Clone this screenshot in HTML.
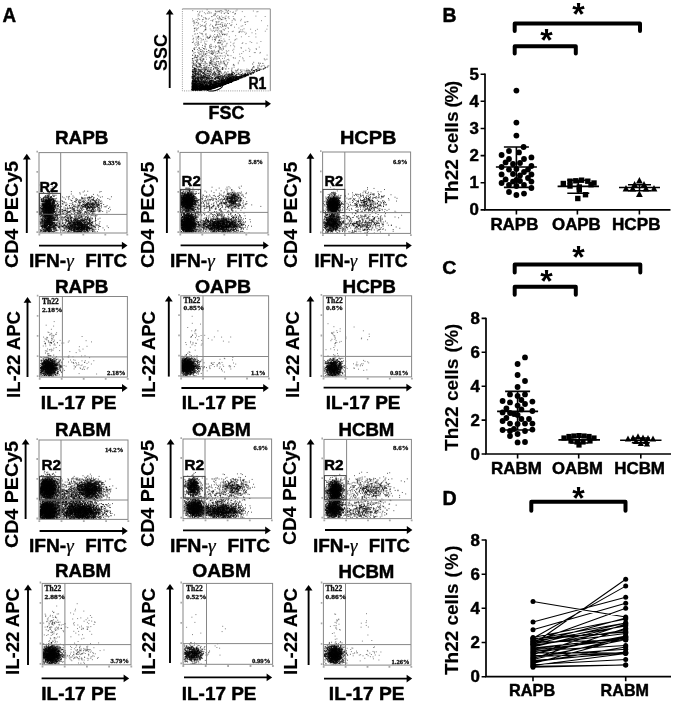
<!DOCTYPE html>
<html lang="en"><head><meta charset="utf-8"><title>Th22 cells figure</title>
<style>html,body{margin:0;padding:0;background:#fff}svg{display:block;filter:blur(.4px)}.s{font-family:"Liberation Sans", Arial, Helvetica, sans-serif;font-weight:bold;stroke:#000;stroke-width:.45px;stroke-linejoin:round}.f{font-family:"Liberation Serif", "Times New Roman", serif;font-weight:bold;stroke:#111;stroke-width:.3px}.sv{stroke-width:.15px}.st{font-family:"Liberation Sans", Arial, Helvetica, sans-serif;font-weight:bold}.gm{font-family:"Liberation Serif", "Times New Roman", serif;font-weight:normal;font-style:italic;stroke-width:.2px}</style></head><body>
<svg width="675" height="703" viewBox="0 0 675 703">
<rect width="675" height="703" fill="#fff"/>
<defs><filter id="bl" x="-5%" y="-5%" width="110%" height="110%"><feGaussianBlur stdDeviation="0.4"/></filter><path id="a" d="M1 27h0M24-10h0M-6-11h0M11-1h0M15-37h0M31-2h0M14-3h0M-8 9h0M16-4h0M-3 14h0M-17-30h0M8-13h0M-38-16h0M-9-24h0M-30 1h0M18-5h0M-15 8h0M14-6h0M11 21h0M-4-16h0M7 5h0M22-26h0M-13-17h0M-35 3h0M11-15h0M28 16h0M13 8h0M19-27h0M12 12h0M-35 7h0M-5 16h0M-9 0h0M7-18h0M12-2h0M10-10h0M22 12h0M-4 13h0M25 36h0M-31 18h0M9-2h0M-20 25h0M-25 11h0M26-32h0M-6-26h0M5 30h0M40-36h0M-11 14h0M32 8h0M-15 6h0M0-4h0" vector-effect="non-scaling-stroke"/><path id="b" d="M-15 8h0M6-2h0M-4-26h0M-10 24h0M-4-29h0M27 11h0M42 1h0M-9-29h0M26 51h0M-16-13h0M12-17h0M-5-7h0M4 22h0M0 18h0M-8 7h0M-43-29h0M16-12h0M12 11h0M26 16h0M20-2h0M-14-15h0M-10-23h0M-11-2h0M5-7h0M-38-1h0M5 22h0M12-13h0M-14 40h0M15 37h0M43-16h0M8 9h0M11 11h0M4 3h0M-30-3h0M-15 3h0M-9 12h0M16 6h0M6 2h0M-9-3h0M-10 8h0M0 12h0M-27 18h0M-15-15h0M-4-11h0M6-11h0M-21-17h0M26 1h0M-23 0h0M-31 36h0M-30 10h0M11-29h0M6 20h0M9 5h0M19 3h0M7-3h0M13-19h0M16-10h0M-22 7h0M34 19h0M-10 14h0M-9-2h0M2-46h0M4-21h0M-14-29h0M-30-19h0M17 33h0M-1 22h0M-5-38h0M3 9h0M-9 6h0M11-17h0M-30-4h0M-4-7h0M20 35h0M-8 14h0M19 14h0M21-8h0M15 40h0M16-12h0M12 25h0M7-11h0M31-25h0M10 0h0M-24 24h0M7-23h0M12-9h0M-38-14h0M5 13h0M3 1h0M9-4h0M24 3h0M6 11h0M-21-14h0M31 7h0M-6 7h0M-10 6h0M-13 6h0M-32 27h0M-10-32h0M-4-7h0" vector-effect="non-scaling-stroke"/><path id="c" d="M3-23h0M8 72h0M-26 7h0M-6 4h0M-36-23h0M9-1h0M33-14h0M3 58h0M-15-18h0M-1-1h0M17 3h0M-15 4h0M53 25h0M-56-3h0M-18 12h0M-3 39h0M19 18h0M4-1h0M7 26h0M11-7h0M26 4h0M-2-16h0M-11-13h0M-56 20h0M11-4h0M21 9h0M7-49h0M-5 11h0M32 37h0M29-23h0M-44 11h0M1 19h0M-3 4h0M-30 9h0M-9 7h0M9-2h0M6 0h0M15 10h0M-11-12h0M35-2h0M20 8h0M-11-15h0M2 5h0M12-25h0M-12-2h0M32-47h0M9-11h0M9-10h0M7 31h0M7 9h0M7-15h0M11-4h0M-16-1h0M-5 15h0M-1-11h0M29 20h0M25 12h0M-2-8h0M-6 19h0M2-30h0M-1-28h0M3-24h0M-25 2h0M-2-33h0M15 43h0M-30 36h0M-14-10h0M-4-29h0M26 10h0M-15-6h0M-30-7h0M19-34h0M-9 3h0M21 27h0M-9-15h0M9-7h0M-6 22h0M34 5h0M-4 11h0M-38 0h0M-21 48h0M14 3h0M-4-50h0M14 33h0M-15 14h0M14-31h0M19 27h0M5-1h0M16-31h0M2 21h0M-25 20h0M-8-42h0M-2-19h0M6-23h0M21-15h0M7-12h0M-6 24h0M4-8h0M-25 23h0M15-7h0M5-21h0M-20-17h0M7 6h0M-15 15h0M16 3h0M21-6h0M-2 9h0M-1 16h0M-25 29h0M-16-3h0M-28 12h0M25 21h0M17-31h0M-16-9h0M-19 22h0M4 0h0M10-19h0M-18-18h0M10 7h0M12 22h0M-27-11h0M3-27h0M-11 20h0M22 22h0M1-4h0M22-7h0M7 27h0M-7-12h0M0 12h0M10 3h0M11-32h0M-17 3h0M-19-27h0M-24-18h0M-4-20h0M5 34h0M-3 25h0M6-22h0M-5-20h0M15-23h0M26 12h0M-40 16h0M31-16h0M20-36h0M5-33h0M10-36h0M-53 8h0M46-12h0M17 2h0M-6 12h0M33-25h0M11 7h0M-28 32h0M39-19h0M35 1h0M-3 30h0M5 6h0M30 26h0M18-28h0M-31 23h0M-19 3h0M-21-4h0M-26 33h0M-20-2h0M-4 24h0M-28-1h0M-4 11h0M9-9h0M5-7h0M9-2h0M-13-1h0M7 45h0M-10 6h0M29-42h0M-35-24h0M-2 49h0M8 24h0M-4-49h0M-46 20h0M4-26h0M22-31h0M23 29h0M-15-22h0M17-22h0M17-24h0M16 2h0M-9-18h0M5-38h0M-6-8h0M14-25h0M34-6h0M-23 28h0M33-4h0M-18 0h0M-14-6h0M31 8h0M3 7h0M-1 17h0M18-7h0M2 48h0" vector-effect="non-scaling-stroke"/><path id="d" d="M8-4h0M41 0h0M-22 13h0M-18-10h0M7-3h0M-15-11h0M-12 23h0M-14-11h0M41-11h0M30 26h0M-3-28h0M9 13h0M19 1h0M24 28h0M-21 29h0M3-11h0M-6 38h0M20-36h0M2-3h0M-4-10h0M-29 17h0M-19-7h0M-12-15h0M15 8h0M-13-19h0M-9 19h0M3 5h0M-7-5h0M4-37h0M32-16h0M-11 27h0M4 1h0M-12-31h0M4 24h0M-18 27h0M-23-15h0M10 0h0M14-15h0M-21-37h0M-24-22h0M-29 6h0M-13-40h0M50-17h0M-25 25h0M23-23h0M-29-20h0M23-6h0M-16-1h0M24-28h0M-8-28h0M43 36h0M19-3h0M13-42h0M6-27h0M-26-14h0M-7 11h0M14 5h0M-19 14h0M-2 24h0M-18-55h0M-10 43h0M9-4h0M18 10h0M9-10h0M2 4h0M-13-22h0M3 19h0M13 10h0M10 52h0M5 21h0M39 1h0M5 21h0M34 6h0M7 2h0M-24 22h0M-5-34h0M-3-35h0M-20 0h0M-18 22h0M-29 5h0M11 29h0M19 5h0M2-1h0M23-13h0M11-2h0M5-5h0M43-13h0M5 6h0M12 9h0M9 20h0M-30 0h0M-24 5h0M-23-19h0M-1 28h0M12 6h0M28-19h0M-42-8h0M-5 25h0M43-26h0M50 32h0M17 8h0M49 2h0M-9 3h0M-27 10h0M-2 7h0M7-21h0M27-20h0M18-32h0M8-16h0M1-13h0M-43-22h0M2 13h0M-29-42h0M-17-4h0M-12-16h0M17 20h0M15-18h0M2-4h0M-28 18h0M2-9h0M29 16h0M17 24h0M15-25h0M-7 20h0M-15 1h0M8 29h0M26 18h0M-3 19h0M11-3h0M27 10h0M-15 26h0M-5 12h0M-30 0h0M-19-19h0M-38 43h0M-3 5h0M22-2h0M10-27h0M4-8h0M10 4h0M-28-37h0M-20 15h0M9 8h0M-40-54h0M-12-7h0M-12 7h0M-3-24h0M-17 3h0M2-1h0M45-5h0M2-20h0M-7 11h0M11-3h0M8 1h0M-38-65h0M46 17h0M-1-35h0M-26 27h0M-56-6h0M17 3h0M15-3h0M48-21h0M-27 5h0M29-1h0M21-11h0M-24 28h0M31 31h0M-9-23h0M-23-4h0M12 10h0M-29 4h0M0 2h0M0-4h0M12 3h0M5-14h0M8-2h0M-42 10h0M-5 19h0M-3-2h0M4 0h0M-9-36h0M37-32h0M-7 13h0M8 11h0M15 25h0M6 58h0M-20 5h0M-7-11h0M6 29h0M-14-14h0M14 11h0M39 21h0M5-7h0M4-4h0M-27 0h0M-4-5h0M-9 34h0M14 19h0M-12-20h0M-6 5h0M-7-4h0M19 6h0M-20-9h0M-13 4h0M-23-4h0M14 1h0M-18-12h0M2 10h0M17-3h0M-26 28h0M6 8h0M6-21h0M-6 5h0M21 1h0M-62-5h0M7 26h0M14 50h0M28 27h0M19-28h0M17 12h0M-11 12h0M8-9h0M-2-5h0M5-8h0M11-38h0M-6-34h0M-10 10h0M0-2h0M1 31h0M-22 18h0M-30-9h0M3-17h0M4 15h0M-24-2h0M-8-39h0M-4-16h0M27-18h0M34-11h0M39 11h0M9 16h0M18 28h0M35-7h0M-25-53h0M-8 15h0M8 2h0M-7-13h0M-6 8h0M-35 15h0M-29-3h0M-13-7h0M-21-23h0M-5-22h0M49-8h0M-13-11h0M-22-49h0M-5 6h0M-30 0h0M-24-1h0M7 10h0M9-14h0M17-9h0M7 14h0M-6-26h0M12-23h0M-18-22h0M17-3h0M-45 15h0M41 36h0M-12 1h0M10 18h0M1-22h0M15 12h0M-27-8h0M5 0h0M10 16h0M11-3h0M-27 12h0M28 39h0M-1-1h0M29 29h0M7 14h0M-15 11h0M-17-3h0M-3-10h0M-43-17h0M6-1h0M-8 8h0M13 17h0M-16 0h0M-7-18h0M-30-2h0M-18 43h0M-2-5h0M-8 37h0M-19-4h0M-16-3h0M-1 22h0M-29-1h0M32-11h0M-4-18h0M-53-2h0M23-10h0M-37 5h0M1 20h0M18-6h0M8-36h0M22 3h0M21 21h0M-6-3h0M-18-42h0M-3 3h0M-22 14h0M2 9h0M-16-36h0M15 12h0M-3-9h0M-6-3h0M-11-41h0M15-30h0M-7-6h0M5-33h0M24 13h0M15 25h0M-16-63h0M6 26h0M23-11h0M-2 6h0M-36-13h0M-13 32h0M-13 31h0M0-34h0M44-19h0M12 34h0M-11-25h0M21 1h0M-25-22h0M-8 19h0M-6 13h0M33 25h0M29 25h0M-32 24h0M7-2h0M-22-32h0M-22 0h0M-24-16h0M-12 13h0M-6-3h0M27-6h0M12-21h0M7 2h0M4-9h0M-21-6h0M-9 21h0M18-24h0M13-10h0M9-10h0M-29 20h0M9-25h0M-38-11h0M-24-7h0M12 29h0M-7 28h0M23-9h0M-33 17h0M12 47h0M29 16h0M34-21h0M4-5h0M35 11h0M-61 28h0M-18 16h0M-9 5h0M13 4h0M-19 28h0M8 0h0M14-10h0M38 5h0M8 7h0M-18-23h0M5 7h0M27 9h0M-21 11h0M17 20h0M7-24h0M24-14h0M12-31h0M16-15h0M22 36h0M24-23h0M-19-17h0M14 7h0M4 7h0M12 13h0M34-1h0M4-37h0M-26-14h0M-23 5h0M21-8h0M-10-10h0M3-11h0" vector-effect="non-scaling-stroke"/><path id="e" d="M9 6h0M7 15h0M1 3h0M35-1h0M16 1h0M-9-9h0M-16 0h0M-12-8h0M24-3h0M23 5h0M17-12h0M3 53h0M16 20h0M5 17h0M-23-17h0M8 16h0M-8-4h0M-7-4h0M-24-29h0M-2-35h0M-20-13h0M-21 4h0M-9-2h0M-21-15h0M10 7h0M-10 7h0M3 3h0M31-9h0M8 8h0M-5-24h0M13 5h0M0 0h0M0-19h0M5-37h0M-1-31h0M-8 13h0M-6-11h0M9-6h0M-9-9h0M29 12h0M9-25h0M11-27h0M8-23h0M38-35h0M23 15h0M-37-6h0M28 22h0M-34-12h0M-25-22h0M-14 36h0M1-6h0M-8 12h0M13-20h0M28-23h0M-7 8h0M33-8h0M4 25h0M11 21h0M19 4h0M11 17h0M-2 31h0M-41-20h0M28 7h0M-14 6h0M20-12h0M14-4h0M-4-3h0M21-24h0M-9 12h0M-26-33h0M10-1h0M-4 2h0M-21 57h0M-21-10h0M-30-10h0M29-1h0M11-11h0M35 2h0M-26 14h0M-9 11h0M2 4h0M1-19h0M-31 18h0M-4 4h0M-11-42h0M-27 27h0M-17-9h0M-31-12h0M-9-6h0M-3-14h0M-13-2h0M5-4h0M34 3h0M2-14h0M19-22h0M-34-21h0M11-24h0M24-2h0M-32-6h0M34-19h0M-28 9h0M25 19h0M-8 2h0M5 22h0M42-4h0M25-8h0M10-20h0M-17 7h0M-19 16h0M-12 0h0M-3-8h0M1 20h0M61-25h0M5-5h0M-20 4h0M-19-3h0M23-42h0M4 8h0M-21 9h0M6-8h0M23-28h0M11-6h0M-23-5h0M-8 15h0M-31-5h0M-11 30h0M-24 20h0M-37 5h0M-4 6h0M-16-41h0M-32 25h0M3-19h0M16-17h0M-16-26h0M22 38h0M-21 4h0M18 41h0M-50 1h0M11-31h0M6 2h0M13-14h0M6-14h0M10 1h0M-9-30h0M31 20h0M16-15h0M-9 31h0M13-19h0M-1 1h0M-6-21h0M23 10h0M-6-33h0M-13-2h0M16-9h0M20 1h0M-17-58h0M-25-31h0M-5 5h0M26-2h0M-25 45h0M5-7h0M-7-29h0M11 6h0M30 21h0M16 24h0M-7-10h0M-2-26h0M-4-8h0M12-2h0M-39-1h0M27-38h0M-16-1h0M-28-12h0M0-27h0M5 7h0M-26 0h0M21-4h0M8 12h0M-6 19h0M7-21h0M10 16h0M15-14h0M8 27h0M4 23h0M25-1h0M13-6h0M21-2h0M-12-1h0M-2 7h0M9-24h0M-14 7h0M9 1h0M52 22h0M-2 14h0M26 7h0M-35 2h0M1 42h0M-37 31h0M-3 19h0M-6 4h0M23 2h0M21-2h0M-8-4h0M-10-2h0M27-23h0M-33 0h0M34 21h0M27 25h0M-14 3h0M-53-12h0M13-31h0M-41-26h0M5 24h0M52 29h0M-30-46h0M4 22h0M-32-10h0M-8 2h0M-3 11h0M22 2h0M16 41h0M-19-20h0M11 38h0M5 23h0M-5 20h0M-11 15h0M9 9h0M29 23h0M-10 19h0M-32 22h0M57 12h0M12 3h0M19-7h0M16-3h0M-6 5h0M1-32h0M44 5h0M-31 24h0M2 7h0M17-15h0M-56 1h0M7 23h0M-13-3h0M10-4h0M-2 8h0M-17 34h0M-16 3h0M-4-12h0M13 23h0M32 14h0M-7 20h0M-26 3h0M13 14h0M-21-28h0M36-8h0M-31-23h0M2 26h0M2 26h0M7 11h0M22-6h0M8-6h0M-11 15h0M-15 3h0M-14 0h0M-9 24h0M3 3h0M34-56h0M-21-54h0M1 10h0M14 6h0M-16 36h0M7-4h0M-22 9h0M-9-8h0M5 5h0M-16 26h0M-19-22h0M7 3h0M2-8h0M1-11h0M-33 15h0M-20-4h0M15 1h0M55-28h0M-15 2h0M27-5h0M-28 23h0M-18-4h0M18-13h0M-9 10h0M-4 6h0M-19-2h0M-22-31h0M35 9h0M18-19h0M0-4h0M-28 11h0M-14-4h0M-30 20h0M15 8h0M-18-11h0M25-5h0M5 3h0M-22 31h0M-40 5h0M-2-32h0M7 10h0M1-16h0M9 22h0M5 35h0M17 15h0M28-13h0M-10 10h0M10 30h0M23 4h0M5-5h0M-7-9h0M18-9h0M-7 3h0M-10-4h0M-43 8h0M-6 4h0M8-36h0M49 4h0M5-34h0M14 10h0M-5 7h0M28-4h0M-16 29h0M8-1h0M49 6h0M-1 8h0M-5 7h0M6-10h0M-2 9h0M10 14h0M18 8h0M13-5h0M-3 23h0M-37 10h0M66-35h0M32-33h0M9 34h0M32-16h0M-24-27h0M16-6h0M1 6h0M9 12h0M4-31h0M30-54h0M26-11h0M-3-10h0M-7 0h0M-5-21h0M18-11h0M28-2h0M-13 9h0M19-18h0M-5 29h0M-19-16h0M4-24h0M-49-33h0M8 14h0M13 9h0M-24 14h0M24-13h0M20-7h0M5 8h0M-29 30h0M-16-1h0M-9 10h0M9 1h0M29 6h0M-7-57h0M-5-5h0M-17-16h0M13 22h0M39 24h0M-13 6h0M-26 15h0M8-11h0M-1-4h0M-12 27h0M63 17h0M22 4h0M-6 45h0M-6 9h0M-2 13h0M0 13h0M-24-1h0M28-20h0M-12 28h0M9 22h0M-44 4h0M-25-27h0M9 25h0M-29-21h0M-11-2h0M-26 46h0M13-6h0" vector-effect="non-scaling-stroke"/><path id="f" d="M-10 47h0M46-9h0M8 26h0M-23-11h0M28-13h0M-8-26h0M-15 14h0M-16-26h0M-12 36h0M4-11h0M3 9h0M3-36h0M6-4h0M17-27h0M21-10h0M-34 27h0M-10 8h0M-3 22h0M22 23h0M14-32h0M-34 4h0M-19 9h0M3-28h0M-21-23h0M-18-4h0M14 27h0M-20-11h0M31 18h0M5-47h0M-20 3h0M-12 40h0M2 6h0M-22-21h0M-14-13h0M-5 7h0M5 20h0M-27 4h0M5 32h0M-4 7h0M-17 8h0M8-13h0M-9-1h0M12-23h0M18-7h0M38 29h0M-8-13h0M50 13h0M11-9h0M-3 16h0M12-17h0M25 6h0M-19 20h0M-4 16h0M-11 7h0M-33 7h0M-31 3h0M-51-1h0M15 10h0M24-22h0M32 32h0M-24-16h0M-12-1h0M4-50h0M12-5h0M-21 19h0M-7 23h0M11-7h0M24 16h0M-10-33h0M-11 12h0M-5 35h0M5 4h0M8-18h0M-3-13h0M-47-36h0M15-9h0M-3-30h0M-12 16h0M2-11h0M31-1h0M-7 23h0M-35 11h0M-23-16h0M-14 2h0M2 6h0M4 28h0M34 14h0M15-8h0M-22 12h0M1 17h0M-37 54h0M-26 1h0M20-28h0M-11-41h0M-29-39h0M2 6h0M-6 25h0M28 0h0M-4-6h0M-9 26h0M5-7h0M-5 11h0M-8 6h0M-1 27h0M23-29h0M-3 14h0M-9 16h0M7 12h0M-1 6h0M11-30h0M-18-20h0M34 6h0M8 4h0M-10-15h0M17-7h0M32 4h0M2-4h0M-1 1h0M31 47h0M-23 5h0M14-18h0M-13-9h0M-48 13h0M-1-2h0M2 5h0M47 4h0M17-10h0M7-6h0M-3-18h0M-16 9h0M15 9h0M-13 7h0M-51 19h0M0 6h0M24-8h0M20-8h0M11-8h0M6 30h0M-13-12h0M-6 6h0M56-11h0M-40-13h0M-31-11h0M1-19h0M-13-37h0M4-14h0M22 22h0M-17-7h0M2 16h0M-33-1h0M38-1h0M5 1h0M-23 20h0M6 4h0M15 17h0M-37 10h0M-11 4h0M-13-16h0M20 1h0M-5-5h0M3 1h0M-46-16h0M-4 16h0M28-18h0M40 3h0M11-9h0M-11 30h0M-3-1h0M25 36h0M-29-2h0M1 38h0M51 1h0M9 19h0M25-5h0M19-12h0M-52-26h0M6 18h0M-43-34h0M1-66h0M13 23h0M-58 18h0M-2 31h0M8-2h0M5 21h0M6 3h0M-26 12h0M3 40h0M2 1h0M-10 17h0M-1-11h0M35 39h0M-6-18h0M26-14h0M60 0h0M22-23h0M2 25h0M12-8h0M52 18h0M-2-9h0M-2 30h0M-12 4h0M-13 28h0M0 20h0M14-9h0M17 22h0M-20 17h0M75-3h0M16-24h0M12-9h0M19 2h0M-21 25h0M-1-17h0M4-16h0M11 2h0M-4 17h0M-23 23h0M-37 36h0M7-2h0M-12 14h0M0 0h0M24-6h0M-2 12h0M25 0h0M6 4h0M18 33h0M-16 0h0M2 15h0M33 3h0M7 26h0M-22-12h0M-6 3h0M8-7h0M39-11h0M-1 25h0M19 3h0M11 20h0M3 16h0M-16 4h0M-30-15h0M-20 28h0M-7 9h0M-16-1h0M-3-15h0M20-31h0M15 57h0M-14 3h0M-29 2h0M-33 15h0M-8-35h0M-24-30h0M-4 19h0M-6-22h0M-15 4h0M-48 13h0M10-49h0M25-32h0M-3 25h0M-32-37h0M-22-21h0M-2-10h0M-9-9h0M-3-17h0M7 1h0M-20 38h0M-25 16h0M-14 8h0M12 18h0M30-16h0M59 9h0M-15-27h0M49 35h0M1 17h0M28 3h0M-7 1h0M19 2h0M-24 17h0M-34-14h0M27 6h0M6 4h0M23 0h0M-38 7h0M-61-40h0M34 23h0M-8 0h0M3 22h0M-14-17h0M-11 4h0M7-7h0M17-19h0M0-13h0M-19 27h0M-5-19h0M2-19h0M14 19h0M22-20h0M-2 39h0M-3 27h0M33-27h0M26 17h0M19 36h0M11 3h0M14-6h0M12-40h0M37-9h0M13 8h0M4 4h0M3-32h0M-10 26h0M-19-20h0M45 26h0M33 1h0M7 17h0M13 0h0M-28-14h0M-29 33h0M-7-2h0M7 2h0M12-12h0M-30 37h0M-13-9h0M-15-10h0M1 16h0M-21 7h0M-13 25h0M-24 3h0M15-27h0M3 4h0M-16-4h0M21 6h0M-8-4h0M10 26h0M17 15h0M32-31h0M-29-46h0M17-46h0M-1 16h0M-28-13h0M-5 15h0M-30 7h0M14 3h0M3 25h0M5 0h0M-7 13h0M-6 13h0M2 23h0M-16 2h0M7 8h0M23 8h0M18 39h0M17-21h0M-29 14h0M-7 6h0M-3 26h0M24-23h0M6-6h0M-26 13h0M-3 9h0M50 27h0M22-8h0M-24 25h0M-6 1h0M-7 2h0M48-6h0M-6 4h0M6-24h0M-36-12h0M-4-16h0M-20-19h0M-8-3h0M-33-11h0M7-3h0M-28-8h0M-1 15h0M-33 13h0M-10 4h0M13-18h0M-17-3h0M14-12h0M-29-15h0M7 22h0M-11-7h0M-4-3h0M-20-10h0M3 1h0M0-21h0M-12-15h0M20 28h0M6 31h0M-7-7h0M-27 4h0M-10 1h0M9-6h0M-23-2h0M-2 0h0M13-5h0M-6 34h0M21-2h0M-19-9h0M7 16h0M47-5h0M3-7h0M1-8h0M-21 20h0M2 25h0M-10 5h0M13-37h0M-26 15h0M2-36h0M-15-21h0M-9 31h0M-11 40h0M-5-14h0M31 19h0M28 39h0M21 25h0M-34-16h0M9 5h0M15-9h0M23 41h0M12 17h0M11 19h0M5-9h0M5 3h0M-29 6h0M1 5h0M-10 10h0M13-13h0M7 16h0M16-17h0M-19 1h0M-20 50h0M-15-15h0M13-9h0M-46-3h0M-19-10h0M-32-18h0M-3-2h0M-22-15h0M-17 2h0M-4-25h0M12-15h0M7-19h0M5-3h0M0 9h0M8 2h0M2-26h0M-3-44h0M-45-7h0M-6 28h0M12 21h0M-7 8h0M22 9h0M6 1h0M-19-18h0M-29 7h0M-6-14h0M6-12h0M20 37h0M8-14h0M-30 39h0M8-24h0M21-33h0M-9-5h0M-8-23h0M47-8h0M7 0h0M-32-11h0M4 18h0M-7 7h0M-7 11h0M-49 12h0M-13-12h0M-57-21h0M12 46h0M-14-13h0M9 5h0M-12-4h0M-8 12h0M16 35h0M18 13h0M3 18h0M-20 43h0M5 28h0M-16 20h0M8-4h0M-13-18h0M36 24h0M2 4h0M-14-37h0M-36-12h0M-3-23h0M16 10h0M3-35h0M-4-1h0M-25-44h0M38 12h0M-8 32h0M22 9h0M4 16h0M29 1h0M-5 12h0M-56 2h0M-8 0h0M-4 7h0M2 1h0M-3 9h0M-10 20h0M-34 4h0M9-25h0M-9 26h0M-3-18h0M-60 7h0M2 12h0M41 0h0M3-14h0M-1-1h0M15 11h0M-15-10h0M28-19h0M15 32h0M13 5h0M27 7h0M0-4h0M23 14h0M31-7h0M-6-9h0M6-14h0M19 7h0M-20-59h0M-37 29h0M-1 3h0M-9 8h0M-38-40h0M-33 1h0M14 9h0M-3-26h0M16-6h0M0-2h0M-9-15h0M-12-26h0M5-4h0M20-36h0M23-2h0M-3-16h0M-16-30h0M18-4h0M14 16h0M-10-5h0M-7 20h0M3 3h0M14-2h0M41-19h0M25 28h0M-23 17h0M6 17h0M-24 5h0M-20-7h0M28-3h0M-45-28h0M-23 20h0M-14-31h0M22 5h0M7-16h0M29-2h0M-39-23h0M-17-3h0M15-15h0M-12 44h0M2-11h0M1-25h0M11 19h0M-12 20h0M-6 6h0M-15-16h0M-30 4h0M-6-5h0M-23-23h0M-13 9h0M6-14h0M6 35h0M2 40h0M9 27h0M-11 23h0M-24 5h0M-7-40h0M-27 23h0M10 26h0M4-58h0M5-11h0M-10-9h0M-15-19h0M25 9h0M-13-9h0M19 8h0M4-25h0M-9-23h0M-38 18h0M-7-8h0M-19 15h0M42 12h0M18-25h0M3 4h0M30 0h0M-19-1h0M-9 29h0M13 7h0M3 17h0M-10-19h0M-38 24h0M10 13h0M1 33h0M-20 24h0M-17-9h0M-25 2h0M-6 8h0M-12-28h0M11 25h0M14-1h0M8-34h0M-7 23h0M9-18h0M17-3h0M14-29h0M-11 6h0M6 11h0M-1-4h0M9 17h0M-31-7h0M-5 3h0M20-27h0M10-35h0M-16-11h0M-6-13h0M-11-7h0M-6-37h0M-28-9h0M10 20h0M56 2h0M-16 3h0M13 2h0M-22-2h0M-1-28h0M-24 23h0M-45 3h0M-6 27h0M12-18h0M25-12h0M39 33h0M-2 15h0M3-18h0M21 8h0M17 21h0M28 20h0M-2 2h0M8-3h0M-5 37h0M10 37h0M-15-1h0M-9-8h0M-6-3h0M-9 36h0M13-15h0M-11 15h0M11-12h0M18-28h0M-9 34h0M-52-4h0M20-3h0M-16-18h0M-41-26h0M1-11h0M0-3h0M6-33h0M-6-7h0M-6-18h0M-43 12h0M16 47h0M14 32h0M12-8h0M10-23h0M5-2h0M-21 24h0M22 9h0M16 33h0M-3-27h0M-19 14h0M5-29h0M26 4h0M32 22h0M-9 2h0M-14-17h0M-6 10h0M27-17h0M14 1h0M-4 23h0M-7 28h0M-6-18h0M16-28h0M-23-3h0M1-5h0M-39-26h0M11 11h0M-19 6h0M5 21h0M-14 30h0M-5 29h0M19-19h0M-6 6h0M21-27h0M-9 13h0M10-20h0M-17 9h0M-20 5h0M19 1h0M-53 24h0M24 29h0M18-33h0M29 8h0M19-2h0M-4-4h0M32 6h0M-3-25h0M10 1h0M4 20h0M15 1h0M5 3h0M15 14h0M4-16h0M18 19h0M-21 8h0M-7-43h0M0 20h0M-14-13h0M21-21h0M-18-6h0M13 13h0M-10-6h0M2-7h0M-17-21h0M15-4h0M58 13h0M-15 0h0M7 8h0M9 9h0M-2 13h0M44-8h0M-7 15h0M25 17h0M25-1h0M-4 13h0M14 34h0M31-36h0M16-13h0M-42 8h0M-3-7h0M-25-20h0M-4-29h0M-2 3h0M-3 6h0M-1-23h0M-20 3h0M19 3h0M-10 3h0M-36-20h0M-7-1h0M-6-5h0M-24-11h0M5-37h0M-24-7h0M30 13h0M31 27h0M-9-1h0M-23 23h0M15 12h0M13 9h0M4 6h0M24-16h0M-21 0h0M23 5h0M-4 17h0M2-38h0M-20-42h0M-4-9h0M9 42h0M-12 0h0M-8-56h0M-15-14h0M6-17h0M-26 12h0M-1-18h0M-15-6h0M16 28h0M-26 23h0M1 7h0M19-19h0M17-26h0M-9-17h0M34 33h0M15 10h0M-10 35h0" vector-effect="non-scaling-stroke"/><path id="g" d="M28 18h0M-2-7h0M-1 27h0M-18 3h0M33 18h0M35 9h0M9 28h0M14 7h0M-10-29h0M30-8h0M-14 18h0M-17-26h0M-11 0h0M6 11h0M20-1h0M8-1h0M-12 9h0M8 38h0M13-13h0M13-4h0M32-33h0M-12-12h0M3-2h0M-30-36h0M5 30h0M30-7h0M10-16h0M-28 25h0M14-6h0M-6 19h0M7-6h0M7 1h0M-7-13h0M19-8h0M-22 37h0M26 11h0M0 5h0M-27 1h0M7-3h0M10-14h0M5-30h0M0-11h0M-25-7h0M1-11h0M19-13h0M19 15h0M-11 29h0M-26 11h0M2 16h0M-30-23h0M-16 1h0M2 1h0M-5-13h0M-26-8h0M11 20h0M-10 21h0M-26 16h0M-21 5h0M-18-19h0M-10 28h0M-13 12h0M3 6h0M6 13h0M-23 1h0M7-11h0M7-20h0M14-13h0M-5 16h0M21-11h0M-12 20h0M-56 26h0M26-21h0M24 7h0M9-45h0M-9-4h0M-8-7h0M-5-56h0M-4-13h0M-2-10h0M0 6h0M35-16h0M33-5h0M-17-28h0M17-30h0M18 7h0M-11-13h0M10 3h0M15 0h0M-10 11h0M-23 17h0M1-22h0M-20-6h0M-36 27h0M19-21h0M-2 33h0M8-20h0M-42-32h0M23 6h0M-26 14h0M-7-13h0M-10-9h0M33-19h0M-8 26h0M30-19h0M41 22h0M-29 36h0M-29 13h0M-23-35h0M17 8h0M-2 4h0M-2-5h0M-21 12h0M0-5h0M-11-6h0M-30-6h0M-19 25h0M-19-9h0M0 16h0M9 0h0M43 0h0M6 54h0M-18 19h0M9-26h0M-12 17h0M-29-4h0M19-5h0M5-13h0M-12-12h0M-7 13h0M2 39h0M11 6h0M45-2h0M-16 3h0M-22 10h0M27 13h0M-8-3h0M10 23h0M-8-8h0M22 4h0M7 10h0M-15-3h0M21-3h0M-4 6h0M8 51h0M-16 3h0M40 1h0M8-29h0M19 17h0M16-3h0M7-1h0M17 0h0M16-26h0M-6-56h0M-3 15h0M-5 47h0M-20-7h0M-18-10h0M-9-29h0M-19 40h0M-5 18h0M-25-2h0M11-3h0M-10-4h0M1 17h0M24-26h0M-41-4h0M0 14h0M21-13h0M41 5h0M-35 19h0M6 6h0M-32-6h0M3-3h0M14 25h0M30 25h0M-3 34h0M5 17h0M-5-28h0M-45 4h0M-13 0h0M18-30h0M-35 5h0M7-5h0M-10-32h0M-2-15h0M9 19h0M-11 8h0M4 14h0M31 13h0M14 16h0M-8 0h0M7 25h0M26 45h0M-22-1h0M-34-11h0M-33 23h0M15-21h0M7 15h0M35 17h0M3-2h0M13 6h0M-9-24h0M21-14h0M-5 16h0M-1 23h0M-22 15h0M-26-30h0M-21 2h0M-13-27h0M24-19h0M-2 5h0M-9 7h0M12-2h0M21-12h0M-21 4h0M-19 8h0M-2-9h0M12 11h0M-59-6h0M3 10h0M-11-23h0M3 14h0M-41-30h0M-12-52h0M-12 16h0M-21 3h0M-18 8h0M13 26h0M1 21h0M8-9h0M29-12h0M3 49h0M17-16h0M6-11h0M-3-30h0M4-31h0M7 7h0M17 44h0M-33-24h0M-20-11h0M18-7h0M-12-23h0M-13-9h0M-2-29h0M-2 11h0M7-25h0M16 16h0M6-25h0M-29 1h0M-21-27h0M18 18h0M13 26h0M18-23h0M23 2h0M9 31h0M9 31h0M1-8h0M-14-3h0M-34-1h0M-2-11h0M-45-43h0M14-19h0M27-14h0M7-29h0M-13-4h0M12 34h0M19-29h0M0-3h0M-13 12h0M32-9h0M22 28h0M-21 35h0M34 6h0M34 5h0M23 13h0M-17 5h0M-3-10h0M-23-16h0M-25 23h0M-39 2h0M-12-25h0M15-16h0M24-4h0M7-3h0M13 19h0M-9 0h0M35-11h0M36-8h0M-11-34h0M-17-35h0M-11 14h0M-1-12h0M-21-14h0M-29-25h0M39 5h0M-18 13h0M30-13h0M-2-25h0M-32 28h0M69-15h0M-33 28h0M21 10h0M29-7h0M6 16h0M-6 10h0M-5 9h0M3-40h0M2-29h0M-17-33h0M16-7h0M-8 25h0M14-4h0M-42 13h0M-5-7h0M15-13h0M-2 18h0M11-12h0M29 23h0M38-1h0M4 21h0M9 3h0M-2-6h0M-13-13h0M8-6h0M-28 1h0M33 27h0M-40-17h0M16 2h0M1-3h0M1-20h0M24-21h0M-3 31h0M22 0h0M0-12h0M-10-5h0M27-9h0M11 9h0M8-5h0M15 3h0M2-9h0M-43 15h0M15-10h0M-3 6h0M-19 15h0M15 17h0M19-37h0M11-8h0M23 22h0M17-1h0M56 0h0M-20 20h0M-28 39h0M21 27h0M21 9h0M-25-11h0M12-3h0M8-13h0M-15 7h0M16 1h0M-19-32h0M41-22h0M-17-14h0M18-14h0M12 7h0M-22 4h0M-24-3h0M15-4h0M-18-8h0M-3 7h0M-45-36h0M10-2h0M0 4h0M-3-9h0M2 13h0M7 0h0M-21 5h0M-23-13h0M3 2h0M22 17h0M10-7h0M0-5h0M34 9h0M-13-17h0M24-17h0M7 3h0M21-17h0M9 4h0M16 27h0M2-4h0M17-28h0M4-19h0M-24-31h0M-33 16h0M17 2h0M21 1h0M-10-21h0M15 16h0M25-16h0M-5-26h0M23 14h0M10 0h0M-3-7h0M22-12h0M18 6h0M-20-28h0M-15 0h0M-25 13h0M23 11h0M-33-46h0M18 30h0M-8 11h0M-5-12h0M20-11h0M17 34h0M-2 37h0M-26 19h0M1 51h0M1-15h0M33-30h0M9-15h0M28-2h0M17 0h0M-22-42h0M36 5h0M-23-6h0M20-29h0M45-5h0M-7 26h0M4-20h0M19 9h0M23-18h0M-22 13h0M-8-43h0M-11 13h0M-14 26h0M-10-2h0M-32-16h0M-4 12h0M4 21h0M-43 1h0M-3-21h0M-1-15h0M9-7h0M10-18h0M25 8h0M36-3h0M-10 3h0M-9-21h0M0-1h0M-13-8h0M-19 3h0M-27 34h0M1 19h0M-24 7h0M-3 20h0M17-33h0M23-30h0M27-1h0M-24 14h0M1-20h0M-15 10h0M-27-17h0M37-15h0M7 9h0M19 18h0M-51-10h0M24-16h0M37 5h0M-24 11h0M39-13h0M11-18h0M-12 2h0M10 7h0M4 48h0M-22-37h0M11 4h0M-29 35h0M-14-28h0M9 13h0M48-31h0M-26-5h0M-9-1h0M-14-31h0M-9 14h0M16-13h0M11 8h0M-10-7h0M1 57h0M3-18h0M-3-11h0M23-43h0M-22 17h0M9 1h0M15-27h0M8-23h0M-26 10h0M-16-7h0M13-21h0M13 46h0M-4 20h0M16-25h0M-27 0h0M-43 1h0M6 10h0M9 27h0M-6 28h0M11 11h0M-3 20h0M-15 15h0M23-13h0M-19-15h0M0 8h0M18 39h0M33 6h0M-7-24h0M17 11h0M-5-3h0M-2-52h0M-1 7h0M-2-21h0M1 10h0M37 22h0M12-1h0M-27-9h0M-27-2h0M22 22h0M19 1h0M21-5h0M-39 3h0M1-35h0M-10-49h0M-9 25h0M-13 27h0M5-15h0M-36 16h0M14-30h0M-8 23h0M-15 8h0M-39-18h0M15-24h0M-29-28h0M-7-31h0M-2 12h0M31-8h0M33 12h0M-4 11h0M31 31h0M16-1h0M17 5h0M4 6h0M37-24h0M-1-22h0M18 23h0M28-7h0M2 16h0M4 6h0M5 6h0M-2 9h0M-29-8h0M-26-1h0M-14 11h0M26-25h0M-15 7h0M30 16h0M10-1h0M-8 8h0M11 4h0M-11-32h0M-17-7h0M-23 7h0M-28-6h0M8 17h0M5 25h0M-11-15h0M23-17h0M-3-34h0M23 15h0M-15-35h0M6 6h0M24 38h0M5-4h0M-4-6h0M-27-18h0M-1-33h0M-26 25h0M-13 17h0M23 1h0M17-3h0M-17-2h0M2 3h0M2-7h0M22-3h0M-8 19h0M-20 0h0M30 2h0M29-5h0M-10-3h0M-11-6h0M-8 17h0M9-3h0M-14 65h0M-3 29h0M-23-14h0M25-21h0M-21 0h0M-14-5h0M4 18h0M4 7h0M27 29h0M-6-36h0M-19 22h0M-9-13h0M-8 33h0M2-7h0M-13-21h0M58 0h0M4-5h0M22-19h0M-38-11h0M8 46h0M-1-16h0M-4-15h0M-15 3h0M7-12h0M23-1h0M3-9h0M8 9h0M14-15h0M14-10h0M3 16h0M31-8h0M-21 4h0M26-6h0M50-37h0M31 25h0M23-16h0M28 25h0M26-3h0M-4 27h0M8-6h0M-16 6h0M-26 13h0M4-30h0M10 25h0M6-26h0M-11 18h0M-25-6h0M24-5h0M-11 17h0M34 9h0M-26-31h0M-4-35h0M-1 19h0M-53-3h0M8-10h0M9 11h0M22 55h0M7-17h0M-20-24h0M15 8h0M10 5h0M33 23h0M21-13h0M-6-25h0M-12 3h0M-24-12h0M42-3h0M-29-24h0M-1 18h0M-1 18h0M7-22h0M22-8h0M39-11h0M-2-10h0M-4 10h0M-3 25h0M10 33h0M2 27h0M25-2h0M52 32h0M12-3h0M0-2h0M7-22h0M2-11h0M35 17h0M35 49h0M11 42h0M9 14h0M-18 3h0M30 12h0M-6 2h0M-13-12h0M-27 24h0M24-1h0M-25-3h0M42-25h0M-9-8h0M18-24h0M7-15h0M-6-23h0M12-8h0M-10 24h0M9 49h0M10 3h0M4 57h0M27-4h0M8-9h0M15-8h0M-9 11h0M29 19h0M17 3h0M-47-2h0M-3 12h0M37 17h0M-33 2h0M-3 16h0M0-37h0M-17-5h0M-40-1h0M-4 23h0M-1-11h0M-1 2h0M21-18h0M-44 57h0M16 2h0M50-22h0M-15-8h0M11-8h0M17-6h0M27 10h0M-33 0h0M-22-2h0M1 46h0M-4-32h0M3-23h0M38 15h0M33-7h0M-20 7h0M-27-19h0M-15-2h0M-30-41h0M30-10h0M-3 13h0M10-13h0M-8 33h0M26 16h0M35-38h0M4-5h0M-38 8h0M14 6h0M-36-3h0M5-4h0M7 11h0M30 6h0M55 6h0M7 17h0M0-5h0M27-42h0M-35 44h0M16 12h0M8 7h0M-18-4h0M-19 25h0M14 6h0M9-1h0M-22 36h0M15-2h0M14 28h0M26 15h0M18-3h0M29 21h0M21-25h0M15 15h0M18-51h0M-37 7h0M-18 9h0M0 19h0M-10-20h0M12-4h0M-23-39h0M65-6h0M-4-39h0M-20-2h0M8 17h0M-14 11h0M25-10h0M-1-36h0M-16-28h0M15-3h0M34 5h0M17 11h0M5-21h0M35-1h0M-37-11h0M-22 25h0M22 32h0M46-12h0M-38-19h0M9-55h0M-12 18h0" vector-effect="non-scaling-stroke"/><path id="u" d="M-13-20h0M4 8h0M-16 3h0M-1 0h0M17-18h0M-13-17h0M5 14h0M1-19h0M0-16h0M-17-8h0M14 8h0M19-1h0M-13-5h0M-17-4h0M4 6h0M19-5h0M-16 15h0M-13-7h0M-14 8h0M15-12h0M3-19h0M7-14h0M-7 2h0M-2 11h0M-19-12h0M-12-4h0M14 19h0M19-13h0M-12-9h0M4 13h0M0-19h0M7 5h0M-5 1h0M-10-8h0M3-5h0M-6-14h0M15 1h0M15 4h0M-17-19h0M-13-5h0M-13-6h0M17-19h0M-17 8h0M9-10h0M-17-6h0M8-9h0M0-3h0M16 5h0M-6-4h0M-15 12h0M-12-15h0M-7 7h0M1-20h0M3 10h0M9-12h0M-17-5h0M-12 18h0M7-8h0M13 4h0M-18-11h0M-10 17h0M6-12h0M14-4h0M20 2h0M-20-4h0M7-3h0M6-16h0M-19-16h0M6-11h0M13 12h0M-15-18h0M7 8h0M15-6h0M-19 10h0M4 18h0M-8-20h0M-18 15h0M-6-17h0M-19 6h0M-6 10h0M4-11h0M4-4h0M7-10h0M-8-13h0M-15-4h0M5 3h0M-12-4h0M-3-11h0M5-6h0M-16 7h0M-13-6h0M11-15h0M2 4h0M-9-15h0M-4-11h0M-5-14h0M-4 17h0M-20 3h0M-3 14h0M11-2h0" vector-effect="non-scaling-stroke"/><path id="v" d="M-10 18h0M13 15h0M-17-4h0M-1-8h0M-11-7h0M-13 18h0M16 5h0M3 20h0M0 10h0M-19-3h0M-12-17h0M14 9h0M-6-15h0M12-6h0M11 4h0M9 4h0M18-10h0M15 5h0M8 19h0M-19-9h0M9 12h0M-10-1h0M14 19h0M19-12h0M-5-3h0M-1 14h0M-1-8h0M5 12h0M4 17h0M19 10h0M16-17h0M3-19h0M-9 6h0M7 13h0M14-9h0M-2 11h0M-12 15h0M-19-5h0M-18-9h0M14 19h0M-3-11h0M-7 14h0M-12 11h0M-8-10h0M16-11h0M18-2h0M20 9h0M13 2h0M19 9h0M-3-18h0M-12 15h0M18-19h0M-4-2h0M-14-19h0M14 13h0M15-8h0M15 19h0M12-6h0M-5 0h0M17 0h0M-3-18h0M-7-12h0M-1-1h0M-12-17h0M5-10h0M7 3h0M15-9h0M19 14h0M0-6h0M-12 3h0M-13-6h0M-17 7h0M4 7h0M14 2h0M-5-10h0M1-3h0M-2-9h0M-12 12h0M19 7h0M4-13h0M-2 18h0M18-17h0M14-11h0M18-11h0M11 18h0M-18-19h0M1-3h0M18-8h0M-19 15h0M4 1h0M5 16h0M-10-10h0M20 1h0M-19 10h0M3-18h0M-5 4h0M15 6h0M5 10h0M-3 12h0M9-16h0M9 16h0M18-2h0M-15 3h0M-16 3h0M10 4h0M8 10h0M-1-10h0M12 0h0M8-4h0M16-4h0M4 5h0M1 12h0M-9-18h0M-14-3h0M8-14h0M-3 5h0M-12 6h0M6-11h0M16 18h0M17-11h0M-7 2h0M13-19h0M-10 6h0M-11-11h0M20 4h0M8-16h0M-8-15h0M-10-15h0M-15 11h0M-9 16h0M-20-7h0M-8-4h0M3 0h0M-6-6h0M8-7h0M8 0h0M-10 10h0M2 5h0M-17-2h0M1-4h0M-5-15h0M0 11h0M3-8h0M-12-5h0M-7-12h0M-4-6h0M1 13h0M-6 7h0M-13-10h0M14 10h0M9 13h0M16 18h0M9 17h0M-9-1h0M-12-16h0M-4-6h0M5-4h0M-14 0h0M-7 11h0M8 18h0M19 3h0M-10 3h0M-8 1h0M10 9h0M-2-8h0M-19 14h0M13 4h0M12-12h0M6-8h0M13-4h0M-1-5h0M-3 15h0M19-9h0M12 18h0M1 4h0M13 6h0M1 16h0M2 11h0M17-7h0M13-12h0M2 6h0M14-7h0M19 10h0M17-10h0M2-2h0M18 13h0M-13 16h0M-6-1h0M-18 0h0M16-1h0M-19 14h0M-1-16h0M8-13h0M4-3h0M-10-3h0M-8-1h0M3 0h0M-18 3h0M18 14h0M-3 11h0M-13 8h0M-13-17h0M7-6h0M1-18h0M-11-17h0M17-15h0M17-17h0M-12 8h0M5-18h0M-7-15h0M-7-6h0M2 10h0M-19 7h0M17-7h0M6-2h0M-8 1h0M-18 7h0M2-9h0M-19 17h0M6-18h0M12-16h0M-2-15h0M17 6h0M7-6h0M-7-17h0M15-15h0M4-12h0M-16-18h0M-7-15h0M14 4h0M-13-19h0M-1 14h0M-10 3h0M-10 19h0M-10-12h0M5-8h0M15 11h0M8 18h0M-3-18h0M-7-10h0M-13-4h0M-18-20h0M1-14h0M13-16h0M-16 3h0M12 11h0M14-1h0M-10-19h0M18 4h0M18 14h0M6 11h0M-13 16h0M14-1h0M-2 0h0M3-13h0M18-6h0M-19 4h0M-14 20h0M17 10h0M-17 14h0M-13 5h0M-13 9h0M8-6h0M-10 14h0M18-13h0M20 3h0M-7-1h0M-17 0h0M4 1h0M-19 10h0M0-13h0M13 5h0M-19-3h0M11 6h0M-5 12h0M-1-14h0M-14 16h0M-10 4h0M-10-7h0M-7-19h0M-20-16h0M9-9h0M-2 5h0M0 16h0M11 15h0M-8 19h0M18 6h0M12-13h0M19-12h0M12-19h0M11 3h0M-4-9h0M-1-8h0M-6 20h0M-5 15h0M-2 15h0M8 14h0M9 5h0M16 7h0M13 7h0" vector-effect="non-scaling-stroke"/></defs>
<text class="s" x="2.4" y="21.6" font-size="19.42" textLength="13.6" lengthAdjust="spacingAndGlyphs" fill="#000">A</text>
<text class="s" x="442.4" y="21.5" font-size="19.42" textLength="14.0" lengthAdjust="spacingAndGlyphs" fill="#000">B</text>
<text class="s" x="442.2" y="273.9" font-size="19.13" textLength="14.2" lengthAdjust="spacingAndGlyphs" fill="#000">C</text>
<text class="s" x="442.4" y="505.2" font-size="19.42" textLength="14.2" lengthAdjust="spacingAndGlyphs" fill="#000">D</text>
<path d="M182.4 8.9H270.3V90.9" stroke="#8a8a8a" stroke-width="1" fill="none"/>
<path d="M182.4 8.9V90.9H270.3" stroke="#9a9a9a" stroke-width="1" stroke-dasharray="1 1.2" fill="none"/>
<path d="M227.7 82.9h0M235.7 77.8h0M228.9 80.5h0M208.5 87.7h0M254.0 70.6h0M201.7 89.7h0M233.3 72.4h0M232.3 76.9h0M213.8 84.0h0M203.9 89.4h0M215.9 86.4h0M208.8 88.7h0M217.1 87.0h0M223.5 84.1h0M244.2 74.7h0M259.5 69.8h0M231.5 79.5h0M230.3 81.7h0M224.4 83.5h0M202.2 86.8h0M227.8 82.4h0M218.2 80.9h0M228.3 82.2h0M225.0 82.4h0M227.7 83.1h0M222.6 81.9h0M205.5 85.4h0M207.8 84.2h0M209.7 87.4h0M218.5 82.7h0M219.7 81.2h0M229.7 81.3h0M205.4 88.7h0M210.9 88.6h0M231.2 78.4h0M217.1 85.9h0M215.9 86.5h0M236.6 77.3h0M220.6 82.5h0M231.0 77.7h0M201.9 85.9h0M214.3 86.6h0M228.0 71.8h0M218.7 84.8h0M200.8 84.1h0M246.9 75.6h0M211.7 88.5h0M218.4 85.6h0M230.4 80.1h0M210.2 86.0h0M212.5 87.7h0M228.8 78.8h0M228.3 83.0h0M230.0 82.5h0M214.5 85.3h0M225.9 82.0h0M215.0 81.6h0M230.8 81.7h0M208.3 83.1h0M203.2 89.8h0M226.4 81.4h0M208.8 83.7h0M227.0 83.4h0M262.9 63.4h0M215.8 87.5h0M201.9 88.5h0M224.9 83.8h0M235.7 78.4h0M236.1 71.8h0M235.8 79.2h0M237.4 79.4h0M203.1 88.4h0M215.5 84.7h0M230.8 77.5h0M212.5 81.0h0M231.0 81.5h0M225.4 81.1h0M204.3 87.1h0M214.8 87.0h0M215.2 86.4h0M231.7 81.6h0M201.9 87.2h0M236.5 78.5h0M229.2 82.6h0M212.2 87.2h0M207.6 89.4h0M230.1 80.2h0M209.6 87.8h0M229.6 80.8h0M201.8 89.5h0M205.8 85.3h0M236.5 76.9h0M222.5 84.6h0M208.7 88.3h0M230.1 81.5h0M229.9 76.7h0M199.0 86.4h0M230.8 82.1h0M244.6 75.7h0M244.8 75.5h0M222.2 84.3h0M236.5 74.6h0M230.9 81.7h0M233.9 76.8h0M230.3 81.3h0M210.8 87.7h0M228.1 82.4h0M223.0 84.0h0M203.5 89.3h0M235.3 80.4h0M231.9 81.4h0M217.5 86.1h0M216.2 87.1h0M230.3 78.4h0M208.4 88.6h0M232.0 75.7h0M229.1 82.7h0M234.1 78.4h0M209.8 89.1h0M229.2 80.5h0M229.9 78.6h0M199.3 88.2h0M228.2 82.6h0M218.7 86.4h0M221.2 85.5h0M231.2 80.8h0M202.0 85.9h0M215.5 85.9h0M246.4 75.6h0M215.6 87.2h0M239.4 77.3h0M220.7 85.7h0M219.3 85.2h0M200.5 89.2h0M228.7 81.5h0M228.6 82.1h0M232.0 81.4h0M216.6 85.3h0M200.7 89.4h0M230.0 81.7h0M230.4 80.3h0M212.5 86.0h0M217.0 78.3h0M222.7 84.5h0M229.9 80.0h0M223.3 79.0h0M230.7 81.6h0M236.1 76.9h0M231.1 79.4h0M199.6 89.5h0M224.6 84.5h0M204.8 89.4h0M214.2 82.4h0M233.1 80.7h0M219.3 79.7h0M231.7 81.4h0M221.7 83.6h0M211.9 87.5h0M222.6 82.5h0M214.4 87.6h0M250.3 73.6h0M230.0 81.8h0M215.3 86.2h0M208.3 88.0h0M240.8 77.5h0M238.0 77.2h0M245.9 75.7h0M208.7 87.8h0M231.2 82.0h0M227.0 80.3h0M219.4 85.2h0M228.8 83.0h0M210.9 83.2h0M217.3 86.7h0M213.6 86.8h0M220.5 86.0h0M230.7 81.7h0M203.6 88.4h0M230.9 79.2h0M221.0 84.7h0M225.3 83.2h0M260.2 63.3h0M227.7 82.8h0M239.2 78.5h0M222.4 84.4h0M207.7 88.5h0M215.8 84.7h0M221.5 85.6h0M237.8 78.0h0M229.2 81.7h0M233.9 72.9h0M209.6 88.1h0M220.7 85.1h0M201.8 87.3h0M220.9 85.3h0M229.9 79.7h0M219.4 82.6h0M235.9 79.8h0M228.6 82.7h0M223.0 83.9h0M228.4 80.9h0M237.7 78.7h0M211.0 88.7h0M201.9 84.3h0M216.9 85.5h0M219.6 83.5h0M229.4 81.6h0M228.3 81.0h0M200.9 83.5h0M229.8 81.3h0M230.7 75.9h0M222.0 84.2h0M211.5 87.7h0M230.3 79.4h0M247.8 73.4h0M216.5 87.0h0M221.9 85.1h0M220.1 82.8h0M221.4 85.3h0M211.7 88.3h0M237.1 78.5h0M219.0 85.7h0M214.2 86.8h0M217.6 86.5h0M199.6 85.7h0M206.3 88.5h0M211.7 87.9h0M243.0 75.3h0M220.7 80.7h0M228.5 82.1h0M210.7 87.2h0M202.5 89.3h0M219.5 86.2h0M203.2 84.4h0M228.4 76.2h0M203.0 87.5h0M243.8 76.7h0M202.9 89.1h0M209.5 88.7h0M231.4 81.1h0M222.5 84.9h0M231.5 77.5h0M211.0 88.9h0M225.1 84.2h0M234.5 76.8h0M218.1 85.5h0M213.3 84.5h0M258.6 70.4h0M226.1 83.1h0M203.4 89.6h0M228.4 74.3h0M226.0 74.2h0M231.8 80.5h0M219.2 84.1h0M227.8 78.9h0M241.5 76.8h0M233.7 79.6h0M220.3 85.3h0M206.3 86.2h0M211.2 87.3h0M219.6 85.7h0M231.4 81.5h0M209.0 87.3h0M212.0 86.5h0M199.7 87.5h0M222.0 84.3h0M206.7 88.8h0M232.3 81.1h0M221.2 83.8h0M214.3 85.2h0M238.8 78.9h0M236.0 76.0h0M230.8 81.9h0M202.0 89.2h0M214.3 85.1h0M206.7 89.4h0M235.8 78.7h0M240.9 77.1h0M230.2 80.9h0M226.7 83.4h0M220.4 86.0h0M205.2 85.7h0M226.2 83.4h0M231.9 81.2h0M223.6 82.9h0M222.0 84.9h0M226.4 82.6h0M208.8 87.4h0M221.2 85.0h0M248.9 72.2h0M253.4 72.5h0M209.8 89.0h0M204.1 89.1h0M250.6 73.1h0M233.0 79.5h0M212.9 86.9h0M227.1 81.8h0M228.6 81.4h0M253.7 70.5h0M206.2 89.0h0M229.4 78.2h0M202.1 89.1h0M212.0 84.5h0M230.4 81.9h0M201.8 86.7h0M229.5 74.8h0M227.6 81.6h0M228.0 80.9h0M225.3 77.4h0M235.4 80.0h0M215.7 87.3h0M205.4 89.4h0M209.1 87.0h0M209.1 85.5h0M231.6 81.5h0M210.1 89.0h0M206.6 88.6h0M230.5 80.0h0M246.2 75.1h0M228.9 82.0h0M227.2 82.0h0M220.4 85.3h0M213.1 88.3h0M205.5 89.7h0M202.5 84.4h0M202.4 89.5h0M210.5 80.6h0M212.4 87.4h0M237.6 77.7h0M216.7 85.6h0M231.7 80.4h0M222.8 84.5h0M203.8 89.0h0M204.3 89.7h0M200.3 88.7h0M230.1 82.3h0M210.1 86.1h0M205.3 88.6h0M238.1 78.6h0M232.2 80.7h0M214.2 85.8h0M199.4 90.0h0M222.6 79.2h0M236.0 80.1h0M215.1 87.6h0M258.6 63.1h0M221.3 85.0h0M231.7 79.0h0M230.0 82.1h0M201.3 88.8h0M215.3 87.2h0M206.7 86.7h0M202.4 88.4h0M205.4 89.4h0M207.2 86.2h0M229.3 79.9h0M229.0 81.3h0M233.2 79.6h0M231.9 81.0h0M209.4 86.8h0M241.0 76.4h0M213.5 86.9h0M212.9 87.3h0M224.4 79.4h0M228.6 82.5h0M208.1 87.1h0M233.6 77.9h0M221.3 83.3h0M220.3 85.7h0M229.1 81.7h0M202.5 88.1h0M205.0 89.6h0M209.2 88.7h0M232.8 78.3h0M223.9 83.0h0M234.4 80.2h0M221.5 83.5h0M235.5 76.0h0M225.5 83.9h0M247.6 75.0h0M218.6 85.1h0M210.5 88.3h0M210.7 88.4h0M228.2 79.3h0M227.5 81.6h0M210.2 84.7h0M205.3 86.2h0M199.1 88.9h0M229.7 80.9h0M227.1 82.3h0M219.6 85.8h0M231.7 73.5h0M250.7 73.8h0M211.1 82.5h0M225.3 80.3h0M220.8 81.3h0M201.2 89.4h0M212.2 87.8h0M221.7 84.8h0M213.9 86.7h0M237.2 78.8h0M230.9 81.6h0M214.4 87.8h0M222.7 84.0h0M216.6 85.1h0M201.7 89.4h0M206.8 87.1h0M201.1 87.4h0M205.3 87.9h0M241.3 77.4h0M212.7 87.4h0M209.6 88.8h0M230.7 80.6h0M226.0 81.1h0M199.7 90.0h0M236.9 77.8h0M216.6 86.9h0M231.7 76.2h0M207.8 85.7h0M216.9 86.6h0M206.3 89.2h0M227.3 83.4h0M209.6 88.0h0M199.8 89.6h0M228.3 83.0h0M234.0 79.8h0M220.7 84.5h0M227.3 76.9h0M230.0 78.9h0M227.5 81.1h0M232.1 79.3h0M239.0 77.1h0M214.2 85.0h0M207.7 86.2h0M214.9 85.1h0M210.1 88.6h0M228.1 82.2h0M226.4 82.9h0M203.7 89.2h0M204.4 88.9h0M211.7 87.8h0M214.3 87.3h0M230.6 81.3h0M230.1 81.3h0M230.9 81.0h0M223.1 83.2h0M221.3 84.8h0M247.7 73.0h0M211.3 88.2h0M199.1 87.6h0M226.5 83.4h0M208.1 87.6h0M233.6 77.7h0M230.3 74.3h0M209.7 88.7h0M232.1 79.4h0M206.6 88.2h0M227.2 83.1h0M238.0 79.3h0M217.4 82.9h0M227.9 81.3h0M224.1 79.9h0M256.4 70.0h0M243.5 76.8h0M206.1 89.5h0M232.2 81.2h0M209.9 88.2h0M201.0 89.8h0M212.4 87.6h0M213.8 84.1h0M208.5 87.7h0M211.7 86.7h0M229.1 82.0h0M211.4 86.5h0M219.4 83.4h0M242.3 77.4h0M205.5 88.9h0M215.9 84.2h0M214.1 88.0h0M222.5 83.9h0M223.8 84.6h0M227.0 82.5h0M225.8 83.8h0M221.1 85.3h0M222.8 81.0h0M204.2 88.6h0M222.1 83.7h0M239.9 77.8h0M203.0 89.4h0M212.1 88.7h0M199.7 88.8h0M248.3 74.6h0M224.6 84.2h0M203.3 86.6h0M220.2 84.6h0M205.4 88.8h0M235.7 78.5h0M214.2 85.2h0M204.7 89.7h0M234.7 77.2h0M234.1 76.7h0M220.6 84.5h0M216.5 85.2h0M221.6 80.3h0M207.1 89.5h0M222.3 85.3h0M223.2 81.4h0M222.8 80.7h0M201.3 90.0h0M230.2 82.4h0M208.0 88.9h0M241.4 77.1h0M216.1 85.5h0M216.1 85.7h0M207.2 89.3h0M207.7 87.2h0M211.0 88.0h0M224.8 82.5h0M200.3 89.4h0M240.3 77.4h0M199.4 89.6h0M231.2 81.3h0M208.7 88.4h0M229.3 82.5h0M210.8 88.9h0M235.5 77.3h0M252.7 64.0h0M229.9 75.0h0M205.2 88.1h0M236.1 79.1h0M220.8 85.4h0M245.7 74.4h0M221.3 81.5h0M199.6 89.3h0M206.6 87.0h0M229.1 82.3h0M254.6 72.1h0M213.8 85.5h0M226.7 82.0h0M199.8 90.1h0M206.5 89.4h0M200.6 88.2h0M212.7 88.1h0M220.4 84.3h0M204.1 88.0h0M226.7 83.1h0M234.5 73.5h0M230.1 81.9h0M204.3 88.2h0M228.1 81.6h0M205.6 89.1h0M223.1 84.5h0M226.7 81.1h0M207.4 86.6h0M228.7 82.4h0M218.3 85.2h0M234.9 79.7h0M214.8 86.9h0M233.7 80.4h0M214.3 82.8h0M230.8 81.9h0M214.0 86.8h0M212.4 87.0h0M233.6 74.9h0M208.7 87.6h0M207.7 89.2h0M247.5 74.8h0M202.8 89.4h0M205.8 88.8h0M216.4 86.4h0M265.4 67.5h0M206.9 87.9h0M211.3 80.6h0M215.6 87.3h0M221.3 84.1h0M245.4 74.8h0M227.1 83.0h0M213.2 87.2h0M229.1 82.4h0M212.7 86.1h0M206.9 88.9h0M230.4 75.1h0M201.3 89.4h0M231.3 79.1h0M220.8 83.3h0M239.1 77.6h0M208.2 88.7h0M229.9 81.7h0M212.5 87.9h0M218.7 84.8h0M202.0 87.2h0M228.4 81.6h0M202.4 88.5h0M231.2 81.8h0M228.2 82.3h0M230.2 80.2h0M228.8 78.4h0M226.3 83.6h0M206.7 89.2h0M228.8 80.7h0M213.9 87.2h0M201.1 89.9h0M199.3 78.2h0M205.7 88.9h0M199.5 85.6h0M215.5 85.8h0M201.5 87.6h0M228.7 76.8h0M221.7 85.3h0M230.4 80.5h0M226.8 83.4h0M225.3 84.1h0M209.8 89.2h0M227.0 81.9h0M229.7 82.3h0M245.5 73.5h0M210.6 88.5h0M230.7 82.0h0M230.1 79.3h0M210.5 87.1h0M228.2 83.0h0M232.2 81.0h0M220.9 84.5h0M206.7 88.8h0M252.4 72.4h0M229.3 79.9h0M210.3 82.4h0M245.2 75.3h0M200.4 89.2h0M210.3 88.6h0M206.2 86.7h0M214.1 88.0h0M231.1 79.6h0M199.2 86.3h0M208.7 88.7h0M226.1 83.4h0M237.1 78.3h0M229.6 82.1h0M226.5 82.8h0M203.7 88.6h0M218.5 83.4h0M234.3 79.3h0M221.9 83.8h0M211.7 88.5h0M208.6 89.0h0M204.8 86.6h0M228.8 80.4h0M228.3 82.6h0M228.6 80.8h0M221.9 85.0h0M215.2 85.5h0M210.5 88.4h0M230.9 75.8h0M210.3 84.5h0M230.2 80.0h0M208.8 88.2h0M225.7 79.8h0M228.4 81.7h0M226.6 82.5h0M231.2 81.0h0M229.9 81.5h0M208.2 88.3h0M216.2 82.1h0M206.1 89.3h0M201.8 86.9h0M238.2 78.9h0M222.7 85.2h0M224.7 83.6h0M199.6 88.9h0M230.1 77.2h0M207.2 89.6h0M208.6 87.8h0M226.5 81.7h0M228.5 82.1h0M228.1 80.8h0M233.7 80.7h0M214.3 87.1h0M210.8 86.6h0M224.8 84.5h0M236.3 76.7h0M228.6 81.7h0M211.7 88.0h0M223.7 84.8h0M220.1 85.8h0M209.9 86.5h0M216.5 86.6h0M219.0 84.9h0M216.7 86.2h0M202.7 89.5h0M231.7 74.1h0M230.9 81.7h0M200.2 89.1h0M230.2 80.8h0M216.5 85.7h0M203.1 89.0h0M226.1 83.8h0M222.5 82.9h0M242.1 76.2h0M200.6 88.1h0M255.4 69.9h0M234.8 80.3h0M229.0 82.5h0M207.9 86.9h0M224.9 82.3h0M227.8 77.9h0M210.7 88.0h0M212.5 88.3h0M240.6 77.6h0M199.2 88.9h0M206.6 89.2h0M209.9 85.3h0M202.6 87.7h0M213.1 87.5h0M210.9 89.1h0M223.9 84.3h0M214.5 86.9h0M232.5 81.1h0M212.9 84.4h0M241.1 75.5h0M228.6 80.7h0M216.1 86.7h0M221.7 81.3h0M201.9 89.9h0M230.7 82.0h0M215.5 86.5h0M230.8 81.0h0M224.1 80.4h0M231.5 79.3h0M219.8 77.8h0M237.0 76.4h0M229.9 76.2h0M234.3 77.4h0M223.5 83.6h0M229.3 81.6h0M211.8 88.7h0M259.5 70.5h0M228.9 79.3h0M233.2 80.2h0M223.3 84.4h0M229.5 82.4h0M201.2 89.7h0M224.4 81.0h0M223.8 84.5h0M232.8 80.8h0M214.4 86.3h0M226.2 81.7h0M252.0 70.1h0M208.6 88.0h0M227.1 83.3h0M207.9 89.5h0M233.0 78.2h0M207.1 87.5h0M209.0 89.0h0M217.3 84.0h0M220.6 83.4h0M228.0 82.1h0M229.5 79.9h0M223.6 83.3h0M220.0 86.0h0M211.7 88.5h0M224.6 83.7h0M228.6 78.8h0M229.2 81.9h0M203.2 87.7h0M204.5 86.9h0M224.2 84.7h0M209.1 89.3h0M218.3 84.8h0M203.8 88.9h0M223.9 83.9h0M223.5 84.9h0M244.5 74.6h0M207.6 89.5h0M225.4 83.9h0M237.3 78.8h0M247.2 75.1h0M215.6 82.8h0M211.1 80.9h0M213.7 86.2h0M204.8 88.0h0M215.4 87.6h0M206.6 88.4h0M204.3 89.1h0M201.1 78.6h0M214.5 87.9h0M222.0 83.8h0M220.5 85.7h0M231.2 74.6h0M228.2 81.1h0M228.6 81.6h0M213.7 87.2h0M225.4 82.6h0M216.4 86.2h0M228.1 80.0h0M215.7 86.8h0M225.0 82.6h0M209.3 89.4h0M226.4 77.3h0M199.6 87.6h0M206.9 86.7h0M204.8 86.9h0M207.5 85.4h0M230.2 79.4h0M199.8 89.4h0M229.7 81.4h0M218.0 85.7h0M222.2 84.8h0M224.5 83.9h0M241.6 77.1h0M206.3 88.4h0M227.1 80.6h0M203.0 88.9h0M201.1 81.3h0M206.6 86.9h0M215.3 87.1h0M239.0 76.4h0M228.6 82.8h0M217.6 85.8h0M216.2 86.9h0M221.9 84.1h0M228.5 79.4h0M210.1 88.5h0M202.1 84.8h0M205.6 88.9h0M229.5 82.3h0M225.3 83.6h0M200.5 88.8h0M228.7 82.5h0M240.4 70.1h0M218.6 85.9h0M229.9 81.4h0M226.0 83.3h0M219.6 84.7h0M221.3 85.0h0M204.2 88.8h0M218.9 86.4h0M210.8 85.8h0M201.5 89.6h0M203.4 88.8h0M241.4 74.5h0M241.2 75.9h0M224.3 83.4h0M203.0 85.3h0M236.0 79.9h0M209.3 88.5h0M251.6 69.8h0M205.9 87.2h0M212.3 87.4h0M225.1 82.9h0M200.3 88.9h0M226.6 80.1h0M230.4 77.0h0M229.3 75.9h0M210.9 87.4h0M206.7 86.0h0M205.0 87.6h0M231.2 81.9h0M227.1 79.4h0M199.1 89.9h0M224.9 83.1h0M221.0 85.1h0M230.9 81.5h0M201.3 88.9h0M223.3 84.3h0M209.3 88.1h0M229.5 79.2h0M205.9 85.6h0M213.1 85.5h0M202.8 88.2h0M204.9 89.3h0M224.3 83.6h0M215.5 86.5h0M220.8 83.5h0M223.2 84.5h0M219.0 85.8h0M205.5 87.4h0M222.1 82.5h0M235.6 79.2h0M235.9 77.8h0M213.8 81.4h0M202.8 87.7h0M228.9 82.0h0M220.5 84.8h0M211.2 88.3h0M211.9 84.1h0M216.2 86.9h0M234.0 79.8h0M229.8 82.2h0M229.0 75.4h0M231.7 81.8h0M210.4 86.8h0M223.0 80.2h0M208.5 88.7h0M219.6 84.7h0M231.6 81.7h0M239.4 77.0h0M232.1 76.4h0M228.5 82.1h0M226.9 83.3h0M237.8 76.5h0M200.5 85.6h0M235.2 79.5h0M233.6 80.1h0M221.7 80.2h0M210.1 89.0h0M231.2 80.4h0M220.0 80.4h0M239.9 78.3h0M243.1 75.0h0M203.0 88.5h0M227.1 75.6h0M223.5 78.0h0M226.6 81.6h0M218.1 82.5h0M218.0 86.4h0M216.5 86.7h0M223.3 85.0h0M209.9 88.5h0M215.4 87.5h0M214.5 84.4h0M220.8 85.8h0M206.1 89.6h0M229.8 81.2h0M201.9 86.8h0M204.9 89.7h0M227.3 82.0h0M248.4 74.5h0M223.7 82.8h0M213.7 88.1h0M230.7 82.2h0M214.4 78.6h0M227.5 79.3h0M215.8 84.4h0M211.3 83.8h0M228.2 82.8h0M215.0 86.4h0M207.5 88.8h0M222.0 83.8h0M209.5 87.8h0M218.0 85.7h0M207.6 89.2h0M223.9 83.0h0M231.1 80.9h0M229.2 82.6h0M229.6 81.6h0M222.7 84.5h0M223.3 84.5h0M210.2 89.2h0M226.7 83.6h0M230.9 82.0h0M231.6 81.7h0M228.6 81.9h0M220.8 85.8h0M226.4 80.5h0M233.4 79.2h0M223.2 83.6h0M203.1 85.6h0M247.9 74.5h0M225.4 79.6h0M203.7 89.4h0M207.0 89.4h0M253.1 73.3h0M224.2 83.9h0M203.9 87.9h0M230.7 79.4h0M210.4 86.1h0M236.6 78.5h0M223.8 84.0h0M215.0 82.2h0M211.0 88.5h0M245.9 75.7h0M201.9 87.2h0M219.8 84.4h0M224.5 82.3h0M230.7 81.3h0M228.3 83.2h0M229.9 81.2h0M231.5 80.4h0M230.0 80.5h0M229.3 81.8h0M204.1 89.3h0M227.4 83.2h0M222.2 84.5h0M226.7 83.2h0M216.7 85.8h0M215.7 84.1h0M234.9 75.2h0M232.0 80.5h0M228.7 80.8h0M204.3 89.7h0M224.5 84.3h0M208.1 88.3h0M233.9 80.8h0M205.5 89.6h0M194.0 88.1h0M194.2 89.3h0M196.2 86.8h0M193.3 72.3h0M197.5 89.8h0M193.3 89.7h0M194.8 86.4h0M192.6 78.8h0M199.4 83.6h0M192.6 69.4h0M193.4 87.1h0M192.3 82.0h0M193.3 78.6h0M196.2 66.9h0M192.5 89.4h0M192.6 85.5h0M194.3 88.2h0M193.7 81.6h0M192.6 81.2h0M192.5 80.6h0M195.6 81.3h0M195.5 86.0h0M192.6 87.2h0M194.9 76.7h0M193.6 86.2h0M195.1 89.1h0M196.5 87.9h0M204.6 88.2h0M193.7 88.7h0M193.2 86.1h0M197.7 77.2h0M192.2 83.7h0M192.3 84.0h0M193.3 86.8h0M195.6 88.5h0M193.6 88.3h0M197.3 88.4h0M195.6 81.3h0M193.0 88.7h0M194.5 88.2h0M192.6 71.8h0M192.4 89.1h0M191.8 89.7h0M193.2 89.3h0M193.8 84.9h0M193.8 88.1h0M201.9 88.9h0M194.0 89.1h0M194.8 88.1h0M193.6 85.9h0M193.2 86.0h0M192.4 81.1h0M192.7 89.8h0M194.9 79.9h0M193.9 88.8h0M194.6 79.9h0M196.4 82.9h0M192.5 50.5h0M196.3 87.1h0M192.6 74.0h0M196.8 88.2h0M195.6 79.0h0M204.3 82.0h0M195.2 84.8h0M195.5 88.5h0M196.5 81.8h0M196.7 75.1h0M199.8 82.9h0M193.3 87.6h0M192.2 88.7h0M195.1 88.2h0M192.8 89.9h0M193.4 89.5h0M193.2 83.1h0M193.8 90.0h0M193.5 83.0h0M194.8 89.4h0M192.7 78.1h0M193.0 74.8h0M193.6 78.9h0M193.1 76.8h0M194.8 71.4h0M194.9 84.7h0M193.0 89.1h0M192.2 83.0h0M192.2 84.0h0M193.3 89.8h0M205.5 85.3h0M192.2 89.7h0M192.2 89.9h0M193.7 89.2h0M192.5 71.4h0M192.3 86.9h0M195.1 89.7h0M193.3 87.9h0M192.2 88.0h0M195.9 73.5h0M195.8 88.5h0M195.4 88.1h0M193.7 85.5h0M200.0 85.4h0M193.2 81.7h0M192.7 83.8h0M192.5 66.1h0M195.4 86.9h0M192.4 86.1h0M194.2 83.9h0M193.8 86.8h0M197.6 78.4h0M193.0 88.5h0M196.7 85.8h0M193.2 86.0h0M208.7 78.9h0M202.6 81.7h0M192.9 89.2h0M194.1 89.5h0M196.3 85.8h0M192.2 78.5h0M192.2 84.4h0M192.4 71.4h0M194.3 76.6h0M200.3 86.0h0M193.1 88.1h0M191.9 76.7h0M193.7 71.9h0M199.0 83.0h0M192.5 88.7h0M195.8 81.3h0M195.3 88.8h0M193.3 89.3h0M196.2 89.9h0M196.8 61.2h0M194.1 80.6h0M192.8 72.1h0M197.6 74.3h0M193.3 84.4h0M193.4 84.0h0M192.3 62.9h0M193.1 79.3h0M193.8 88.6h0M192.8 85.9h0M192.1 89.7h0M193.5 89.0h0M193.8 81.1h0M195.4 84.6h0M192.3 87.0h0M195.2 85.1h0M194.4 86.4h0M195.3 90.0h0M192.5 74.7h0M194.8 88.3h0M194.2 87.2h0M195.6 81.5h0M192.7 86.8h0M192.8 76.8h0M196.4 85.3h0M197.0 84.1h0M192.6 89.4h0M195.2 89.7h0M197.2 89.8h0M194.6 89.0h0M194.1 88.5h0M196.0 82.4h0M195.9 82.7h0M192.7 87.4h0M192.1 86.4h0M193.0 89.4h0M196.1 78.0h0M194.3 87.4h0M197.1 88.1h0M193.0 88.6h0M192.3 82.4h0M196.0 89.3h0M197.4 88.3h0M197.1 88.0h0M197.0 81.6h0M198.0 83.6h0M195.1 83.5h0M194.4 89.0h0M195.9 89.6h0M192.3 85.3h0M195.0 89.7h0M195.5 80.2h0M194.0 79.6h0M193.9 87.1h0M194.8 82.5h0M196.3 88.8h0M197.0 85.5h0M193.6 83.0h0M192.5 81.9h0M193.0 85.0h0M195.4 85.2h0M197.5 67.2h0M192.7 77.4h0M193.2 79.2h0M195.2 86.3h0M193.6 85.5h0M201.8 77.3h0" stroke="#000" stroke-width="0.85" stroke-opacity="0.9" stroke-linecap="square" fill="none"/>
<path d="M216.7 76.0h0M224.3 64.0h0M195.3 87.0h0M196.3 64.7h0M193.7 78.1h0M197.3 83.7h0M220.1 84.6h0M194.9 85.7h0M228.1 82.9h0M233.0 81.5h0M209.3 80.8h0M213.4 72.3h0M199.0 63.8h0M209.7 88.5h0M192.9 74.3h0M199.7 82.8h0M196.7 89.6h0M203.7 78.0h0M207.7 84.0h0M208.6 83.1h0M194.0 89.9h0M236.1 78.0h0M207.8 80.0h0M207.5 85.2h0M193.0 86.0h0M206.9 85.3h0M194.4 73.9h0M209.5 87.6h0M198.3 23.8h0M212.0 61.1h0M216.0 68.9h0M219.0 85.7h0M205.4 81.7h0M197.5 87.9h0M226.3 72.8h0M203.8 85.8h0M195.3 68.4h0M228.3 79.7h0M221.4 81.4h0M210.2 71.9h0M196.1 89.2h0M196.2 85.8h0M221.4 79.3h0M209.7 63.0h0M193.6 88.2h0M193.9 67.6h0M219.7 83.4h0M203.1 81.9h0M193.1 74.8h0M197.4 88.0h0M200.5 85.3h0M194.2 89.3h0M207.1 79.8h0M218.2 76.5h0M206.8 84.9h0M196.0 83.4h0M220.1 71.8h0M194.3 83.7h0M205.8 84.9h0M218.9 85.7h0M206.7 86.8h0M228.4 78.8h0M220.5 75.9h0M206.2 66.6h0M205.6 82.4h0M220.5 86.3h0M192.6 83.2h0M199.0 84.9h0M204.8 82.3h0M224.7 84.0h0M221.5 80.3h0M214.5 75.0h0M205.3 86.6h0M224.2 76.7h0M210.2 78.3h0M210.6 85.4h0M198.2 80.6h0M213.3 69.6h0M201.4 86.0h0M228.7 80.8h0M193.1 89.9h0M206.6 87.4h0M210.0 89.3h0M203.4 78.6h0M221.8 84.7h0M217.3 76.8h0M203.4 85.6h0M205.4 88.5h0M195.1 76.0h0M208.9 85.9h0M224.4 75.6h0M206.9 67.1h0M196.9 89.2h0M202.0 71.7h0M209.9 85.5h0M229.0 81.9h0M200.9 79.6h0M202.5 83.2h0M226.7 83.5h0M204.3 69.9h0M197.0 87.6h0M216.3 67.1h0M194.9 86.8h0M193.6 38.3h0M200.3 90.1h0M223.5 80.7h0M218.8 81.5h0M211.5 80.6h0M204.8 84.5h0M202.2 55.8h0M209.0 81.3h0M205.1 64.8h0M203.2 83.0h0M207.1 77.6h0M204.5 88.9h0M205.2 82.7h0M208.7 88.6h0M196.8 79.2h0M214.3 86.3h0M209.3 87.3h0M209.6 84.3h0M200.6 78.6h0M212.2 85.7h0M210.2 81.3h0M218.4 80.8h0M231.7 81.4h0M214.9 86.9h0M210.4 83.4h0M198.5 77.5h0M207.4 87.7h0M203.7 86.4h0M193.9 86.3h0M219.4 82.4h0M200.1 87.7h0M220.0 66.9h0M248.6 74.9h0M195.9 64.9h0M243.7 75.2h0M201.1 82.7h0M213.6 86.9h0M193.9 80.6h0M194.0 76.6h0M216.7 68.0h0M215.2 87.3h0M197.3 73.4h0M196.0 87.3h0M244.5 76.8h0M211.6 87.9h0M192.6 76.5h0M192.2 89.7h0M198.0 88.7h0M212.7 88.0h0M193.0 39.2h0M213.0 61.7h0M213.8 85.5h0M201.4 75.4h0M197.7 86.1h0M208.7 67.7h0M218.8 72.0h0M202.6 78.7h0M200.6 67.7h0M236.1 72.8h0M209.7 88.3h0M231.3 80.0h0M217.4 77.8h0M195.8 78.4h0M207.2 81.9h0M197.7 84.1h0M245.0 75.3h0M216.8 76.6h0M219.5 76.4h0M194.7 68.9h0M227.3 77.9h0M195.6 83.9h0M241.5 74.7h0M199.7 88.4h0M196.1 90.0h0M213.3 88.4h0M222.1 82.4h0M230.5 79.8h0M230.7 80.0h0M197.8 85.9h0M225.1 82.2h0M196.9 89.7h0M222.5 82.8h0M204.6 72.0h0M202.3 85.0h0M224.1 80.0h0M201.5 82.6h0M210.5 83.3h0M205.8 87.7h0M221.5 82.7h0M202.8 88.8h0M221.0 80.9h0M218.1 86.2h0M210.0 87.2h0M206.1 86.8h0M201.5 67.9h0M213.1 73.7h0M210.4 62.1h0M202.3 77.5h0M213.1 64.8h0M208.7 88.2h0M202.3 77.9h0M197.1 87.7h0M200.2 73.0h0M203.3 87.7h0M198.5 80.3h0M210.1 89.0h0M197.4 85.9h0M200.7 85.1h0M211.9 70.5h0M207.0 82.8h0M230.4 78.4h0M215.4 87.1h0M201.4 81.7h0M214.6 82.4h0M218.8 83.5h0M238.1 78.9h0M212.9 79.3h0M217.5 87.0h0M222.1 85.3h0M238.6 76.5h0M206.2 75.7h0M194.1 85.6h0M201.3 77.3h0M220.1 75.7h0M206.2 89.4h0M217.7 69.3h0M203.8 86.2h0M212.8 85.0h0M201.8 72.7h0M194.0 87.8h0M212.8 85.5h0M195.8 90.0h0M211.1 81.5h0M225.0 83.7h0M199.1 85.9h0M201.6 86.8h0M199.6 88.8h0M213.2 85.2h0M232.6 79.2h0M194.2 89.3h0M207.2 88.5h0M209.8 81.5h0M233.3 65.1h0M204.9 63.2h0M217.6 80.5h0M214.6 87.0h0M211.4 88.2h0M212.1 75.4h0M209.7 65.3h0M202.3 77.3h0M213.2 81.2h0M203.8 80.6h0M193.6 62.2h0M203.0 76.4h0M207.9 78.0h0M205.7 62.7h0M200.3 65.6h0M215.0 74.4h0M199.6 88.1h0M194.4 68.8h0M194.8 81.4h0M195.9 89.7h0M196.6 81.6h0M235.5 76.3h0M215.2 87.2h0M197.1 74.1h0M209.4 70.9h0M213.0 82.5h0M211.0 83.0h0M202.6 87.6h0M216.7 77.5h0M226.6 82.1h0M217.0 83.5h0M205.0 86.2h0M217.1 82.2h0M219.1 83.5h0M217.0 74.9h0M209.6 75.6h0M208.9 70.0h0M193.7 88.1h0M202.7 88.2h0M214.8 75.2h0M218.8 72.5h0M213.7 81.8h0M211.3 67.8h0M197.3 86.8h0M210.7 86.4h0M197.9 85.3h0M215.5 86.8h0M213.7 88.1h0M220.6 84.5h0M209.5 87.2h0M215.3 87.7h0M207.1 78.1h0M220.3 84.6h0M211.0 80.3h0M227.7 79.3h0M211.6 84.4h0M201.8 84.2h0M206.0 82.0h0M219.8 84.7h0M205.1 86.7h0M195.2 87.6h0M207.8 86.1h0M192.6 67.3h0M215.3 81.5h0M198.2 43.2h0M206.6 79.5h0M221.0 76.2h0M213.2 82.8h0M197.3 57.8h0M203.4 89.5h0M202.4 83.5h0M208.7 70.9h0M218.1 78.3h0M209.1 89.3h0M201.5 84.7h0M199.9 59.5h0M220.0 79.1h0M201.4 89.2h0M228.3 82.3h0M196.9 85.0h0M204.7 74.1h0M232.0 80.1h0M192.6 71.1h0M204.3 83.4h0M197.9 76.0h0M203.0 82.3h0M210.0 63.2h0M192.6 89.6h0M208.0 73.2h0M220.0 78.9h0M215.4 65.4h0M192.8 85.6h0M205.5 29.7h0M227.0 82.4h0M234.6 78.6h0M222.7 78.4h0M194.6 49.0h0M239.4 76.6h0M235.1 79.7h0M219.5 81.2h0M219.8 85.3h0M196.3 81.9h0M202.5 87.0h0M192.1 89.6h0M211.1 82.3h0M195.3 68.9h0M223.5 83.5h0M199.1 83.1h0M195.6 71.7h0M217.5 67.3h0M233.7 76.7h0M203.4 75.3h0M198.9 73.5h0M202.8 84.5h0M199.5 66.3h0M204.3 73.2h0M226.9 78.7h0M232.2 77.5h0M206.3 89.0h0M195.5 89.7h0M202.2 88.8h0M194.7 88.8h0M206.3 76.2h0M208.0 74.7h0M193.6 69.5h0M192.4 58.9h0M231.3 78.3h0M198.1 79.1h0M224.7 84.6h0M201.7 25.7h0M196.7 86.9h0M232.0 72.6h0M198.1 66.2h0M209.4 81.4h0M226.6 78.1h0M218.2 77.5h0M193.0 81.6h0M193.4 85.3h0M197.6 76.5h0M199.4 54.7h0M198.3 78.3h0M194.0 86.5h0M210.8 69.2h0M192.6 89.9h0M240.0 72.8h0M200.5 60.9h0M199.2 80.0h0M227.9 77.8h0M207.6 86.3h0M194.4 70.0h0M202.6 89.6h0M196.1 69.1h0M207.7 87.6h0M204.6 82.9h0M206.3 37.1h0M193.9 89.6h0M194.5 88.6h0M199.7 69.4h0M206.1 88.6h0M206.4 85.1h0M193.6 77.3h0M212.5 88.3h0M201.3 79.9h0M195.3 86.3h0M210.2 88.3h0M203.9 82.1h0M201.1 86.5h0M194.6 68.5h0M195.0 82.3h0M195.6 87.6h0M209.1 85.9h0M221.9 79.6h0M211.2 74.0h0M194.9 69.8h0M212.1 84.8h0M199.3 88.9h0M196.6 86.4h0M194.4 87.8h0M247.1 74.1h0M212.9 87.3h0M213.9 80.9h0M199.4 87.9h0M204.9 85.5h0M238.7 78.8h0M214.5 79.0h0M218.3 84.4h0M205.7 75.9h0M224.7 81.8h0M197.3 89.6h0M202.8 81.0h0M204.2 88.3h0M246.4 75.1h0M198.8 74.7h0M194.9 84.2h0M220.9 84.8h0M201.3 89.1h0M207.3 80.9h0M193.1 64.9h0M199.3 66.9h0M203.6 81.6h0M203.6 83.3h0M197.4 84.6h0M193.8 78.4h0M201.8 75.1h0M211.6 83.4h0M206.3 89.3h0M195.5 88.1h0M215.6 86.7h0M203.1 88.8h0M217.4 65.5h0M196.3 81.8h0M193.5 61.1h0M203.4 87.7h0M208.3 88.3h0M205.5 81.2h0M212.0 88.3h0M201.1 71.9h0M214.0 73.6h0M216.3 82.9h0M197.3 77.7h0M195.8 74.9h0M212.7 85.8h0M215.6 81.7h0M198.3 80.5h0M206.2 89.6h0M196.1 81.5h0M202.2 85.1h0M209.0 77.9h0M240.8 78.4h0M212.4 86.4h0M221.2 62.0h0M226.2 82.0h0M199.9 71.4h0M204.9 89.2h0M206.7 88.7h0M193.1 88.6h0M201.7 67.3h0M219.9 84.1h0M196.8 69.7h0M218.5 84.9h0M198.1 79.2h0M203.4 72.5h0M208.4 88.7h0M208.0 69.9h0M235.4 75.2h0M204.4 85.1h0M205.9 86.0h0M225.2 81.7h0M199.9 74.5h0M194.7 85.4h0M200.8 63.6h0M192.6 80.7h0M193.3 73.1h0M203.8 81.9h0M200.4 82.8h0M198.7 88.5h0M203.8 73.0h0M205.5 83.8h0M212.6 86.4h0M216.5 87.5h0M227.8 75.9h0M202.0 56.4h0M194.7 68.4h0M204.4 71.9h0M213.6 66.5h0M207.6 89.3h0M193.6 86.1h0M195.0 77.0h0M218.0 74.0h0M198.5 80.8h0M197.8 90.0h0M202.0 84.2h0M221.1 85.2h0M200.0 84.6h0M207.6 86.1h0M202.4 55.9h0M210.4 80.3h0M192.4 42.5h0M244.9 76.8h0M200.8 89.8h0M194.1 77.9h0M195.9 85.0h0M214.4 71.2h0M192.3 88.4h0M212.3 75.0h0M236.7 78.7h0M207.1 68.1h0M211.4 81.2h0M202.5 45.4h0M197.6 88.8h0M198.1 88.8h0M193.9 89.0h0M214.3 81.7h0M223.9 77.2h0M196.8 81.2h0M205.8 69.5h0M208.4 88.3h0M193.6 75.1h0M205.4 85.8h0M201.4 89.7h0M209.9 71.5h0M221.8 84.7h0M202.6 87.8h0M205.9 87.3h0M197.6 89.5h0M204.0 84.3h0M220.9 84.3h0M234.5 80.0h0M200.0 88.0h0M228.1 75.6h0M206.9 88.6h0M201.5 79.9h0M202.6 88.1h0M210.3 83.1h0M200.3 83.8h0M204.4 71.1h0M199.6 71.1h0M216.6 83.5h0M193.8 83.1h0M193.1 88.1h0M215.8 82.6h0M215.8 84.3h0M201.6 89.6h0M206.3 83.5h0M200.4 59.7h0M208.7 82.2h0M196.5 85.0h0M218.1 77.3h0M208.5 78.0h0M221.1 77.9h0M222.4 78.7h0M209.4 85.8h0M202.2 77.4h0M222.6 69.0h0M238.6 74.4h0M219.8 81.4h0M220.0 85.0h0M201.9 79.2h0M198.2 86.2h0M211.4 85.1h0M200.2 80.0h0M207.3 85.9h0M237.0 74.7h0M192.1 81.0h0M195.0 87.0h0M205.3 87.5h0M211.4 76.7h0M196.2 89.5h0M196.2 81.3h0M204.9 61.8h0M224.5 75.5h0M200.3 80.8h0M212.5 84.9h0M233.6 79.7h0M194.6 84.5h0M227.3 77.4h0M209.0 86.6h0M213.3 80.3h0M215.0 86.0h0M223.9 84.6h0M195.5 78.4h0M206.7 88.2h0M214.0 76.3h0M198.4 84.5h0M207.1 85.2h0M215.3 87.4h0M218.0 78.4h0M199.1 87.7h0M205.0 68.8h0M243.9 76.8h0M210.5 84.3h0M194.4 73.5h0M214.4 84.8h0M200.0 87.4h0M221.9 85.5h0M194.2 88.2h0M195.4 85.2h0M210.7 86.9h0M213.6 86.3h0M204.7 76.8h0M196.4 65.3h0M234.3 65.3h0M221.2 80.9h0M198.1 85.1h0M204.8 82.3h0M198.5 75.2h0M205.4 87.8h0M195.1 89.1h0M197.5 81.5h0M197.9 84.0h0M203.5 88.4h0M196.1 71.8h0M225.0 75.0h0M198.9 80.3h0M207.2 83.7h0M196.9 86.5h0M207.0 81.7h0M199.9 88.9h0M201.6 80.6h0M214.3 84.5h0M239.6 76.8h0M200.8 74.5h0M193.8 87.4h0M218.0 81.4h0M203.2 77.9h0M215.2 84.1h0M212.8 87.5h0M204.9 78.1h0M210.6 82.3h0M228.7 82.0h0M216.7 84.7h0M195.0 87.3h0M194.0 89.8h0M195.5 81.5h0M201.8 62.0h0M207.6 80.6h0M205.8 88.7h0M208.0 76.8h0M199.2 53.1h0M203.4 77.7h0M196.8 82.0h0M233.5 77.2h0M208.0 82.2h0M192.0 87.9h0M194.5 86.7h0M201.4 76.9h0M196.3 80.8h0M205.9 81.0h0M232.3 74.2h0M201.0 87.5h0M211.6 83.5h0M228.7 74.3h0M204.4 82.5h0M193.9 58.6h0M208.3 86.1h0M198.6 83.9h0M214.0 74.5h0M218.4 74.1h0M210.5 70.9h0M209.7 82.7h0M215.8 85.3h0M196.0 90.0h0M246.5 71.1h0M226.4 81.4h0M203.1 88.5h0M197.4 85.9h0M209.5 85.7h0M194.7 89.9h0M193.0 21.2h0M206.8 87.6h0M193.8 53.2h0M221.4 82.3h0M215.2 68.6h0M195.2 83.7h0M194.7 84.0h0M195.4 78.4h0M225.6 78.3h0M210.0 83.9h0M205.2 85.6h0M195.0 71.8h0M242.6 75.3h0M196.7 77.6h0M218.8 78.5h0M236.8 76.4h0M222.5 83.5h0M201.5 88.3h0M206.7 78.5h0M223.8 84.1h0M215.3 86.6h0M197.2 73.0h0M203.9 81.4h0M197.4 78.4h0M208.0 87.6h0M209.5 79.3h0M211.1 69.8h0M210.1 88.7h0M225.5 78.7h0M210.6 85.2h0M221.1 85.8h0M218.3 75.6h0M227.1 80.9h0M214.9 75.8h0M196.6 81.8h0M236.0 75.5h0M229.0 77.3h0M204.4 87.0h0M205.8 53.8h0M228.6 79.6h0M209.7 85.3h0M195.6 72.9h0M219.6 84.7h0M210.7 58.4h0M209.0 76.1h0M213.3 88.0h0M200.5 81.6h0M198.7 86.9h0M197.5 89.4h0M197.8 56.1h0M206.0 80.0h0M226.6 80.2h0M205.4 84.8h0M211.3 87.7h0M199.3 86.8h0M201.6 89.7h0M199.3 86.5h0M233.0 78.6h0M196.1 81.1h0M218.6 77.8h0M213.1 86.2h0M206.3 63.6h0M213.4 88.7h0M207.5 70.3h0M208.9 78.4h0M195.7 72.1h0M221.9 77.1h0M206.3 78.2h0M228.4 78.4h0M199.8 86.4h0M219.5 74.4h0M195.5 89.9h0M206.7 86.5h0M207.2 75.6h0M220.1 71.3h0M194.8 80.7h0M206.4 84.4h0M197.9 88.2h0M195.7 87.7h0M213.5 87.8h0M195.6 74.1h0M195.5 78.1h0M202.2 87.1h0M207.6 85.9h0M196.9 86.9h0M201.2 85.5h0M199.7 82.5h0M203.8 81.8h0M195.2 79.0h0M193.9 82.7h0M192.3 87.2h0M195.2 63.4h0M216.1 82.7h0M203.9 75.5h0M200.3 64.7h0M198.9 80.4h0M194.2 85.4h0M197.2 88.7h0M204.9 89.2h0M219.8 76.6h0M242.1 77.1h0M195.7 79.1h0M215.6 79.4h0M210.6 89.2h0M201.9 75.4h0M200.2 89.5h0M197.3 81.7h0M208.7 71.5h0M197.0 88.1h0M194.6 88.1h0M240.5 76.1h0M196.0 86.5h0M195.2 88.6h0M242.6 77.8h0M204.8 76.4h0M193.1 80.1h0M195.7 71.1h0M198.9 78.7h0M200.9 84.0h0M214.2 84.0h0M201.5 84.1h0M201.1 87.9h0M228.9 82.5h0M202.4 89.0h0M200.9 57.3h0M198.1 72.6h0M203.0 77.2h0M206.5 88.9h0M212.8 83.2h0M212.9 86.8h0M224.1 77.8h0M228.4 81.3h0M209.3 89.1h0M195.9 74.5h0M202.6 88.4h0M225.4 78.3h0M195.9 84.4h0M203.7 86.5h0M192.6 84.1h0M202.7 84.0h0M203.1 87.9h0M193.7 88.4h0M215.4 82.0h0M193.3 86.9h0M211.0 67.5h0M200.9 75.5h0M212.9 77.5h0M195.7 85.0h0M216.9 81.1h0M236.4 80.0h0M195.5 88.0h0M224.3 63.3h0M196.0 89.9h0M221.7 79.5h0M194.0 85.5h0M225.8 77.7h0M194.2 76.9h0M199.1 86.4h0M200.1 87.4h0M214.9 76.8h0M205.7 89.7h0M206.5 79.5h0M212.7 88.3h0M195.8 75.0h0M237.9 76.7h0M208.4 77.9h0M206.6 82.5h0M211.7 84.1h0M200.9 78.6h0M231.6 78.4h0M200.4 76.9h0M194.3 81.6h0M236.1 77.4h0M235.4 80.1h0M198.8 81.6h0M194.5 76.0h0M199.9 84.9h0M195.0 81.5h0M208.5 86.6h0M194.8 85.2h0M217.1 87.2h0M200.6 78.1h0M221.3 85.6h0M204.9 79.4h0M219.4 86.4h0M205.7 84.7h0M201.2 72.0h0M198.9 67.3h0M215.8 81.6h0M193.6 90.1h0M231.8 81.2h0M201.7 89.4h0M252.7 67.6h0M196.9 61.3h0M200.9 76.5h0M221.6 80.7h0M193.0 76.4h0M199.0 84.2h0M233.0 72.4h0M201.7 76.6h0M220.1 55.8h0M205.3 86.2h0M209.6 86.2h0M218.8 81.6h0M195.5 83.9h0M194.7 83.5h0M197.9 82.8h0M217.8 86.7h0M200.4 73.2h0M212.6 84.3h0M198.7 88.4h0M228.5 82.7h0M193.9 86.6h0M194.2 83.6h0M202.1 78.9h0M219.7 78.1h0M202.6 86.8h0M200.8 81.7h0M215.0 85.0h0M245.7 76.5h0M205.7 84.6h0M235.4 80.5h0M194.2 86.4h0M194.3 31.4h0M217.2 86.9h0M192.8 83.4h0M220.3 77.0h0M233.6 64.4h0M193.6 75.0h0M216.8 85.8h0M197.4 87.5h0M219.2 81.5h0M200.0 89.1h0M223.4 79.8h0M200.2 88.5h0M201.9 60.6h0M203.8 77.0h0M219.5 71.4h0M210.6 82.5h0M232.3 79.9h0M199.0 74.7h0M204.2 69.3h0M204.2 81.8h0M221.9 82.3h0M212.6 78.4h0M205.6 77.4h0M207.5 86.1h0M210.5 82.1h0M205.3 77.0h0M194.8 84.1h0M193.4 87.8h0M197.9 72.6h0M192.0 86.1h0M201.5 71.7h0M226.6 83.9h0M209.0 75.8h0M203.8 82.8h0M201.9 82.7h0M199.7 87.2h0M193.0 86.3h0M231.1 80.9h0M217.8 72.5h0M205.1 80.9h0M225.3 82.8h0M210.5 85.7h0M199.8 81.2h0M215.8 73.5h0M202.9 89.8h0M198.6 86.4h0M236.0 75.1h0M252.0 73.8h0M205.3 89.9h0M192.2 83.1h0M205.2 74.4h0M211.8 77.7h0M211.8 78.1h0M236.5 77.8h0M196.1 80.3h0M214.7 83.2h0M206.6 77.4h0M199.1 81.5h0M211.5 63.9h0M198.2 88.9h0M217.6 86.7h0M206.9 83.8h0M220.4 85.6h0M203.1 70.1h0M228.7 77.7h0M212.5 88.1h0M227.1 80.2h0M192.4 75.9h0M199.2 77.3h0M212.9 80.5h0M215.0 86.3h0M218.8 86.6h0M194.4 81.4h0M193.7 76.9h0M196.3 69.9h0M204.4 87.4h0M200.9 77.5h0M198.3 86.0h0M215.5 74.2h0M201.5 86.5h0M205.7 87.4h0M207.9 75.5h0M201.3 81.9h0M219.7 86.0h0M198.8 81.2h0M196.3 88.5h0M209.0 74.9h0M219.0 84.4h0M195.1 60.2h0M217.9 70.7h0M245.5 76.4h0M198.1 78.1h0M222.4 69.3h0M207.6 88.8h0M211.8 80.6h0M202.4 89.6h0M196.1 28.1h0M231.7 71.0h0M195.5 90.0h0M206.1 81.4h0M208.3 82.8h0M206.2 77.5h0M265.1 59.9h0M198.6 73.3h0M203.0 81.4h0M193.6 64.1h0M207.8 89.0h0M196.8 87.7h0M223.3 76.4h0M195.4 87.8h0M210.1 89.5h0M197.4 89.7h0M203.7 65.4h0M202.8 73.3h0M197.0 86.0h0M216.1 86.4h0M216.5 77.1h0M197.6 89.3h0M193.4 63.5h0M218.1 81.4h0M215.1 73.6h0M203.1 85.2h0M213.0 88.3h0M204.5 77.1h0M207.4 84.2h0M208.0 86.9h0M194.1 85.1h0M212.4 81.7h0M239.5 77.6h0M215.9 83.8h0M222.7 79.1h0M194.5 87.1h0M201.2 86.2h0M200.0 88.6h0M218.3 71.3h0M201.0 86.5h0M215.6 64.4h0M198.3 82.8h0M192.2 87.7h0M222.5 67.6h0M202.9 78.4h0M201.6 75.0h0M194.2 67.4h0M203.2 87.7h0M208.4 87.4h0M199.9 83.6h0M218.5 74.8h0M201.9 80.4h0M206.8 86.6h0M248.3 75.6h0M206.0 88.9h0M196.9 84.2h0M195.3 83.2h0M195.1 74.8h0M201.4 86.1h0M193.2 88.7h0M212.8 78.7h0M208.7 82.4h0M197.7 82.5h0M195.9 73.6h0M213.5 85.6h0M229.6 77.8h0M207.5 78.2h0M194.2 81.1h0M199.5 83.7h0M213.8 85.5h0M204.9 86.9h0M209.8 82.7h0M207.4 78.5h0M216.0 84.3h0M202.9 88.0h0M198.3 89.9h0M220.1 85.1h0M197.9 74.5h0M194.0 86.9h0M219.1 76.7h0M204.7 76.8h0M193.8 70.2h0M202.6 69.2h0M219.1 78.6h0M194.9 86.3h0M214.3 71.7h0M218.4 77.5h0M221.5 75.9h0M192.1 83.0h0M216.2 84.7h0M213.3 87.5h0M198.5 86.6h0M216.9 83.4h0M193.6 76.6h0M223.8 67.9h0M199.8 82.1h0M202.4 87.7h0M222.3 83.0h0M223.3 81.7h0M196.1 87.7h0M212.8 66.2h0M205.5 88.8h0M217.6 77.0h0M209.2 79.4h0M222.6 77.7h0M211.0 85.4h0M193.0 76.0h0M196.4 85.0h0M212.8 73.6h0M214.1 86.2h0M194.9 88.7h0M200.5 84.7h0M228.2 82.3h0M229.6 79.8h0M250.8 74.6h0M196.8 83.7h0M197.6 89.4h0M206.4 77.3h0M222.4 84.8h0M198.1 62.7h0M198.5 77.1h0M200.7 89.1h0M210.1 88.8h0M204.4 89.7h0M198.0 87.0h0M199.8 64.9h0M208.4 89.7h0M215.3 87.0h0M205.2 85.5h0M193.3 81.2h0M198.3 89.3h0M195.6 87.8h0M201.7 82.2h0M200.5 64.6h0M207.3 71.3h0M199.9 86.3h0M222.4 67.7h0M217.9 82.2h0M209.3 86.3h0M197.0 66.3h0M193.7 84.3h0M205.2 87.1h0M251.2 74.0h0M202.9 87.4h0M219.8 76.2h0M221.4 80.6h0M210.1 88.1h0M201.0 49.5h0M213.6 85.5h0M203.6 76.1h0M218.4 80.9h0M206.5 89.5h0M227.6 83.4h0M205.9 86.6h0M200.3 89.9h0M215.4 78.5h0M195.7 87.2h0M196.7 85.3h0M203.6 48.5h0M213.4 88.3h0M206.9 89.4h0M212.5 74.9h0M201.0 89.4h0M199.0 69.6h0M198.1 83.2h0M201.2 87.4h0M231.8 69.2h0M216.5 61.6h0M198.8 36.7h0M203.3 80.4h0M217.5 69.0h0M221.8 75.6h0M195.0 76.0h0M227.4 78.5h0M214.8 81.8h0M264.9 68.5h0M197.1 81.0h0M195.8 80.8h0M193.7 84.3h0M200.3 88.4h0M207.1 65.9h0M209.6 81.4h0M229.0 81.6h0M209.6 86.5h0M226.7 78.7h0M195.3 75.3h0M218.2 77.1h0M220.7 86.0h0M240.5 74.7h0M202.8 85.1h0M219.9 84.9h0M194.9 57.4h0M195.6 86.4h0M214.3 85.8h0M211.5 87.8h0M248.2 74.9h0M220.2 84.9h0M202.9 88.4h0M204.3 85.0h0M221.2 82.1h0M198.1 87.9h0M221.3 78.9h0M220.3 84.0h0M210.6 76.5h0M223.0 84.7h0M196.1 85.0h0M202.3 77.4h0M225.6 78.8h0M202.1 79.9h0M196.4 81.4h0M196.5 80.8h0M197.4 84.9h0M197.7 79.9h0M202.2 69.1h0M206.7 72.9h0M195.3 85.6h0M206.1 69.5h0M197.9 59.9h0M198.0 83.3h0M196.7 70.4h0M197.3 87.7h0M228.0 81.9h0M192.7 60.9h0M205.0 87.5h0M198.7 82.1h0M196.7 68.6h0M195.6 89.1h0M197.9 79.5h0M195.0 73.7h0M199.7 83.2h0M200.8 84.9h0M226.8 81.2h0M214.9 83.0h0M247.7 74.7h0M208.3 88.3h0M214.8 84.4h0M218.8 80.5h0M194.5 89.0h0M215.6 77.6h0M195.0 83.2h0M224.8 83.3h0M208.9 85.2h0M204.9 82.8h0M210.8 60.4h0M226.3 77.1h0M202.3 89.6h0M199.3 58.0h0M208.7 89.1h0M228.6 81.6h0M208.3 87.4h0M222.7 84.2h0M199.1 80.9h0M195.5 88.1h0M196.3 57.5h0M196.1 83.1h0M201.6 85.3h0M227.6 80.1h0M192.8 71.8h0M199.6 85.6h0M209.2 75.5h0M226.0 82.2h0M204.8 87.1h0M207.8 87.7h0M207.5 73.6h0M192.7 88.7h0M192.6 81.6h0M212.1 88.6h0M212.1 87.8h0M194.9 80.5h0M203.0 76.5h0M195.7 57.0h0M195.4 85.4h0M195.7 87.8h0M195.1 75.0h0M212.2 86.2h0M222.5 76.7h0M215.0 86.2h0M205.9 86.6h0M196.1 81.6h0M224.0 80.6h0M194.7 75.7h0M209.9 84.7h0M212.8 77.5h0M211.1 89.3h0M215.2 83.2h0M236.6 77.9h0M196.7 76.9h0M209.8 78.6h0M218.2 81.4h0M205.7 70.1h0M213.4 88.0h0M199.9 84.5h0M202.2 86.9h0M202.1 77.4h0M208.2 86.8h0M209.2 81.5h0M194.1 86.0h0M219.2 79.5h0M198.2 77.4h0M198.7 79.3h0M193.3 89.6h0M194.9 89.1h0M194.8 72.5h0M206.8 88.4h0M204.0 88.9h0M199.8 86.5h0M203.3 87.6h0M199.8 84.7h0M196.8 75.9h0M196.3 84.8h0M194.8 87.1h0M233.6 78.3h0M197.1 89.7h0M194.4 88.1h0M222.4 80.8h0M194.6 88.5h0M223.7 82.3h0M200.7 87.7h0M203.7 89.3h0M197.3 78.9h0M209.5 76.8h0M211.8 87.2h0M200.9 83.0h0M218.5 84.4h0M208.4 86.6h0M207.3 87.7h0M212.2 84.1h0M195.3 88.1h0M207.0 87.6h0M200.4 90.1h0M211.6 79.5h0M225.3 64.4h0M230.6 78.0h0M202.7 87.9h0M224.3 81.7h0M193.2 73.1h0M196.7 87.3h0M201.7 84.3h0M238.0 72.2h0M194.8 23.8h0M211.2 80.8h0M194.0 49.1h0M212.0 82.9h0M207.5 70.9h0M196.8 59.1h0M216.4 86.2h0M199.4 86.1h0M204.7 71.3h0M242.9 77.4h0M210.2 78.5h0M200.4 66.1h0M220.7 77.4h0M213.2 80.0h0M213.7 85.9h0M214.2 72.4h0M196.3 81.9h0M219.0 79.0h0M222.5 82.8h0M197.1 81.3h0M203.4 67.9h0M198.1 83.6h0M232.0 68.1h0M210.9 89.6h0M195.9 60.6h0M212.9 81.3h0M220.3 86.5h0M210.4 84.0h0M220.5 85.2h0M194.5 69.1h0M199.3 88.4h0M201.8 79.6h0M207.0 88.8h0M198.5 86.5h0M209.8 77.3h0M217.0 85.8h0M193.0 89.9h0M199.6 86.9h0M193.9 80.0h0M193.1 86.4h0M205.4 67.3h0M199.5 83.3h0M211.3 53.2h0M203.6 72.7h0M217.9 84.4h0M204.0 77.4h0M211.8 85.4h0M197.8 86.4h0M194.4 84.4h0M209.4 86.7h0M196.3 83.2h0M214.6 79.2h0M208.4 87.2h0M194.9 81.0h0M197.8 86.1h0M225.7 82.6h0M201.3 76.1h0M213.6 87.4h0M233.4 78.0h0M199.7 89.8h0M211.6 81.6h0M215.0 82.8h0M216.7 74.9h0M209.8 89.0h0M220.0 78.8h0M205.9 86.4h0M222.4 85.4h0M205.3 84.4h0M214.3 81.4h0M208.1 71.7h0M215.6 83.2h0M201.0 90.0h0M194.6 49.6h0M205.3 75.0h0M207.6 77.2h0M199.1 73.9h0M215.3 79.2h0M199.1 85.4h0M197.7 87.0h0M214.9 82.6h0M208.9 82.2h0M232.2 80.9h0M219.8 74.1h0M207.8 82.4h0M210.7 74.1h0M203.2 73.7h0M199.4 88.5h0M195.7 55.5h0M205.6 88.1h0M194.7 73.1h0M209.8 82.4h0M196.5 87.1h0M215.6 87.7h0M222.0 82.9h0M216.6 80.4h0M206.2 83.2h0M228.6 82.9h0M202.0 82.8h0M195.1 87.0h0M231.6 70.8h0M224.5 76.8h0M207.0 88.5h0M196.6 81.7h0M210.9 87.7h0M223.3 82.5h0M202.4 83.2h0M217.7 86.1h0M205.0 89.3h0M209.8 46.8h0M229.0 81.3h0M232.5 81.6h0M197.6 78.1h0M199.3 76.8h0M227.2 81.9h0M194.9 68.5h0M224.3 79.8h0M202.4 88.2h0M225.7 75.9h0M203.1 88.2h0M208.6 87.4h0M204.9 76.4h0M199.9 86.7h0M212.5 86.7h0M215.2 81.3h0M198.7 53.1h0M206.3 67.7h0M200.3 88.1h0M217.4 86.6h0M224.1 79.7h0M203.7 75.1h0M208.0 88.7h0M204.7 83.5h0M198.3 84.8h0M205.0 78.4h0M205.0 73.6h0M204.1 75.3h0M194.4 89.0h0M253.0 72.7h0M220.6 83.1h0M209.5 83.3h0M213.8 69.1h0M253.5 73.1h0M215.3 88.0h0M205.9 81.6h0M199.4 70.4h0M194.3 87.7h0M202.8 85.5h0M198.2 88.2h0M192.3 85.5h0M201.1 51.6h0M209.9 86.8h0M223.9 81.7h0M198.5 72.3h0M239.9 77.5h0M227.4 80.6h0M226.6 66.8h0M208.9 83.4h0M206.1 79.8h0M203.6 59.1h0M199.5 48.1h0M237.0 80.1h0M200.1 71.3h0M197.3 60.0h0M206.8 55.3h0M197.4 90.0h0M201.9 86.0h0M204.9 85.3h0M206.5 78.1h0M233.2 80.5h0M218.3 82.0h0M194.4 78.3h0M223.2 82.7h0M204.2 86.4h0M203.6 75.6h0M199.7 81.5h0M195.7 85.9h0M199.3 89.6h0M206.9 82.3h0M192.7 55.5h0M199.3 83.8h0M208.6 86.6h0M192.9 80.4h0M219.7 83.8h0M198.7 88.2h0M193.1 88.7h0M209.6 87.8h0M220.3 81.7h0M201.3 83.9h0M210.3 63.2h0M206.8 88.7h0M199.3 89.1h0M213.7 87.6h0M220.5 76.8h0M200.5 86.9h0M194.8 87.5h0M201.3 86.7h0M194.8 86.0h0M213.2 83.6h0M197.6 89.2h0M216.1 80.6h0M217.3 87.0h0M221.8 73.4h0M205.5 70.7h0M213.0 82.4h0M207.0 89.8h0M263.7 69.2h0M212.1 86.7h0M200.2 78.0h0M228.4 76.7h0M193.6 86.9h0M205.3 76.6h0M224.6 72.1h0M203.4 86.1h0M196.3 86.3h0M231.8 79.8h0M198.8 84.2h0M217.6 85.6h0M209.0 88.5h0M200.4 87.5h0M211.7 86.8h0M231.9 81.5h0M215.2 85.2h0M195.8 85.0h0M197.4 49.6h0M205.7 75.0h0M213.5 82.6h0M211.0 62.6h0M231.7 79.5h0M197.5 80.2h0M235.0 77.2h0M232.2 74.4h0M194.5 87.1h0M200.5 82.9h0M206.9 87.3h0M203.1 82.9h0M215.5 87.1h0M226.6 82.3h0M227.4 81.5h0M222.0 79.8h0M224.8 81.7h0M219.0 74.5h0M204.4 88.5h0M209.5 84.2h0M212.5 88.0h0M231.6 80.6h0M209.9 88.7h0M226.2 76.5h0M207.1 89.4h0M214.2 67.2h0M212.5 84.9h0M221.9 84.1h0M224.7 82.1h0M205.9 82.5h0M194.8 89.7h0M202.5 61.3h0M195.6 79.3h0M194.9 80.4h0M205.2 89.1h0M203.4 87.0h0M198.5 90.1h0M200.3 70.2h0M209.7 52.8h0M201.4 87.9h0M227.3 74.3h0M192.6 55.1h0M198.8 70.4h0M206.7 83.3h0M198.1 80.7h0M196.5 84.6h0M193.5 87.7h0M203.8 87.9h0M215.1 85.7h0M194.0 82.8h0M196.3 85.8h0M204.6 87.0h0M219.1 85.1h0M232.5 79.5h0M193.9 88.8h0M229.4 74.0h0M217.7 84.3h0M214.6 86.2h0M204.9 78.4h0M204.3 82.3h0M192.7 89.4h0M227.5 81.4h0M203.2 75.9h0M198.1 71.8h0M231.5 81.6h0M213.0 85.9h0M214.1 88.4h0M205.1 88.5h0M214.5 72.7h0M211.3 77.7h0M208.5 73.6h0M200.0 81.1h0M208.1 83.2h0M203.1 63.5h0M201.6 84.7h0M210.3 74.4h0M245.9 74.6h0M232.5 74.5h0M198.9 66.7h0M206.2 86.4h0M218.8 86.0h0M215.5 78.2h0M196.2 86.9h0M196.8 84.4h0M226.3 83.6h0M199.9 89.3h0M204.3 67.0h0M229.8 81.0h0M201.3 82.1h0M193.2 65.4h0M211.6 84.1h0M198.6 85.1h0M214.9 88.0h0M221.8 80.9h0M192.4 71.2h0M205.7 80.6h0M206.8 51.6h0M220.0 80.8h0M195.8 82.5h0M221.7 82.5h0M240.4 77.0h0M236.3 78.3h0M222.6 82.3h0M224.5 83.3h0M200.2 86.9h0M217.1 83.5h0M209.6 71.9h0M209.7 71.4h0M196.8 89.2h0M210.6 87.8h0M194.3 86.1h0M205.1 79.8h0M231.5 81.6h0M216.3 83.1h0M204.5 83.1h0M207.5 81.8h0M195.5 73.1h0M194.9 47.6h0M203.3 86.2h0M207.1 78.0h0M194.2 86.3h0M201.0 63.1h0M193.5 88.1h0M206.3 85.7h0M215.7 78.2h0M226.6 79.8h0M200.7 75.0h0M202.9 79.4h0M206.3 84.9h0M216.2 71.4h0M208.9 83.2h0M198.5 89.4h0M194.3 86.7h0M225.0 84.0h0M198.0 83.2h0M197.0 22.3h0M244.0 75.8h0M229.5 77.9h0M194.7 79.7h0M219.0 84.6h0M213.7 87.4h0M219.6 73.2h0M210.6 85.6h0M206.6 77.5h0M196.6 66.4h0M229.5 78.7h0M198.4 69.4h0M197.7 90.1h0M202.9 81.0h0M196.1 65.9h0M196.2 88.5h0M204.5 80.1h0M192.9 76.9h0M200.5 76.0h0M220.0 71.6h0M221.6 78.2h0M203.4 85.6h0M198.5 74.5h0M210.5 84.6h0M195.0 89.0h0M223.0 81.0h0M229.7 79.5h0M207.5 89.4h0M202.6 88.3h0M195.7 87.1h0M198.2 80.3h0M210.9 83.2h0M196.3 78.1h0M209.3 62.1h0M237.3 74.1h0M223.3 78.6h0M196.4 62.5h0M200.0 84.8h0M195.6 77.1h0M219.0 76.7h0M194.3 83.8h0M206.6 82.9h0M221.3 80.2h0M231.7 75.0h0M205.2 68.3h0M223.4 83.1h0M209.7 81.1h0M215.7 73.1h0M194.5 89.3h0M224.6 81.1h0M198.9 75.6h0M227.5 77.8h0M201.2 79.0h0M192.7 86.6h0M233.4 77.4h0M194.4 86.9h0M203.1 88.4h0M199.1 88.7h0M219.7 78.9h0M196.4 82.0h0M197.0 83.0h0M223.4 78.3h0M244.3 75.9h0M213.5 68.5h0M210.3 84.6h0M207.8 86.4h0M203.9 90.1h0M204.6 89.3h0M195.1 84.4h0M216.8 82.7h0M217.4 80.8h0M222.4 82.6h0M228.7 80.2h0M217.2 85.6h0M221.8 83.7h0M222.3 77.4h0M224.3 73.0h0M196.7 89.3h0M216.9 83.2h0M215.3 77.8h0M208.3 84.9h0M200.8 88.5h0M234.1 67.2h0M193.9 69.8h0M199.9 76.0h0M222.4 80.6h0M194.3 83.9h0M217.0 84.7h0M216.6 85.5h0M217.7 85.0h0M238.0 78.3h0M201.9 79.2h0M214.3 87.4h0M207.9 89.5h0M197.0 71.5h0M216.9 69.4h0M195.5 70.4h0M193.8 75.6h0M215.2 84.5h0M233.3 80.4h0M216.3 82.7h0M212.7 88.1h0M203.7 87.8h0M230.5 78.9h0M197.2 77.8h0M232.1 74.4h0M216.5 87.1h0M208.8 88.5h0M199.5 86.1h0M233.3 79.3h0M215.0 85.2h0M198.3 68.8h0M198.2 85.6h0M206.2 89.7h0M194.2 81.7h0M203.9 88.8h0M199.0 81.6h0M203.8 86.6h0M210.1 82.4h0M209.3 75.8h0M196.3 87.0h0M210.0 81.1h0M212.7 54.5h0M220.2 79.4h0M207.2 71.4h0M208.9 83.9h0M193.8 85.5h0M206.0 74.2h0M208.9 68.9h0M195.2 68.8h0M209.8 81.2h0M192.9 84.5h0M203.4 84.7h0M212.2 65.1h0M222.8 75.7h0M202.1 86.3h0M202.3 77.7h0M193.5 87.9h0M213.6 53.2h0M198.1 69.3h0M211.0 83.2h0M229.9 77.9h0M215.1 78.5h0M205.2 80.4h0M224.3 83.8h0M217.2 85.6h0M200.5 70.7h0M220.0 74.7h0M200.4 69.7h0M200.8 84.5h0M204.6 83.1h0M206.1 79.3h0M206.9 86.1h0M216.1 67.6h0M200.0 82.0h0M198.4 86.9h0M207.1 87.1h0M201.1 80.0h0M204.8 82.6h0M208.6 78.9h0M198.2 79.0h0M213.0 86.8h0M205.1 46.5h0M238.5 79.6h0M225.3 78.7h0M204.4 81.7h0M235.4 70.3h0M202.0 86.5h0M208.0 78.8h0M218.6 84.8h0M212.8 80.5h0M231.7 79.0h0M223.4 83.5h0M203.1 73.1h0M218.4 86.5h0M208.0 76.5h0M226.2 76.2h0M192.4 89.8h0M200.9 70.9h0M194.2 80.7h0M209.8 87.6h0M202.2 88.2h0M196.8 85.2h0M197.9 52.2h0M203.9 83.5h0M216.4 64.6h0M203.4 88.2h0M217.9 78.5h0M197.2 83.6h0M203.2 56.2h0M210.6 60.7h0M215.5 86.0h0M198.1 89.1h0M199.4 77.5h0M195.1 52.5h0M215.8 62.8h0M216.6 78.1h0M210.6 69.2h0M218.9 84.8h0M238.5 78.2h0M206.9 73.7h0M220.8 84.4h0M194.7 86.2h0M198.5 80.4h0M204.4 74.4h0M198.7 76.7h0M204.7 86.5h0M196.0 87.6h0M214.9 67.0h0M200.5 84.7h0M208.0 85.0h0M208.9 80.9h0M198.0 79.7h0M195.2 77.8h0M220.3 86.3h0M206.4 84.5h0M219.6 81.1h0M221.2 72.2h0M193.5 86.8h0M208.6 89.4h0M211.6 80.7h0M216.1 84.8h0M212.4 88.9h0M216.9 84.3h0M206.1 69.3h0M201.2 88.2h0M193.6 88.7h0M242.9 76.6h0M211.6 82.6h0M219.4 73.9h0M200.6 83.8h0M194.9 69.8h0M200.5 73.9h0M196.4 78.9h0M206.2 89.4h0M230.4 81.0h0M217.2 79.4h0M194.3 83.9h0M195.4 84.0h0M236.8 79.3h0M220.6 85.3h0M210.9 85.0h0M210.5 81.2h0M206.3 74.8h0M198.8 81.4h0M237.0 79.6h0M198.3 89.6h0M201.2 71.0h0M218.6 70.4h0M222.3 85.6h0M241.2 77.2h0M208.8 67.6h0M211.0 53.7h0M212.2 84.9h0M195.4 82.8h0M216.6 83.0h0M212.7 87.2h0M215.7 86.9h0M194.9 70.2h0M207.8 77.0h0M203.4 54.2h0M202.4 86.1h0M198.3 70.1h0M211.7 86.4h0M223.3 82.8h0M204.1 78.7h0M215.2 86.1h0M239.1 77.4h0M242.3 76.7h0M211.5 72.5h0M194.8 85.5h0M218.5 68.6h0M200.7 83.9h0M201.7 80.8h0M206.0 85.7h0M205.6 74.8h0M216.3 81.4h0M254.2 70.6h0M230.7 78.7h0M232.4 73.5h0M197.2 88.1h0M209.6 87.3h0M240.6 78.1h0M216.0 81.3h0M206.8 81.5h0M204.4 83.6h0M225.9 82.2h0M206.2 85.3h0M194.4 86.4h0M221.4 83.3h0M204.2 68.1h0M203.4 88.2h0M197.6 79.0h0M207.5 86.2h0M199.3 74.8h0M193.0 70.8h0M206.6 88.5h0M202.5 88.2h0M218.4 86.9h0M198.6 86.8h0M209.5 83.0h0M228.3 76.6h0M210.9 89.5h0M198.0 73.4h0M196.8 87.2h0M198.9 71.9h0M199.2 85.9h0M209.8 86.2h0M232.9 76.6h0M203.0 87.4h0M195.2 81.8h0M196.9 86.8h0M209.1 80.2h0M206.8 88.2h0M195.5 71.7h0M198.2 87.6h0M246.8 75.7h0M195.0 89.7h0M210.5 88.2h0M249.1 70.9h0M211.2 71.5h0M192.0 77.5h0M214.9 72.5h0M202.8 73.0h0M196.4 89.7h0M217.2 86.3h0M213.4 73.7h0M218.0 70.9h0M215.4 67.5h0M201.3 87.6h0M200.5 58.9h0M204.7 22.4h0M194.4 76.2h0M201.4 70.2h0M194.4 81.4h0M212.7 84.6h0M218.7 78.6h0M209.0 86.8h0M195.9 88.5h0M223.2 83.8h0M225.1 65.9h0M200.1 71.8h0M195.9 85.6h0M217.2 86.3h0M196.0 86.4h0M201.8 88.3h0M196.9 71.0h0M193.1 85.5h0M234.4 80.7h0M216.7 81.6h0M262.0 65.9h0M239.4 60.8h0M232.2 72.6h0M257.8 68.1h0M226.8 74.6h0M228.4 78.9h0M236.7 77.5h0M257.8 70.6h0M239.0 76.8h0M228.8 76.5h0M223.8 76.5h0M247.2 72.9h0M222.1 83.1h0M223.3 80.4h0M226.3 82.4h0M256.3 69.4h0M226.0 81.7h0M230.4 81.9h0M227.3 82.6h0M239.9 77.7h0M237.2 76.7h0M228.7 80.4h0M223.1 83.9h0M222.8 81.6h0M226.2 80.1h0M222.4 77.1h0M256.3 69.6h0M224.4 84.6h0M247.3 70.8h0M246.1 74.7h0M228.0 79.5h0M224.0 84.4h0M223.7 81.5h0M239.5 75.2h0M235.0 79.5h0M258.0 67.2h0M225.2 74.6h0M232.1 75.8h0M238.3 78.9h0M250.2 74.1h0M227.8 82.1h0M225.8 82.3h0M225.4 81.8h0M240.1 76.6h0M222.4 85.0h0M226.6 80.7h0M245.2 76.2h0M240.9 77.3h0M225.0 83.7h0M229.8 81.6h0M239.1 78.8h0M245.2 74.3h0M233.9 79.6h0M252.2 68.9h0M224.5 75.9h0M222.1 78.3h0M263.4 68.8h0M230.0 77.0h0M227.2 82.6h0M227.3 79.6h0M237.7 76.7h0M235.3 80.0h0M230.5 77.5h0M227.0 81.5h0M230.1 73.9h0M243.3 75.3h0M241.9 70.0h0M244.4 73.9h0M245.5 76.0h0M222.5 83.3h0M227.2 81.4h0M232.8 77.7h0M223.6 84.7h0M258.1 68.2h0M229.7 81.4h0M236.7 78.3h0M253.7 70.8h0M228.5 81.1h0M232.3 78.4h0M241.5 76.8h0M232.2 71.7h0M223.0 83.8h0M228.7 81.5h0M231.6 81.6h0M251.2 73.9h0M245.1 71.0h0M241.3 71.6h0M238.4 78.6h0M245.3 75.4h0M257.9 69.8h0M238.2 77.4h0M234.1 77.1h0M234.7 79.5h0M236.7 70.6h0M223.7 77.0h0M253.8 72.5h0M242.1 75.8h0M230.6 82.2h0M228.3 81.7h0M253.9 67.7h0M227.9 79.6h0M226.6 77.8h0M238.3 69.1h0M234.5 80.2h0M222.5 80.4h0M257.9 65.8h0M251.7 73.6h0M232.2 74.6h0M228.8 82.4h0M249.8 73.4h0M224.3 81.7h0M264.7 66.9h0M259.3 68.6h0M229.0 74.1h0M236.1 80.0h0M267.7 66.2h0M267.6 67.2h0M233.1 80.7h0M253.6 66.4h0M238.0 79.2h0M266.1 67.3h0M226.0 83.3h0M254.5 70.6h0M233.9 75.0h0M231.7 76.1h0M222.1 81.9h0M230.8 81.5h0M231.0 82.0h0M231.2 81.0h0M253.3 72.7h0M225.3 81.7h0M251.2 70.2h0M231.2 78.7h0M241.2 76.9h0M233.7 76.3h0M249.8 72.3h0M237.7 79.4h0M264.3 58.9h0M242.1 71.9h0M225.0 84.0h0M250.8 73.8h0M227.8 78.9h0M223.2 83.6h0M225.0 83.4h0M247.8 71.1h0M223.6 83.0h0M261.7 69.4h0M251.4 72.5h0M224.5 81.8h0M228.9 80.3h0M233.1 78.3h0M226.9 81.5h0M244.8 76.2h0M235.5 78.5h0M256.3 71.0h0M229.9 79.6h0M253.9 66.7h0M224.1 82.5h0M249.5 74.1h0M259.3 65.8h0M242.0 76.9h0M232.9 76.5h0M241.9 75.9h0M232.4 79.4h0M243.6 76.2h0M225.0 82.1h0M268.8 65.8h0M260.5 69.7h0M227.3 78.0h0M224.2 80.0h0M226.7 80.0h0M258.0 70.4h0M226.0 80.8h0M230.2 82.1h0M233.0 75.5h0M240.6 77.0h0M232.7 77.2h0M253.7 62.3h0M261.2 66.7h0M226.5 82.4h0M260.7 69.0h0M233.6 78.2h0M231.8 81.1h0M228.4 80.9h0M230.1 82.2h0M229.0 81.9h0M256.9 71.1h0M228.8 81.4h0M222.0 76.0h0M230.7 80.6h0M232.9 80.1h0M228.1 79.7h0M249.5 70.9h0M239.5 74.3h0M244.0 60.8h0M225.8 69.0h0M224.8 83.5h0M242.5 75.6h0M234.8 79.7h0M227.6 80.7h0M249.2 73.0h0M259.2 69.3h0M229.6 77.8h0M223.0 83.3h0M241.2 76.8h0M222.2 81.7h0M228.4 81.7h0M264.0 65.4h0M224.5 80.5h0M245.1 75.0h0M222.9 80.7h0M227.1 79.3h0M244.5 76.2h0M237.8 70.1h0M263.1 69.0h0M238.7 77.1h0M232.7 81.1h0M228.7 68.7h0M234.4 78.3h0M228.2 81.6h0M223.1 84.7h0M246.9 69.1h0M223.9 80.9h0M231.4 81.6h0M243.6 75.4h0M230.1 77.7h0M224.1 83.8h0M225.4 82.7h0M222.4 83.5h0M224.0 80.0h0M228.6 74.9h0M242.7 73.5h0M230.5 77.9h0M245.9 74.5h0M222.8 76.1h0M246.1 74.6h0M240.8 72.7h0M236.3 79.6h0M233.1 79.3h0M231.9 77.1h0M266.9 59.2h0M232.4 79.4h0M237.3 79.2h0M232.2 76.5h0M241.0 76.9h0M229.9 78.5h0M242.7 74.0h0M257.1 70.5h0M226.6 83.1h0M238.6 73.6h0M231.6 81.7h0M229.9 79.4h0M226.6 83.2h0M223.7 84.0h0M228.7 81.8h0M235.4 77.8h0M231.6 79.5h0M222.3 80.8h0M248.1 73.3h0M241.3 75.1h0M252.2 72.1h0M225.6 81.9h0M257.0 71.5h0M241.1 76.6h0M245.9 74.8h0M232.5 74.4h0M248.3 70.1h0M256.7 69.6h0M241.0 77.0h0M222.7 69.4h0M231.1 82.0h0M231.1 81.6h0M265.0 68.1h0M225.9 83.1h0M222.3 84.9h0M225.4 82.0h0M223.1 84.6h0M226.8 73.7h0M230.0 80.9h0M256.5 71.5h0M225.7 76.1h0M231.7 79.9h0M240.7 77.5h0M254.7 71.8h0M238.4 73.7h0" stroke="#000" stroke-width="0.8" stroke-opacity="0.7" stroke-linecap="square" fill="none"/>
<path d="M257.9 11.6h0M196.5 73.6h0M195.3 71.8h0M228.6 10.4h0M202.6 34.1h0M216.1 77.4h0M219.1 21.6h0M208.7 11.5h0M197.7 88.3h0M212.5 53.3h0M192.5 18.9h0M205.6 39.2h0M200.2 77.9h0M217.6 77.6h0M213.4 30.3h0M196.7 71.5h0M229.3 36.8h0M236.5 24.4h0M231.0 55.7h0M212.4 39.7h0M200.1 72.0h0M211.5 81.2h0M206.8 87.9h0M248.8 70.2h0M216.0 38.3h0M209.5 37.4h0M222.3 24.6h0M196.5 47.1h0M205.3 69.4h0M228.1 13.4h0M225.9 18.6h0M194.7 65.3h0M204.5 30.1h0M226.2 53.8h0M218.5 51.9h0M193.6 23.0h0M235.2 80.4h0M210.0 46.9h0M199.7 12.4h0M235.3 80.1h0M206.8 68.3h0M222.8 22.8h0M197.4 73.8h0M233.8 19.0h0M199.0 48.5h0M199.3 63.3h0M201.1 86.1h0M194.1 80.8h0M211.1 84.4h0M198.7 18.9h0M235.2 13.4h0M225.2 18.5h0M199.6 64.4h0M227.8 13.0h0M193.6 25.7h0M235.3 13.5h0M211.8 60.0h0M207.4 63.9h0M194.9 28.1h0M205.9 29.6h0M194.2 88.0h0M196.1 44.3h0M212.3 31.2h0M238.3 63.7h0M204.3 67.4h0M200.7 51.5h0M211.9 16.6h0M224.3 30.4h0M231.6 73.9h0M241.7 31.9h0M196.3 22.4h0M220.4 32.0h0M199.3 69.8h0M221.9 82.7h0M202.6 79.9h0M199.4 81.6h0M212.7 87.5h0M215.4 77.8h0M197.8 59.9h0M206.0 33.6h0M196.4 89.8h0M234.5 27.2h0M210.2 35.2h0M194.5 71.1h0M205.3 44.9h0M211.4 12.9h0M203.3 53.7h0M220.2 80.2h0M204.4 51.7h0M193.0 71.3h0M215.8 25.5h0M205.7 72.5h0M218.0 36.0h0M197.3 38.2h0M252.3 69.0h0M205.5 54.6h0M206.3 44.3h0M208.5 38.1h0M214.7 34.5h0M217.8 56.1h0M198.6 71.5h0M212.8 86.4h0M211.1 46.0h0M192.6 67.1h0M199.3 15.3h0M204.8 49.5h0M211.7 64.2h0M246.4 70.5h0M202.6 59.3h0M198.9 47.7h0M223.9 84.4h0M206.4 23.8h0M209.9 64.9h0M196.9 41.0h0M192.7 10.6h0M204.7 71.6h0M209.8 77.8h0M206.0 18.4h0M207.4 75.7h0M198.2 45.3h0M244.8 32.2h0M205.0 54.3h0M211.8 77.9h0M206.8 85.4h0M222.2 50.3h0M237.5 70.1h0M218.2 76.6h0M196.8 61.4h0M224.2 46.4h0M222.6 17.7h0M195.3 45.4h0M202.2 51.8h0M216.8 70.6h0M208.2 13.1h0M197.7 28.6h0M218.5 22.0h0M202.5 82.6h0M203.7 17.7h0M200.5 79.4h0M226.4 25.0h0M219.3 79.3h0M208.5 50.4h0M195.7 74.1h0M198.5 86.2h0M201.9 89.0h0M221.7 16.1h0M223.6 80.6h0M201.4 69.5h0M209.4 38.0h0M203.9 26.3h0M211.7 61.8h0M216.0 65.6h0M211.0 20.5h0M218.2 68.2h0M200.7 54.0h0M199.4 64.4h0M218.3 76.4h0M225.8 46.7h0M195.3 55.6h0M240.1 31.2h0M198.6 39.3h0M202.0 33.3h0M221.6 85.3h0M238.3 62.3h0M201.6 53.0h0M205.7 83.2h0M202.1 58.2h0M211.6 50.5h0M209.5 45.4h0M215.6 79.3h0M200.3 51.1h0M196.3 39.2h0M212.5 25.7h0M246.4 33.2h0M202.6 72.1h0M241.2 26.2h0M212.1 78.1h0M228.2 74.6h0M210.2 28.9h0M204.6 77.6h0M195.0 56.4h0M208.7 77.6h0M217.2 85.3h0M216.8 24.1h0M221.0 62.0h0M242.6 29.9h0M223.4 49.4h0M208.3 19.2h0M215.4 73.8h0M201.2 40.9h0M202.3 21.2h0M206.2 19.2h0M257.0 43.1h0M202.0 34.1h0M219.4 66.2h0M227.6 23.5h0M225.8 34.2h0M197.8 84.1h0M215.0 37.5h0M221.0 19.8h0M200.3 24.8h0M193.4 82.1h0M194.6 22.5h0M205.0 26.3h0M198.7 56.2h0M201.5 39.0h0M209.8 13.2h0M234.1 43.0h0M205.4 26.8h0M201.0 42.4h0M214.4 55.6h0M233.8 49.2h0M203.0 19.5h0M210.4 63.6h0M225.1 26.3h0M195.9 74.6h0M200.0 49.8h0M204.4 12.7h0M250.6 29.2h0M226.3 10.0h0M233.2 43.9h0M203.5 39.4h0M195.4 70.7h0M193.6 20.8h0M204.1 73.5h0M194.6 34.1h0M215.2 13.6h0M245.8 50.3h0M203.8 59.4h0M194.3 28.5h0M209.6 57.5h0M221.3 12.1h0M211.7 78.6h0M207.5 38.1h0M228.5 13.5h0M221.7 31.2h0M202.0 81.3h0M205.7 25.0h0M194.7 30.2h0M241.4 36.8h0M199.0 44.5h0M245.4 24.5h0M217.4 27.8h0M210.3 73.4h0M201.1 57.8h0M226.1 26.7h0M210.9 88.4h0M197.6 37.0h0M206.9 53.5h0M203.0 60.9h0M198.3 88.4h0M204.2 65.4h0M198.8 78.4h0M198.4 41.9h0M195.7 33.9h0M204.3 70.7h0M203.7 58.5h0M197.6 45.1h0M219.6 17.8h0M230.6 45.7h0M217.8 15.6h0M193.8 68.1h0M205.8 27.8h0M211.6 52.0h0M215.5 47.7h0M237.0 10.0h0M215.4 87.2h0M209.8 25.7h0M222.6 68.8h0M214.6 83.9h0M220.5 47.7h0M235.6 35.7h0M201.9 16.2h0M197.5 33.6h0M204.8 46.1h0M260.9 41.5h0M213.5 27.1h0M211.7 59.1h0M210.1 72.1h0M206.9 41.2h0M205.8 28.2h0M201.0 33.5h0M224.8 25.4h0M209.0 86.8h0M201.5 15.8h0M199.7 19.5h0M215.4 75.6h0M204.4 48.6h0M206.3 35.0h0M213.4 84.1h0M218.7 42.2h0M194.6 43.9h0M199.0 79.4h0M203.8 68.9h0M215.6 52.9h0M215.6 11.4h0M198.8 50.6h0M210.7 76.1h0M213.1 52.0h0M198.6 23.0h0M228.6 59.3h0M194.2 71.9h0M203.2 51.2h0M206.5 49.3h0M218.6 73.2h0M217.1 36.5h0M252.0 32.8h0M198.0 42.1h0M207.7 37.5h0M197.2 63.1h0M217.4 70.6h0M213.2 50.8h0M213.1 84.0h0M210.5 79.0h0M241.4 78.3h0M264.0 68.5h0M197.9 85.8h0M199.8 32.7h0M209.1 65.3h0M214.5 41.8h0M211.0 44.3h0M212.8 87.7h0M212.6 52.1h0M240.1 56.6h0M205.9 18.7h0M239.0 32.0h0M210.9 44.8h0M224.1 29.4h0M214.6 62.3h0M198.6 27.8h0M197.5 55.5h0M205.4 43.8h0M217.8 56.2h0M205.0 80.2h0M248.8 48.3h0M233.8 58.2h0M197.4 56.9h0M197.2 25.3h0M215.3 76.9h0M217.7 51.1h0M205.0 77.3h0M198.9 13.9h0M208.8 50.5h0M205.6 34.7h0M198.0 16.0h0M195.7 86.4h0M199.2 63.5h0M194.3 57.3h0M196.0 37.0h0M203.7 48.6h0M209.3 18.3h0M206.5 59.3h0M224.1 63.4h0M205.2 53.7h0M220.0 70.3h0M255.7 33.8h0M193.9 63.7h0M213.7 28.5h0M198.4 63.8h0M201.6 65.5h0M204.1 82.8h0M210.9 48.3h0M194.6 28.4h0M212.5 20.7h0M198.4 36.3h0M198.0 43.7h0M220.0 69.6h0M234.9 14.4h0M198.1 18.4h0M195.2 69.3h0M231.4 25.6h0M197.5 11.5h0M244.7 16.6h0M211.4 61.9h0M205.2 56.9h0M203.5 84.5h0M194.3 21.1h0M210.7 62.9h0M215.4 15.0h0M209.3 75.1h0M202.4 50.4h0M205.6 13.8h0M207.1 9.8h0M215.6 86.0h0M205.4 47.9h0M217.3 83.4h0M197.5 20.2h0M209.8 47.7h0M195.9 65.4h0M198.2 14.3h0M201.1 54.7h0M196.6 29.8h0M196.8 30.1h0M205.7 29.8h0M206.6 51.7h0M198.5 36.4h0M206.2 57.1h0M233.2 16.5h0M202.5 85.2h0M246.0 72.2h0M192.5 60.2h0M215.5 39.2h0M219.4 71.1h0M226.3 20.8h0M202.3 11.2h0M228.7 55.7h0M200.4 26.5h0M239.8 31.5h0M223.5 34.1h0M207.5 36.6h0M204.2 55.3h0M207.6 79.3h0M217.4 82.2h0M249.4 51.4h0M247.1 21.7h0M198.4 37.7h0M196.1 19.4h0M204.5 74.1h0M209.0 55.7h0M201.8 71.6h0M210.0 73.9h0M195.0 54.8h0M217.6 75.5h0M213.2 74.5h0M195.7 76.9h0M204.1 80.2h0M205.8 21.4h0M193.8 48.3h0M239.2 32.5h0M210.8 36.1h0M200.6 77.8h0M193.5 71.7h0M223.6 73.9h0M200.3 77.8h0M232.0 22.2h0M208.2 52.3h0M217.9 42.5h0M250.1 41.7h0M209.4 65.7h0M200.0 11.4h0M204.5 43.0h0M199.7 85.9h0M193.0 51.6h0M228.0 27.5h0M202.8 19.5h0M202.6 25.3h0M211.8 16.6h0M213.1 75.4h0M212.3 63.7h0M229.0 60.3h0M225.5 71.9h0M222.9 46.7h0M216.9 74.2h0M216.6 37.0h0M224.4 13.6h0M218.8 51.6h0M232.8 12.5h0M219.9 48.9h0M227.8 55.0h0M220.8 23.9h0M219.4 58.4h0M221.7 22.6h0M215.2 30.8h0M215.8 55.0h0M227.3 59.5h0M218.1 61.7h0M213.3 53.1h0M221.6 10.7h0M214.8 57.4h0M219.4 58.3h0M224.8 60.9h0M225.6 28.6h0M228.2 17.2h0M225.0 55.4h0M222.4 25.1h0M221.8 32.6h0M220.6 60.1h0M218.9 19.7h0M230.5 25.3h0M218.8 28.3h0M227.5 55.3h0M218.6 63.2h0M225.2 19.0h0M204.9 25.5h0M219.9 53.1h0M216.0 21.6h0M227.1 43.3h0M226.7 35.2h0M216.1 56.9h0M218.8 24.4h0M223.9 39.0h0M220.8 42.7h0M219.7 11.8h0M224.2 13.2h0M212.7 21.1h0M227.4 11.8h0M221.6 31.2h0M204.9 41.3h0M214.7 37.0h0M218.9 45.6h0M230.7 42.2h0M219.3 49.9h0M211.8 57.6h0M226.2 10.8h0M221.4 13.2h0M219.4 11.1h0M224.7 40.9h0M217.5 18.3h0M218.9 37.1h0M224.5 25.2h0M221.7 33.2h0M224.4 34.2h0M217.7 43.1h0M228.0 10.9h0M212.4 37.8h0M212.6 26.5h0M222.1 40.9h0M218.0 32.1h0M220.6 10.6h0M219.8 34.6h0M218.8 40.6h0M214.3 58.4h0M221.1 36.4h0M226.2 25.3h0M215.4 10.9h0M229.1 18.6h0M227.5 63.0h0M215.4 40.3h0M223.7 61.0h0M214.1 15.7h0M219.0 18.5h0M214.1 59.2h0M216.9 12.0h0M210.3 36.5h0M218.8 46.5h0M214.4 39.4h0M215.2 46.9h0M209.8 12.2h0M219.8 40.6h0M229.2 39.6h0M217.8 53.4h0M218.9 36.8h0M213.9 27.8h0M217.3 35.2h0M215.3 19.0h0M211.8 53.5h0M215.2 39.9h0M217.0 24.6h0M221.2 48.7h0M217.9 27.2h0M221.0 38.2h0M226.1 65.4h0M224.2 62.2h0M217.5 34.8h0M210.7 24.3h0M218.6 51.4h0M220.0 64.3h0M224.5 58.2h0M220.2 43.1h0M233.5 52.2h0M217.9 65.9h0M222.8 26.2h0M215.0 14.7h0M214.5 51.9h0M218.0 61.6h0M220.5 42.2h0M223.0 26.6h0M203.7 31.4h0M225.1 9.8h0M227.0 51.6h0M226.3 64.9h0M223.7 17.6h0M218.9 42.6h0M222.3 34.1h0M225.9 45.4h0M214.6 64.3h0M222.8 56.0h0M222.0 44.9h0M218.8 11.6h0M228.4 28.5h0M216.0 28.0h0M214.5 50.3h0M219.2 17.3h0M216.3 22.9h0M226.1 16.0h0M211.1 48.5h0M221.0 30.8h0M223.1 29.3h0M213.5 60.0h0M225.9 12.6h0M209.8 51.1h0M224.5 34.8h0M214.9 27.7h0M217.0 11.4h0M228.4 31.7h0M219.0 64.2h0M216.1 51.6h0M220.5 18.4h0M228.8 16.7h0M219.7 40.0h0M215.5 45.8h0M220.4 62.0h0M213.1 63.0h0M215.9 58.6h0M216.5 16.7h0M222.5 34.6h0M216.9 21.9h0M221.7 44.2h0M225.1 23.8h0M227.2 33.9h0M210.8 60.0h0M219.0 24.4h0M213.5 59.1h0M222.5 44.0h0M220.5 24.4h0M219.2 48.0h0M216.6 46.6h0M214.5 31.6h0M210.8 57.0h0M224.1 52.4h0M218.3 43.1h0M219.4 47.7h0M220.9 55.9h0M223.2 42.0h0M228.7 50.7h0M218.4 37.2h0M222.5 34.7h0M211.1 30.2h0M217.3 30.6h0M215.7 56.2h0M216.1 30.0h0M225.0 41.4h0M219.8 30.9h0M219.6 43.0h0M219.6 16.6h0M218.1 11.2h0M218.2 29.8h0M216.0 24.4h0M216.6 57.9h0M217.1 53.4h0M218.3 58.0h0M209.9 36.9h0M219.6 46.3h0M219.1 52.4h0M221.3 27.6h0M213.7 15.4h0M214.6 64.2h0M223.2 62.2h0M215.7 13.3h0M221.6 19.3h0M215.9 56.6h0M213.3 46.8h0M212.0 54.3h0M216.2 36.9h0M216.9 22.1h0M213.2 19.7h0M226.3 60.9h0M219.3 40.1h0M214.8 39.3h0M226.7 44.0h0M223.3 48.1h0M215.5 25.0h0M214.2 14.1h0M218.3 61.6h0M222.8 19.6h0M212.3 51.3h0M225.0 34.5h0M217.3 28.0h0M223.4 61.6h0M218.6 50.5h0M221.7 53.4h0M222.4 26.0h0M201.9 60.1h0M220.2 35.9h0M220.2 26.5h0M232.2 20.4h0M225.9 68.9h0M245.6 34.2h0M221.1 49.5h0M248.9 36.5h0M235.5 58.1h0M221.7 77.3h0M221.2 78.6h0M228.0 62.4h0M227.4 64.1h0M192.7 35.9h0M193.2 42.3h0M207.4 13.1h0M245.4 22.3h0M267.6 25.8h0M192.5 58.5h0M192.4 58.6h0M233.4 12.0h0M257.4 29.3h0M259.4 64.8h0M202.8 76.1h0M216.3 63.5h0M243.3 51.6h0M256.9 11.8h0M259.3 47.1h0M244.7 22.2h0M238.9 28.0h0M209.2 73.2h0M250.5 71.5h0M203.1 73.3h0M246.0 43.6h0M222.8 11.4h0M252.6 71.1h0M203.6 52.3h0M234.8 40.2h0M261.5 20.7h0M243.0 31.6h0M226.3 50.7h0M206.8 70.0h0M205.3 17.6h0M234.6 46.8h0M253.4 11.0h0M255.3 52.6h0M256.2 48.6h0M241.1 47.5h0M266.9 29.2h0M235.2 20.3h0M233.8 78.7h0M254.3 52.6h0M221.4 40.7h0M235.4 39.4h0M200.2 38.2h0M255.9 16.1h0M213.5 36.1h0M242.8 42.7h0M194.5 64.8h0M219.3 33.5h0M202.9 39.9h0M221.7 68.9h0M241.3 48.3h0M233.3 57.5h0M196.1 42.5h0M231.8 24.6h0M193.5 41.2h0M226.5 53.0h0M236.8 38.9h0M221.3 19.5h0M242.3 11.6h0M222.5 58.5h0M222.6 74.5h0M244.7 73.2h0M241.7 53.5h0M242.7 25.8h0M202.3 47.5h0M265.2 16.5h0M259.9 53.1h0M204.5 82.3h0M251.7 42.5h0M220.4 47.7h0M255.5 30.7h0M231.4 74.4h0M239.6 54.1h0M242.2 43.5h0M240.7 20.7h0M242.6 57.8h0M229.5 23.6h0M232.3 31.6h0M203.1 36.1h0M240.8 29.7h0M221.9 63.7h0M196.3 57.5h0M244.0 70.1h0M221.0 72.9h0M244.0 28.8h0M203.3 76.6h0M249.9 56.5h0M200.7 66.3h0M209.6 37.5h0M217.4 58.9h0M192.6 51.2h0M233.8 45.6h0M211.3 46.5h0M203.7 59.8h0M192.7 81.3h0M223.2 48.3h0M216.2 59.7h0M220.1 63.2h0M254.3 71.5h0M225.2 17.1h0M221.9 53.2h0M233.8 18.6h0M230.3 11.7h0M247.9 21.6h0M225.4 56.7h0M267.1 55.1h0M243.2 58.9h0M255.9 37.0h0M205.3 61.6h0M265.3 31.2h0M260.4 52.4h0M232.7 50.3h0M210.9 51.4h0M234.9 19.3h0M249.9 49.8h0M233.3 31.2h0M235.9 11.1h0M222.9 69.0h0M241.3 19.3h0M256.4 49.4h0M208.4 38.2h0" stroke="#000" stroke-width="0.8" stroke-opacity="0.55" stroke-linecap="square" fill="none"/>
<ellipse cx="214.5" cy="87.3" rx="8.3" ry="3.3" transform="rotate(-14 214.5 87.3)" fill="none" stroke="#000" stroke-width="1"/>
<text class="s" x="248.4" y="88.7" font-size="15.94" textLength="18.0" lengthAdjust="spacingAndGlyphs" fill="#000">R1</text>
<path d="M169.7 88.0V13.6" stroke="#000" stroke-width="1.9" fill="none"/>
<path d="M169.7 9.0l3.9 5.6h-7.8z" fill="#000"/>
<path d="M183.2 103.8H266.4" stroke="#000" stroke-width="1.9" fill="none"/>
<path d="M271.0 103.8l-5.6 -3.9v7.8z" fill="#000"/>
<text class="s sv" transform="translate(166.6 71.0) rotate(-90)" font-size="17.68" textLength="37.0" lengthAdjust="spacingAndGlyphs" fill="#000">SSC</text>
<text class="s" x="208.6" y="119.4" font-size="17.97" textLength="35.8" lengthAdjust="spacingAndGlyphs" fill="#000">FSC</text>
<clipPath id="k1"><rect x="39.5" y="153.1" width="87.0" height="79.4"/></clipPath>
<g clip-path="url(#k1)" filter="url(#bl)" stroke="#000" stroke-width="0.8" stroke-opacity="0.8" stroke-linecap="square" fill="none">
<use href="#g" transform="translate(48.3 206.5) scale(0.180 0.250) rotate(90) scale(1 1)"/>
<use href="#e" transform="translate(48.3 206.5) scale(0.180 0.250) rotate(180) scale(1 1)"/>
<use href="#e" transform="translate(48.0 213.0) scale(0.250 0.425) rotate(270) scale(1 1)"/>
<use href="#a" transform="translate(48.0 213.0) scale(0.250 0.425) rotate(0) scale(-1 1)"/>
<use href="#g" transform="translate(48.3 224.5) scale(0.210 0.260) rotate(90) scale(-1 1)"/>
<use href="#g" transform="translate(78.6 226.5) scale(0.375 0.230) rotate(180) scale(-1 1)"/>
<use href="#e" transform="translate(78.6 226.5) scale(0.375 0.230) rotate(270) scale(-1 1)"/>
<use href="#e" transform="translate(90.0 205.5) scale(0.325 0.250) rotate(0) scale(1 1)"/>
<use href="#e" transform="translate(72.0 214.0) scale(0.650 0.400) rotate(90) scale(1 1)"/>
<use href="#u" transform="translate(70.0 214.5) scale(1.500 0.925) rotate(180)"/>
<use href="#u" transform="translate(70.0 214.5) scale(1.500 0.925) rotate(270)"/>
</g>
<rect x="39.0" y="152.6" width="88.0" height="80.4" fill="none" stroke="#868686" stroke-width="1"/>
<path d="M60.7 152.6V233.0M39.0 214.4H127.0" stroke="#868686" stroke-width="1" fill="none"/>
<path d="M36.4 151.7h1.6M38.4 234.7h1.8M36.4 171.8h1.6M60.4 234.7h1.8M36.4 191.9h1.6M82.4 234.7h1.8M36.4 212.0h1.6M104.4 234.7h1.8M36.4 232.1h1.6M126.4 234.7h1.8" stroke="#a8a8a8" stroke-width="1.8" fill="none"/>
<rect x="39.4" y="193.4" width="21.1" height="21.0" fill="none" stroke="#444" stroke-width="1"/>
<clipPath id="k2"><rect x="180.5" y="152.9" width="87.0" height="79.6"/></clipPath>
<g clip-path="url(#k2)" filter="url(#bl)" stroke="#000" stroke-width="0.8" stroke-opacity="0.8" stroke-linecap="square" fill="none">
<use href="#g" transform="translate(188.0 201.0) scale(0.180 0.220) rotate(0) scale(-1 1)"/>
<use href="#f" transform="translate(188.0 201.0) scale(0.180 0.220) rotate(90) scale(-1 1)"/>
<use href="#b" transform="translate(188.0 201.0) scale(0.180 0.220) rotate(180) scale(-1 1)"/>
<use href="#g" transform="translate(188.0 224.0) scale(0.220 0.230) rotate(270) scale(-1 1)"/>
<use href="#f" transform="translate(188.0 224.0) scale(0.220 0.230) rotate(0) scale(1 1)"/>
<use href="#e" transform="translate(188.0 224.0) scale(0.220 0.230) rotate(90) scale(1 1)"/>
<use href="#g" transform="translate(222.0 225.0) scale(0.500 0.210) rotate(180) scale(1 1)"/>
<use href="#f" transform="translate(222.0 225.0) scale(0.500 0.210) rotate(270) scale(1 1)"/>
<use href="#b" transform="translate(222.0 225.0) scale(0.500 0.210) rotate(0) scale(-1 1)"/>
<use href="#e" transform="translate(233.0 200.0) scale(0.240 0.210) rotate(90) scale(-1 1)"/>
<use href="#a" transform="translate(233.0 200.0) scale(0.240 0.210) rotate(180) scale(-1 1)"/>
<use href="#c" transform="translate(214.0 204.0) scale(0.650 0.300) rotate(270) scale(-1 1)"/>
<use href="#a" transform="translate(214.0 204.0) scale(0.650 0.300) rotate(0) scale(1 1)"/>
<use href="#e" transform="translate(190.0 212.0) scale(0.250 0.450) rotate(90) scale(1 1)"/>
<use href="#u" transform="translate(213.0 211.5) scale(1.600 1.075) rotate(180)"/>
<use href="#u" transform="translate(213.0 211.5) scale(1.600 1.075) rotate(270)"/>
</g>
<rect x="180.0" y="152.4" width="88.0" height="80.6" fill="none" stroke="#868686" stroke-width="1"/>
<path d="M201.0 152.4V233.0M180.0 212.4H268.0" stroke="#868686" stroke-width="1" fill="none"/>
<path d="M177.4 151.5h1.6M179.4 234.7h1.8M177.4 171.7h1.6M201.4 234.7h1.8M177.4 191.8h1.6M223.4 234.7h1.8M177.4 211.9h1.6M245.4 234.7h1.8M177.4 232.1h1.6M267.4 234.7h1.8" stroke="#a8a8a8" stroke-width="1.8" fill="none"/>
<rect x="180.5" y="189.4" width="20.0" height="23.0" fill="none" stroke="#444" stroke-width="1"/>
<clipPath id="k3"><rect x="323.1" y="152.5" width="87.0" height="80.4"/></clipPath>
<g clip-path="url(#k3)" filter="url(#bl)" stroke="#000" stroke-width="0.8" stroke-opacity="0.8" stroke-linecap="square" fill="none">
<use href="#g" transform="translate(333.6 204.8) scale(0.155 0.210) rotate(0) scale(-1 1)"/>
<use href="#f" transform="translate(333.6 204.8) scale(0.155 0.210) rotate(90) scale(-1 1)"/>
<use href="#g" transform="translate(332.0 223.0) scale(0.210 0.230) rotate(180) scale(-1 1)"/>
<use href="#c" transform="translate(332.0 223.0) scale(0.210 0.230) rotate(270) scale(-1 1)"/>
<use href="#e" transform="translate(362.0 224.0) scale(0.600 0.250) rotate(0) scale(1 1)"/>
<use href="#e" transform="translate(368.0 203.0) scale(0.500 0.275) rotate(90) scale(1 1)"/>
<path stroke-opacity=".62" d="M340.0 209.3h0M332.2 206.9h0M336.4 215.1h0M332.0 207.0h0M333.1 202.8h0M337.9 212.5h0M341.2 195.4h0M333.6 208.5h0M334.3 216.4h0M329.2 204.2h0M332.1 212.7h0M335.1 206.2h0M327.6 210.4h0M331.2 214.9h0M328.2 216.7h0M333.9 216.4h0M336.9 207.2h0M334.5 224.9h0M331.8 215.6h0M328.7 208.0h0M326.1 223.5h0M333.1 210.0h0M339.6 228.3h0M331.9 219.7h0M332.7 212.3h0M331.1 209.4h0M328.2 206.6h0M337.6 207.0h0M336.1 211.0h0M326.7 223.6h0M327.7 214.5h0M338.8 212.5h0M329.2 216.5h0M332.8 210.7h0M328.6 203.4h0M334.4 201.6h0M329.7 224.3h0M330.4 211.0h0M328.2 225.7h0M341.2 228.0h0M344.2 215.4h0M334.0 219.2h0M335.9 210.4h0M335.5 212.2h0M333.1 213.9h0M332.7 213.2h0M331.5 225.0h0M336.4 212.5h0M327.8 220.3h0M329.4 214.2h0M336.1 218.1h0M327.0 227.6h0M340.0 201.1h0M331.9 222.4h0M333.8 208.3h0M338.8 214.8h0M332.8 210.6h0M333.6 209.5h0M330.5 202.6h0M335.3 192.3h0M336.0 230.1h0M329.2 220.1h0M335.9 211.4h0M337.2 198.6h0M335.1 218.5h0M329.8 225.7h0M337.1 216.7h0M338.9 199.7h0M330.9 209.1h0M325.2 215.3h0M330.0 212.7h0M333.1 222.0h0M338.7 205.6h0M338.2 208.2h0M336.0 193.5h0M330.3 222.2h0M336.3 218.3h0M333.0 209.8h0M328.6 199.0h0M325.3 220.1h0M337.4 201.9h0M326.0 203.0h0M338.4 197.8h0M342.8 201.8h0M333.2 205.6h0M329.4 204.5h0M330.3 221.9h0M330.1 218.8h0M334.7 213.7h0M337.4 208.5h0M329.8 212.7h0M331.6 202.5h0M330.2 216.2h0M338.0 205.6h0M337.3 209.0h0M329.4 215.8h0M331.7 206.0h0M333.8 201.9h0M325.3 221.2h0M330.7 199.2h0M333.6 202.8h0M327.0 203.6h0M334.0 207.2h0M333.2 211.9h0M330.6 187.2h0M337.5 209.0h0M329.0 224.3h0M334.9 222.6h0M331.9 220.1h0M337.8 212.3h0M329.6 214.8h0M335.6 208.5h0M335.7 199.6h0M338.0 215.9h0M340.0 221.7h0M326.5 215.4h0M332.7 212.8h0M328.4 220.0h0M337.3 215.6h0M338.9 222.0h0M331.7 209.6h0M334.1 198.5h0M338.7 216.9h0M333.9 220.2h0M332.5 206.7h0M325.9 214.9h0M330.0 218.8h0M337.4 191.0h0M326.7 232.8h0M334.3 219.3h0M334.0 211.4h0M333.0 203.6h0M336.5 200.2h0M329.8 240.0h0M339.0 210.4h0M331.1 218.6h0M337.4 207.6h0M330.5 210.4h0M334.2 218.3h0M331.6 205.4h0M340.3 212.4h0M328.5 211.3h0M330.3 216.9h0M339.4 219.9h0M336.5 211.5h0M332.9 224.3h0M331.9 209.1h0M327.5 209.8h0M331.9 213.7h0M334.6 210.9h0M338.3 219.3h0M337.1 189.8h0M339.3 198.6h0M334.7 195.3h0M330.0 224.4h0M331.5 219.7h0M339.7 207.3h0M333.5 216.2h0M339.2 198.6h0M326.2 210.5h0"/>
<use href="#u" transform="translate(354.5 212.5) scale(1.525 1.025) rotate(180)"/>
</g>
<rect x="322.6" y="152.0" width="88.0" height="81.4" fill="none" stroke="#868686" stroke-width="1"/>
<path d="M344.8 152.0V233.4M322.6 212.6H410.6" stroke="#868686" stroke-width="1" fill="none"/>
<path d="M320.0 151.1h1.6M322.0 235.1h1.8M320.0 171.4h1.6M344.0 235.1h1.8M320.0 191.8h1.6M366.0 235.1h1.8M320.0 212.2h1.6M388.0 235.1h1.8M320.0 232.5h1.6M410.0 235.1h1.8" stroke="#a8a8a8" stroke-width="1.8" fill="none"/>
<rect x="323.0" y="189.4" width="21.8" height="23.2" fill="none" stroke="#444" stroke-width="1"/>
<clipPath id="k4"><rect x="39.9" y="297.0" width="87.0" height="79.6"/></clipPath>
<g clip-path="url(#k4)" filter="url(#bl)" stroke="#000" stroke-width="0.8" stroke-opacity="0.8" stroke-linecap="square" fill="none">
<use href="#g" transform="translate(49.0 367.5) scale(0.235 0.210) rotate(270) scale(1 1)"/>
<use href="#f" transform="translate(49.0 367.5) scale(0.235 0.210) rotate(0) scale(-1 1)"/>
<path stroke-opacity=".62" d="M56.6 332.7h0M52.8 357.5h0M59.6 350.6h0M47.5 349.0h0M55.1 345.1h0M50.3 342.2h0M51.3 349.2h0M51.0 362.3h0M53.3 342.0h0M55.9 334.3h0M50.1 342.4h0M51.6 343.2h0M49.4 349.9h0M51.2 333.3h0M46.1 339.3h0M54.4 340.2h0M53.1 350.1h0M51.3 351.1h0M49.8 344.1h0M46.8 350.8h0M45.5 343.4h0M44.8 343.4h0M46.2 325.2h0M54.1 335.7h0M51.8 334.0h0M43.3 346.0h0M45.4 343.1h0M56.0 334.3h0M57.5 342.8h0M53.8 341.5h0M59.6 345.4h0M46.8 338.2h0M51.9 337.0h0M47.0 351.6h0M60.1 340.4h0M51.9 350.1h0M51.9 335.7h0M51.7 340.6h0M46.9 339.9h0M49.7 335.0h0M39.6 347.7h0M48.0 332.1h0M45.4 344.1h0M53.6 326.1h0M56.2 347.5h0M51.3 342.6h0M45.4 350.8h0M45.0 357.5h0M53.5 337.1h0M48.9 342.4h0M48.9 332.5h0M45.1 338.8h0M51.2 342.7h0M51.0 342.5h0M53.8 348.2h0M45.8 346.0h0M50.0 349.6h0M43.6 337.1h0M51.2 343.3h0M50.2 334.4h0M48.4 340.9h0M54.2 321.6h0M44.3 341.4h0M57.3 342.6h0M52.0 338.7h0M52.8 339.1h0M51.4 329.3h0M46.9 337.3h0M47.6 337.7h0M54.5 343.8h0M50.1 345.6h0M51.6 338.8h0M48.6 341.1h0M54.0 344.8h0M53.2 335.4h0"/>
<path stroke-opacity=".62" d="M87.3 368.8h0M96.6 374.0h0M81.6 356.0h0M73.8 363.5h0M80.1 367.8h0M88.7 362.1h0M89.6 357.6h0M66.1 366.2h0M81.1 365.6h0M71.6 362.0h0M74.2 365.9h0M80.6 368.6h0M83.0 368.9h0M75.6 366.6h0M70.5 360.0h0M76.4 363.7h0M68.9 355.8h0M93.8 360.7h0M64.1 365.6h0M83.5 367.1h0M79.1 364.8h0M78.2 364.8h0M68.7 357.1h0M73.7 359.8h0M75.1 360.3h0M73.3 362.5h0M75.9 362.5h0M79.1 373.6h0M74.1 368.9h0M82.0 360.8h0M84.6 362.2h0M73.2 362.7h0M84.7 362.5h0M78.6 362.8h0M73.0 356.7h0M82.3 369.5h0M88.0 367.6h0M75.2 367.4h0M61.7 365.2h0M85.0 366.7h0M87.0 363.4h0M68.0 356.9h0M76.8 365.3h0M82.1 364.9h0M56.7 359.5h0M85.0 355.8h0M84.5 369.4h0M85.3 360.7h0M91.4 364.0h0M68.5 362.0h0"/>
<path stroke-opacity=".62" d="M91.5 341.9h0M69.2 340.9h0M87.0 346.3h0M61.9 343.1h0M86.1 340.7h0M76.2 352.6h0M63.8 343.0h0M80.0 351.2h0M79.1 349.9h0M68.3 342.1h0M82.1 336.5h0M79.4 346.7h0M83.0 349.1h0M69.8 351.6h0"/>
</g>
<rect x="39.4" y="296.5" width="88.0" height="80.6" fill="none" stroke="#868686" stroke-width="1"/>
<path d="M62.4 296.5V377.1M39.4 356.9H127.4" stroke="#868686" stroke-width="1" fill="none"/>
<path d="M36.8 295.6h1.6M38.8 378.8h1.8M36.8 315.8h1.6M60.8 378.8h1.8M36.8 335.9h1.6M82.8 378.8h1.8M36.8 356.1h1.6M104.8 378.8h1.8M36.8 376.2h1.6M126.8 378.8h1.8" stroke="#a8a8a8" stroke-width="1.8" fill="none"/>
<clipPath id="k5"><rect x="181.3" y="296.3" width="86.8" height="80.0"/></clipPath>
<g clip-path="url(#k5)" filter="url(#bl)" stroke="#000" stroke-width="0.8" stroke-opacity="0.8" stroke-linecap="square" fill="none">
<use href="#g" transform="translate(186.5 366.5) scale(0.220 0.205) rotate(90) scale(-1 1)"/>
<use href="#f" transform="translate(186.5 366.5) scale(0.220 0.205) rotate(180) scale(-1 1)"/>
<use href="#c" transform="translate(192.0 367.0) scale(0.250 0.200) rotate(270) scale(-1 1)"/>
<use href="#a" transform="translate(192.0 367.0) scale(0.250 0.200) rotate(0) scale(1 1)"/>
<path stroke-opacity=".62" d="M195.5 337.6h0M195.7 330.5h0M190.9 337.4h0M190.5 342.8h0M208.3 338.4h0M198.9 336.5h0M187.7 327.5h0M195.1 345.7h0M195.8 329.5h0M185.7 342.5h0M192.5 335.2h0M196.3 343.4h0M201.3 345.1h0M201.1 335.5h0M192.2 316.3h0M192.3 323.3h0M191.7 330.8h0M194.8 331.2h0M197.7 339.8h0M189.1 351.7h0M193.0 342.4h0M191.1 336.8h0M190.3 347.3h0M191.5 336.4h0M202.1 343.8h0M201.7 340.4h0M200.5 324.1h0M186.3 344.6h0M195.2 350.2h0M204.7 335.3h0M195.7 343.2h0M190.6 341.4h0M196.5 335.9h0M192.6 335.1h0M192.0 344.8h0M195.0 333.2h0M196.0 334.0h0M193.0 343.8h0"/>
<path stroke-opacity=".62" d="M229.3 365.6h0M234.4 366.6h0M217.1 366.2h0M211.0 365.6h0M230.6 366.2h0M209.4 366.1h0M218.5 363.3h0M220.0 363.9h0M235.7 364.1h0M222.0 362.4h0M212.0 363.0h0M221.6 369.6h0M232.5 359.9h0M207.2 370.9h0M211.2 363.1h0M230.1 367.1h0M222.8 364.9h0M213.6 364.3h0M220.1 366.9h0M222.4 370.9h0M212.5 364.5h0M217.2 364.8h0M233.5 363.0h0M224.4 372.0h0M230.8 369.0h0M221.5 368.9h0M217.3 365.0h0M224.3 358.3h0M214.4 366.6h0M224.8 358.7h0M219.3 362.7h0M219.4 368.3h0M219.6 362.9h0M214.1 362.5h0M232.8 357.5h0M209.7 367.4h0M223.6 366.4h0M211.6 363.2h0M229.1 366.2h0M220.0 359.3h0"/>
<path stroke-opacity=".62" d="M214.4 336.9h0M223.4 341.1h0M228.9 342.0h0M221.6 337.1h0M212.0 340.0h0M217.9 330.9h0M230.7 337.0h0"/>
</g>
<rect x="180.8" y="295.8" width="87.8" height="81.0" fill="none" stroke="#868686" stroke-width="1"/>
<path d="M203.0 295.8V376.8M180.8 356.5H268.6" stroke="#868686" stroke-width="1" fill="none"/>
<path d="M178.2 294.9h1.6M180.2 378.5h1.8M178.2 315.2h1.6M202.2 378.5h1.8M178.2 335.4h1.6M224.1 378.5h1.8M178.2 355.7h1.6M246.1 378.5h1.8M178.2 375.9h1.6M268.0 378.5h1.8" stroke="#a8a8a8" stroke-width="1.8" fill="none"/>
<clipPath id="k6"><rect x="323.7" y="296.3" width="87.4" height="80.1"/></clipPath>
<g clip-path="url(#k6)" filter="url(#bl)" stroke="#000" stroke-width="0.8" stroke-opacity="0.8" stroke-linecap="square" fill="none">
<use href="#g" transform="translate(333.6 368.0) scale(0.215 0.215) rotate(90) scale(1 1)"/>
<use href="#e" transform="translate(333.6 368.0) scale(0.215 0.215) rotate(180) scale(1 1)"/>
<path stroke-opacity=".62" d="M335.0 345.8h0M337.4 332.5h0M340.1 331.3h0M333.0 334.2h0M336.8 342.5h0M334.4 349.8h0M331.8 332.5h0M331.8 333.5h0M334.7 343.8h0M334.9 339.3h0M331.9 339.3h0M345.9 338.7h0M334.8 337.1h0M337.5 353.6h0M333.8 347.5h0M346.0 337.1h0M326.0 349.7h0M333.5 354.7h0M335.6 343.4h0M339.6 342.1h0M334.7 335.8h0M330.9 340.7h0M341.2 341.4h0M337.5 350.1h0M333.8 332.2h0M333.9 326.7h0M333.9 335.7h0M335.5 342.6h0M328.0 323.7h0M335.4 338.1h0M332.4 333.2h0M336.8 330.7h0M336.2 340.7h0M330.7 348.9h0M340.2 328.8h0"/>
<path stroke-opacity=".62" d="M363.5 360.4h0M360.3 365.9h0M366.8 369.9h0M361.7 363.8h0M356.6 364.1h0M368.7 362.9h0M365.0 361.3h0M353.5 363.8h0M345.7 361.3h0M356.0 365.0h0M363.2 363.8h0M367.7 361.8h0M357.0 365.9h0M358.5 369.2h0M347.2 368.5h0M357.9 364.8h0M362.5 365.6h0M356.9 362.1h0M360.7 364.9h0M353.8 368.0h0M354.4 368.3h0M363.7 370.4h0"/>
<path stroke-opacity=".62" d="M354.1 327.0h0M369.3 336.5h0M363.4 330.8h0M369.2 334.1h0M361.6 338.0h0M367.6 339.7h0M361.4 338.8h0"/>
</g>
<rect x="323.2" y="295.8" width="88.4" height="81.1" fill="none" stroke="#868686" stroke-width="1"/>
<path d="M345.5 295.8V376.9M323.2 356.4H411.6" stroke="#868686" stroke-width="1" fill="none"/>
<path d="M320.6 294.9h1.6M322.6 378.6h1.8M320.6 315.2h1.6M344.7 378.6h1.8M320.6 335.5h1.6M366.8 378.6h1.8M320.6 355.7h1.6M388.9 378.6h1.8M320.6 376.0h1.6M411.0 378.6h1.8" stroke="#a8a8a8" stroke-width="1.8" fill="none"/>
<clipPath id="k7"><rect x="39.5" y="440.5" width="88.0" height="78.4"/></clipPath>
<g clip-path="url(#k7)" filter="url(#bl)" stroke="#000" stroke-width="0.8" stroke-opacity="0.8" stroke-linecap="square" fill="none">
<use href="#g" transform="translate(48.0 488.0) scale(0.220 0.240) rotate(270) scale(1 1)"/>
<use href="#f" transform="translate(48.0 488.0) scale(0.220 0.240) rotate(0) scale(-1 1)"/>
<use href="#e" transform="translate(48.0 488.0) scale(0.220 0.240) rotate(90) scale(-1 1)"/>
<use href="#d" transform="translate(48.0 488.0) scale(0.220 0.240) rotate(180) scale(-1 1)"/>
<use href="#c" transform="translate(48.0 488.0) scale(0.220 0.240) rotate(270) scale(-1 1)"/>
<use href="#b" transform="translate(48.0 488.0) scale(0.220 0.240) rotate(0) scale(1 1)"/>
<use href="#a" transform="translate(48.0 488.0) scale(0.220 0.240) rotate(90) scale(1 1)"/>
<use href="#a" transform="translate(48.0 488.0) scale(0.220 0.240) rotate(180) scale(1 1)"/>
<use href="#g" transform="translate(48.0 511.0) scale(0.240 0.230) rotate(270) scale(1 1)"/>
<use href="#f" transform="translate(48.0 511.0) scale(0.240 0.230) rotate(0) scale(-1 1)"/>
<use href="#e" transform="translate(48.0 511.0) scale(0.240 0.230) rotate(90) scale(-1 1)"/>
<use href="#d" transform="translate(48.0 511.0) scale(0.240 0.230) rotate(180) scale(-1 1)"/>
<use href="#c" transform="translate(48.0 511.0) scale(0.240 0.230) rotate(270) scale(-1 1)"/>
<use href="#b" transform="translate(48.0 511.0) scale(0.240 0.230) rotate(0) scale(1 1)"/>
<use href="#a" transform="translate(48.0 511.0) scale(0.240 0.230) rotate(90) scale(1 1)"/>
<use href="#a" transform="translate(48.0 511.0) scale(0.240 0.230) rotate(180) scale(1 1)"/>
<use href="#g" transform="translate(82.0 512.0) scale(0.500 0.210) rotate(270) scale(1 1)"/>
<use href="#f" transform="translate(82.0 512.0) scale(0.500 0.210) rotate(0) scale(-1 1)"/>
<use href="#e" transform="translate(82.0 512.0) scale(0.500 0.210) rotate(90) scale(-1 1)"/>
<use href="#d" transform="translate(82.0 512.0) scale(0.500 0.210) rotate(180) scale(-1 1)"/>
<use href="#g" transform="translate(90.0 489.0) scale(0.350 0.225) rotate(270) scale(-1 1)"/>
<use href="#f" transform="translate(90.0 489.0) scale(0.350 0.225) rotate(0) scale(1 1)"/>
<use href="#g" transform="translate(70.0 500.0) scale(0.700 0.400) rotate(90) scale(1 1)"/>
<use href="#e" transform="translate(70.0 500.0) scale(0.700 0.400) rotate(180) scale(1 1)"/>
<use href="#v" transform="translate(71.5 498.5) scale(1.575 1.025) rotate(270)"/>
<use href="#u" transform="translate(71.5 498.5) scale(1.575 1.025) rotate(0)"/>
</g>
<rect x="39.0" y="440.0" width="89.0" height="79.4" fill="none" stroke="#868686" stroke-width="1"/>
<path d="M61.0 440.0V519.4M39.0 500.0H128.0" stroke="#868686" stroke-width="1" fill="none"/>
<path d="M36.4 439.1h1.6M38.4 521.1h1.8M36.4 459.0h1.6M60.6 521.1h1.8M36.4 478.8h1.6M82.9 521.1h1.8M36.4 498.6h1.6M105.2 521.1h1.8M36.4 518.5h1.6M127.4 521.1h1.8" stroke="#a8a8a8" stroke-width="1.8" fill="none"/>
<rect x="39.5" y="476.6" width="21.1" height="23.4" fill="none" stroke="#444" stroke-width="1"/>
<clipPath id="k8"><rect x="183.5" y="439.5" width="87.6" height="78.6"/></clipPath>
<g clip-path="url(#k8)" filter="url(#bl)" stroke="#000" stroke-width="0.8" stroke-opacity="0.8" stroke-linecap="square" fill="none">
<use href="#g" transform="translate(193.0 487.0) scale(0.165 0.210) rotate(90) scale(-1 1)"/>
<use href="#a" transform="translate(193.0 487.0) scale(0.165 0.210) rotate(180) scale(-1 1)"/>
<use href="#g" transform="translate(195.0 508.0) scale(0.230 0.210) rotate(270) scale(-1 1)"/>
<use href="#f" transform="translate(195.0 508.0) scale(0.230 0.210) rotate(0) scale(1 1)"/>
<use href="#b" transform="translate(195.0 508.0) scale(0.230 0.210) rotate(90) scale(1 1)"/>
<use href="#g" transform="translate(222.0 511.0) scale(0.500 0.200) rotate(180) scale(1 1)"/>
<use href="#f" transform="translate(222.0 511.0) scale(0.500 0.200) rotate(270) scale(1 1)"/>
<use href="#e" transform="translate(235.0 487.0) scale(0.350 0.230) rotate(0) scale(-1 1)"/>
<use href="#c" transform="translate(215.0 497.0) scale(0.700 0.350) rotate(90) scale(-1 1)"/>
<use href="#a" transform="translate(215.0 497.0) scale(0.700 0.350) rotate(180) scale(-1 1)"/>
<use href="#u" transform="translate(214.5 498.0) scale(1.525 1.000) rotate(270)"/>
<use href="#u" transform="translate(214.5 498.0) scale(1.525 1.000) rotate(0)"/>
</g>
<rect x="183.0" y="439.0" width="88.6" height="79.6" fill="none" stroke="#868686" stroke-width="1"/>
<path d="M205.0 439.0V518.6M183.0 498.0H271.6" stroke="#868686" stroke-width="1" fill="none"/>
<path d="M180.4 438.1h1.6M182.4 520.3h1.8M180.4 458.0h1.6M204.6 520.3h1.8M180.4 477.9h1.6M226.7 520.3h1.8M180.4 497.8h1.6M248.9 520.3h1.8M180.4 517.7h1.6M271.0 520.3h1.8" stroke="#a8a8a8" stroke-width="1.8" fill="none"/>
<rect x="183.6" y="476.4" width="21.4" height="21.6" fill="none" stroke="#444" stroke-width="1"/>
<clipPath id="k9"><rect x="324.5" y="439.9" width="86.4" height="78.2"/></clipPath>
<g clip-path="url(#k9)" filter="url(#bl)" stroke="#000" stroke-width="0.8" stroke-opacity="0.8" stroke-linecap="square" fill="none">
<use href="#g" transform="translate(335.0 491.0) scale(0.165 0.240) rotate(90) scale(1 1)"/>
<use href="#f" transform="translate(335.0 491.0) scale(0.165 0.240) rotate(180) scale(1 1)"/>
<use href="#b" transform="translate(335.0 491.0) scale(0.165 0.240) rotate(270) scale(1 1)"/>
<use href="#g" transform="translate(334.0 509.5) scale(0.210 0.210) rotate(0) scale(-1 1)"/>
<use href="#e" transform="translate(334.0 509.5) scale(0.210 0.210) rotate(90) scale(-1 1)"/>
<use href="#b" transform="translate(334.0 509.5) scale(0.210 0.210) rotate(180) scale(-1 1)"/>
<use href="#e" transform="translate(362.0 510.0) scale(0.600 0.230) rotate(270) scale(-1 1)"/>
<use href="#e" transform="translate(371.0 489.0) scale(0.550 0.290) rotate(0) scale(1 1)"/>
<use href="#a" transform="translate(371.0 489.0) scale(0.550 0.290) rotate(90) scale(1 1)"/>
<use href="#e" transform="translate(335.0 500.0) scale(0.225 0.450) rotate(180) scale(1 1)"/>
<use href="#u" transform="translate(357.5 498.0) scale(1.625 1.000) rotate(270)"/>
<use href="#u" transform="translate(357.5 498.0) scale(1.625 1.000) rotate(0)"/>
</g>
<rect x="324.0" y="439.4" width="87.4" height="79.2" fill="none" stroke="#868686" stroke-width="1"/>
<path d="M346.6 439.4V518.6M324.0 500.0H411.4" stroke="#868686" stroke-width="1" fill="none"/>
<path d="M321.4 438.5h1.6M323.4 520.3h1.8M321.4 458.3h1.6M345.2 520.3h1.8M321.4 478.1h1.6M367.1 520.3h1.8M321.4 497.9h1.6M388.9 520.3h1.8M321.4 517.7h1.6M410.8 520.3h1.8" stroke="#a8a8a8" stroke-width="1.8" fill="none"/>
<rect x="324.5" y="475.6" width="21.5" height="23.8" fill="none" stroke="#444" stroke-width="1"/>
<clipPath id="k10"><rect x="42.7" y="583.9" width="87.8" height="80.4"/></clipPath>
<g clip-path="url(#k10)" filter="url(#bl)" stroke="#000" stroke-width="0.8" stroke-opacity="0.8" stroke-linecap="square" fill="none">
<use href="#g" transform="translate(51.4 655.0) scale(0.240 0.215) rotate(90) scale(-1 1)"/>
<use href="#f" transform="translate(51.4 655.0) scale(0.240 0.215) rotate(180) scale(-1 1)"/>
<use href="#e" transform="translate(51.4 655.0) scale(0.240 0.215) rotate(270) scale(-1 1)"/>
<path stroke-opacity=".62" d="M56.9 629.8h0M45.7 616.5h0M57.7 620.2h0M48.9 625.1h0M53.0 641.4h0M50.7 621.0h0M47.4 618.9h0M56.5 634.4h0M48.0 620.0h0M50.1 616.3h0M59.1 624.5h0M42.5 633.2h0M45.1 627.1h0M56.8 622.4h0M50.7 638.8h0M56.1 638.3h0M52.5 611.3h0M50.4 615.3h0M55.7 617.4h0M49.4 623.8h0M50.1 627.3h0M53.6 625.0h0M47.7 626.4h0M46.2 629.8h0M45.2 614.1h0M56.7 606.0h0M61.2 628.4h0M57.8 637.0h0M49.7 627.5h0M50.3 622.0h0M48.1 630.8h0M52.6 622.9h0M57.2 614.0h0M52.3 622.3h0M52.5 632.7h0M38.1 628.7h0M54.0 632.0h0M47.2 621.3h0M51.5 630.8h0M54.2 638.7h0M53.1 622.9h0M55.9 621.4h0M59.5 637.0h0M42.4 626.8h0M45.7 615.3h0M60.0 622.1h0M54.8 637.7h0M49.4 629.1h0M51.5 642.7h0M52.7 631.6h0M57.4 628.2h0M51.2 635.4h0M52.7 620.4h0M46.7 635.5h0M59.3 625.1h0M54.7 623.7h0M50.6 629.5h0M46.7 621.7h0M52.6 615.8h0M56.6 617.9h0M63.1 630.6h0M61.3 628.6h0M51.0 626.7h0M50.9 632.4h0M48.4 617.9h0M54.8 622.3h0M49.4 640.6h0M55.4 617.4h0M54.2 637.5h0M54.6 623.6h0M48.4 630.7h0M58.0 628.1h0M51.9 623.7h0M47.3 627.0h0M52.6 634.6h0M53.6 619.7h0M53.1 617.5h0M57.1 633.7h0M58.2 622.4h0M63.1 624.5h0M52.4 624.3h0M58.3 622.2h0M41.2 609.8h0M61.3 625.1h0M52.7 621.9h0M58.6 613.9h0M51.8 621.0h0M55.3 628.1h0M55.7 641.5h0M50.1 621.2h0M50.3 638.0h0M39.8 621.9h0M55.4 630.2h0M52.2 623.7h0M51.8 632.7h0M58.4 627.3h0M54.4 622.5h0M53.9 612.2h0M44.3 634.9h0M53.6 612.6h0M51.5 620.6h0M57.3 641.9h0M50.6 628.2h0M47.3 626.8h0M51.8 627.2h0M61.2 628.2h0M48.9 623.0h0M58.7 629.1h0M52.1 624.6h0M43.7 623.1h0M55.7 630.3h0M63.5 631.7h0M54.9 629.2h0M48.1 634.6h0M51.9 642.8h0M48.9 641.5h0M65.8 627.0h0M55.4 616.3h0M42.2 636.4h0M56.6 627.1h0"/>
<path stroke-opacity=".62" d="M87.7 650.6h0M78.1 652.4h0M88.4 654.2h0M71.8 664.5h0M82.6 653.3h0M69.8 658.7h0M98.2 657.5h0M79.0 659.8h0M63.6 661.7h0M92.0 656.6h0M89.4 649.9h0M92.8 652.5h0M71.8 660.7h0M84.4 663.6h0M92.4 659.7h0M79.8 664.7h0M84.6 657.1h0M79.5 650.4h0M78.7 654.5h0M92.9 655.4h0M74.8 658.2h0M81.6 657.9h0M86.2 650.3h0M81.7 659.3h0M88.4 651.6h0M64.7 655.3h0M90.9 657.0h0M71.4 657.2h0M79.6 656.4h0M78.5 651.7h0M85.3 653.5h0M79.8 658.2h0M77.8 652.1h0M87.1 648.9h0M98.6 642.9h0M76.3 654.2h0M75.8 650.1h0M76.5 654.1h0M71.1 649.4h0M71.1 652.2h0M77.4 652.4h0M87.3 658.3h0M77.1 650.2h0M74.4 648.8h0M80.4 654.6h0M74.7 657.7h0M104.0 650.0h0M94.2 656.3h0M81.5 654.1h0M67.1 656.3h0M76.6 645.8h0M73.6 654.5h0M73.9 652.9h0M63.1 655.0h0M76.9 651.0h0M76.3 653.5h0M75.6 644.4h0M70.5 654.0h0M84.2 660.1h0M74.0 654.9h0M62.3 654.4h0M72.6 655.6h0M87.9 660.3h0M91.2 651.0h0M71.7 647.5h0M79.7 649.1h0M85.8 651.1h0M88.8 654.4h0M77.2 657.7h0M83.5 650.8h0M77.5 649.5h0M66.0 658.0h0M88.7 658.8h0M80.5 650.6h0M84.6 657.4h0M79.3 653.2h0M73.7 651.8h0M77.0 653.4h0M83.9 650.2h0M70.5 646.4h0M93.9 647.7h0M100.1 650.6h0M62.1 655.3h0M88.7 655.7h0M77.4 657.8h0M86.1 650.5h0M82.6 653.8h0M79.5 647.6h0M88.6 649.6h0M81.9 658.5h0M93.4 653.4h0M83.8 662.3h0M69.1 657.0h0M79.7 651.9h0M81.1 650.9h0M76.3 644.7h0M70.9 659.8h0M97.5 658.4h0M80.5 670.0h0M80.9 663.2h0M67.6 655.4h0M85.8 649.3h0M80.2 646.1h0M90.3 652.2h0M95.3 653.8h0M75.8 647.4h0M75.1 657.1h0M90.8 658.3h0M90.2 649.6h0M83.8 652.8h0M87.2 647.7h0M78.6 658.5h0M81.0 650.0h0M81.2 648.9h0M63.4 645.2h0M87.3 649.4h0M87.7 646.2h0M73.5 658.7h0M76.7 656.8h0M83.7 648.4h0M87.2 649.9h0M81.3 653.6h0M77.4 654.4h0M84.7 649.2h0M82.2 660.0h0M72.9 656.8h0M78.5 663.0h0M78.1 641.5h0M86.7 646.8h0M70.3 657.2h0"/>
<path stroke-opacity=".62" d="M81.7 638.9h0M77.6 618.6h0M70.6 612.9h0M83.9 638.3h0M75.8 633.1h0M90.8 626.6h0M88.7 623.6h0M87.2 629.4h0M65.1 623.9h0M82.5 634.7h0M94.0 624.5h0M94.7 621.8h0M89.9 631.3h0M89.1 620.4h0M73.8 631.3h0M91.7 617.4h0M95.0 622.5h0M83.4 628.3h0M84.1 621.2h0M78.8 634.8h0M81.5 626.1h0M77.5 628.6h0M83.8 611.1h0M78.6 631.4h0M67.7 627.6h0M75.0 610.9h0M83.2 628.9h0M81.6 629.5h0M91.7 621.1h0M87.7 618.1h0M90.4 615.5h0M79.6 627.1h0M88.6 627.1h0M74.3 625.1h0M74.5 643.1h0M87.1 626.7h0M81.9 628.1h0M73.6 614.1h0M87.6 629.3h0M91.7 634.3h0M86.1 619.7h0M90.5 643.7h0M87.4 622.3h0M87.4 628.0h0M73.5 623.8h0M64.9 623.7h0M77.2 603.7h0M53.9 633.7h0M75.5 609.2h0M70.9 636.8h0M80.8 617.9h0M74.2 622.6h0M79.9 647.0h0M72.7 619.0h0M77.8 625.0h0"/>
</g>
<rect x="42.2" y="583.4" width="88.8" height="81.4" fill="none" stroke="#868686" stroke-width="1"/>
<path d="M64.9 583.4V664.8M42.2 644.6H131.0" stroke="#868686" stroke-width="1" fill="none"/>
<path d="M39.6 582.5h1.6M41.6 666.5h1.8M39.6 602.9h1.6M63.8 666.5h1.8M39.6 623.2h1.6M86.0 666.5h1.8M39.6 643.5h1.6M108.2 666.5h1.8M39.6 663.9h1.6M130.4 666.5h1.8" stroke="#a8a8a8" stroke-width="1.8" fill="none"/>
<clipPath id="k11"><rect x="183.5" y="583.9" width="88.6" height="79.9"/></clipPath>
<g clip-path="url(#k11)" filter="url(#bl)" stroke="#000" stroke-width="0.8" stroke-opacity="0.8" stroke-linecap="square" fill="none">
<use href="#g" transform="translate(192.3 654.0) scale(0.250 0.200) rotate(0) scale(1 1)"/>
<path stroke-opacity=".62" d="M186.6 627.3h0M191.9 617.2h0M194.9 622.4h0M200.8 633.1h0M179.7 624.1h0M192.5 634.6h0M195.9 614.6h0"/>
<path stroke-opacity=".62" d="M209.1 652.2h0M215.1 645.9h0M206.6 651.5h0M220.0 655.1h0M205.8 652.5h0M217.6 643.8h0M202.7 654.9h0M208.0 654.4h0M216.9 647.5h0M219.6 648.2h0M207.1 655.7h0M202.7 651.2h0"/>
<path stroke-opacity=".62" d="M222.1 631.6h0M225.4 628.8h0M222.7 626.3h0"/>
</g>
<rect x="183.0" y="583.4" width="89.6" height="80.9" fill="none" stroke="#868686" stroke-width="1"/>
<path d="M206.5 583.4V664.3M183.0 643.6H272.6" stroke="#868686" stroke-width="1" fill="none"/>
<path d="M180.4 582.5h1.6M182.4 666.0h1.8M180.4 602.7h1.6M204.8 666.0h1.8M180.4 622.9h1.6M227.2 666.0h1.8M180.4 643.2h1.6M249.6 666.0h1.8M180.4 663.4h1.6M272.0 666.0h1.8" stroke="#a8a8a8" stroke-width="1.8" fill="none"/>
<clipPath id="k12"><rect x="323.9" y="583.9" width="86.6" height="80.7"/></clipPath>
<g clip-path="url(#k12)" filter="url(#bl)" stroke="#000" stroke-width="0.8" stroke-opacity="0.8" stroke-linecap="square" fill="none">
<use href="#g" transform="translate(334.6 654.5) scale(0.200 0.215) rotate(90) scale(1 1)"/>
<use href="#f" transform="translate(334.6 654.5) scale(0.200 0.215) rotate(180) scale(1 1)"/>
<use href="#c" transform="translate(333.0 655.0) scale(0.300 0.250) rotate(270) scale(1 1)"/>
<path stroke-opacity=".62" d="M336.4 623.0h0M335.1 636.1h0M339.7 629.5h0M332.4 633.5h0M338.7 619.1h0M334.2 632.9h0M330.4 626.4h0M339.0 624.2h0M337.3 620.7h0M336.9 621.1h0M335.1 622.4h0M336.0 627.2h0M334.1 625.6h0M340.1 642.4h0M340.2 630.1h0M335.9 628.2h0M336.1 625.5h0M336.9 619.8h0M338.8 619.7h0M336.7 629.1h0M334.7 614.0h0M335.3 639.3h0M336.9 638.9h0M335.6 614.3h0"/>
<path stroke-opacity=".62" d="M375.3 655.0h0M374.3 651.9h0M374.5 646.9h0M370.4 656.7h0M379.2 655.3h0M357.0 652.9h0M360.2 660.9h0M369.8 653.1h0M364.8 658.3h0M351.4 651.6h0M371.8 640.5h0M373.6 647.5h0M362.4 641.1h0M367.8 651.2h0M373.0 656.9h0M345.3 645.3h0M359.3 655.1h0M356.5 651.1h0M363.0 655.8h0M353.1 653.7h0M352.8 648.2h0M366.3 654.5h0M380.9 652.0h0M353.2 655.8h0M378.9 660.0h0M373.0 651.4h0M373.4 658.8h0M376.3 651.8h0M360.6 654.7h0M374.5 653.0h0M350.7 649.5h0M357.2 652.7h0M367.4 650.4h0M371.4 654.5h0M351.9 648.0h0M347.2 648.3h0M368.1 655.7h0M367.0 654.4h0"/>
<path stroke-opacity=".62" d="M366.5 613.7h0M366.5 620.8h0M368.4 627.0h0M366.1 622.6h0M367.9 635.0h0M361.1 627.2h0M366.3 625.4h0M361.3 623.2h0"/>
</g>
<rect x="323.4" y="583.4" width="87.6" height="81.7" fill="none" stroke="#868686" stroke-width="1"/>
<path d="M345.5 583.4V665.1M323.4 644.6H411.0" stroke="#868686" stroke-width="1" fill="none"/>
<path d="M320.8 582.5h1.6M322.8 666.8h1.8M320.8 602.9h1.6M344.7 666.8h1.8M320.8 623.4h1.6M366.6 666.8h1.8M320.8 643.8h1.6M388.5 666.8h1.8M320.8 664.2h1.6M410.4 666.8h1.8" stroke="#a8a8a8" stroke-width="1.8" fill="none"/>
<path d="M26.8 233.0V158.4" stroke="#000" stroke-width="1.9" fill="none"/>
<path d="M26.8 153.8l3.9 5.6h-7.8z" fill="#000"/>
<path d="M39.0 245.6H122.9" stroke="#000" stroke-width="1.9" fill="none"/>
<path d="M127.5 245.6l-5.6 -3.9v7.8z" fill="#000"/>
<text class="s sv" transform="translate(17.8 268.0) rotate(-90)" font-size="18.55" textLength="107.0" lengthAdjust="spacingAndGlyphs" fill="#000">CD4 PECy5</text>
<text class="s" x="29.0" y="267.2" font-size="18.55" textLength="44.8" lengthAdjust="spacingAndGlyphs" fill="#000">IFN-<tspan class="gm">γ</tspan></text>
<text class="s" x="85.3" y="267.2" font-size="18.55" textLength="41.7" lengthAdjust="spacingAndGlyphs" fill="#000">FITC</text>
<text class="s" x="54.9" y="143.7" font-size="18.26" textLength="53.5" lengthAdjust="spacingAndGlyphs" fill="#000">RAPB</text>
<text class="f" x="103.0" y="165.3" font-size="6.62" textLength="18.0" lengthAdjust="spacingAndGlyphs" fill="#111">8.33%</text>
<text class="s" x="39.6" y="191.5" font-size="15.36" textLength="18.6" lengthAdjust="spacingAndGlyphs" fill="#000">R2</text>
<path d="M166.9 233.0V157.4" stroke="#000" stroke-width="1.9" fill="none"/>
<path d="M166.9 152.8l3.9 5.6h-7.8z" fill="#000"/>
<path d="M180.6 245.4H264.2" stroke="#000" stroke-width="1.9" fill="none"/>
<path d="M268.8 245.4l-5.6 -3.9v7.8z" fill="#000"/>
<text class="s sv" transform="translate(153.8 268.0) rotate(-90)" font-size="18.55" textLength="106.4" lengthAdjust="spacingAndGlyphs" fill="#000">CD4 PECy5</text>
<text class="s" x="170.0" y="267.2" font-size="18.55" textLength="44.8" lengthAdjust="spacingAndGlyphs" fill="#000">IFN-<tspan class="gm">γ</tspan></text>
<text class="s" x="226.3" y="267.2" font-size="18.55" textLength="41.7" lengthAdjust="spacingAndGlyphs" fill="#000">FITC</text>
<text class="s" x="194.9" y="143.7" font-size="18.26" textLength="56.1" lengthAdjust="spacingAndGlyphs" fill="#000">OAPB</text>
<text class="f" x="248.6" y="164.3" font-size="6.62" textLength="14.4" lengthAdjust="spacingAndGlyphs" fill="#111">5.8%</text>
<text class="s" x="181.6" y="185.6" font-size="15.36" textLength="19.2" lengthAdjust="spacingAndGlyphs" fill="#000">R2</text>
<path d="M310.4 233.0V157.7" stroke="#000" stroke-width="1.9" fill="none"/>
<path d="M310.4 153.1l3.9 5.6h-7.8z" fill="#000"/>
<path d="M324.0 245.6H407.2" stroke="#000" stroke-width="1.9" fill="none"/>
<path d="M411.8 245.6l-5.6 -3.9v7.8z" fill="#000"/>
<text class="s sv" transform="translate(297.4 268.0) rotate(-90)" font-size="18.55" textLength="106.4" lengthAdjust="spacingAndGlyphs" fill="#000">CD4 PECy5</text>
<text class="s" x="314.6" y="267.2" font-size="18.55" textLength="42.6" lengthAdjust="spacingAndGlyphs" fill="#000">IFN-<tspan class="gm">γ</tspan></text>
<text class="s" x="368.0" y="267.2" font-size="18.55" textLength="39.6" lengthAdjust="spacingAndGlyphs" fill="#000">FITC</text>
<text class="s" x="339.9" y="143.7" font-size="18.26" textLength="56.5" lengthAdjust="spacingAndGlyphs" fill="#000">HCPB</text>
<text class="f" x="393.0" y="164.3" font-size="6.62" textLength="14.6" lengthAdjust="spacingAndGlyphs" fill="#111">6.9%</text>
<text class="s" x="324.6" y="185.6" font-size="15.36" textLength="18.6" lengthAdjust="spacingAndGlyphs" fill="#000">R2</text>
<path d="M27.5 377.0V301.7" stroke="#000" stroke-width="1.9" fill="none"/>
<path d="M27.5 297.1l3.9 5.6h-7.8z" fill="#000"/>
<path d="M39.4 388.0H123.0" stroke="#000" stroke-width="1.9" fill="none"/>
<path d="M127.6 388.0l-5.6 -3.9v7.8z" fill="#000"/>
<text class="s sv" transform="translate(19.6 398.0) rotate(-90)" font-size="18.84" textLength="87.0" lengthAdjust="spacingAndGlyphs" fill="#000">IL-22 APC</text>
<text class="s" x="40.8" y="408.8" font-size="18.55" textLength="75.7" lengthAdjust="spacingAndGlyphs" fill="#000">IL-17 PE</text>
<text class="s" x="54.9" y="292.7" font-size="18.26" textLength="53.5" lengthAdjust="spacingAndGlyphs" fill="#000">RAPB</text>
<text class="f" x="42.0" y="303.6" font-size="7.6" textLength="16.7" lengthAdjust="spacingAndGlyphs" fill="#111">Th22</text>
<text class="f" x="42.0" y="311.7" font-size="7.0" textLength="20.6" lengthAdjust="spacingAndGlyphs" fill="#111">2.18%</text>
<text class="f" x="107.0" y="374.9" font-size="6.62" textLength="18.6" lengthAdjust="spacingAndGlyphs" fill="#111">2.18%</text>
<path d="M168.8 376.6V300.4" stroke="#000" stroke-width="1.9" fill="none"/>
<path d="M168.8 295.8l3.9 5.6h-7.8z" fill="#000"/>
<path d="M181.4 388.0H264.2" stroke="#000" stroke-width="1.9" fill="none"/>
<path d="M268.8 388.0l-5.6 -3.9v7.8z" fill="#000"/>
<text class="s sv" transform="translate(154.6 398.0) rotate(-90)" font-size="18.84" textLength="87.0" lengthAdjust="spacingAndGlyphs" fill="#000">IL-22 APC</text>
<text class="s" x="181.8" y="408.8" font-size="18.55" textLength="74.7" lengthAdjust="spacingAndGlyphs" fill="#000">IL-17 PE</text>
<text class="s" x="194.9" y="292.7" font-size="18.26" textLength="56.1" lengthAdjust="spacingAndGlyphs" fill="#000">OAPB</text>
<text class="f" x="183.6" y="302.5" font-size="7.6" textLength="16.7" lengthAdjust="spacingAndGlyphs" fill="#111">Th22</text>
<text class="f" x="183.6" y="309.9" font-size="7.0" textLength="20.6" lengthAdjust="spacingAndGlyphs" fill="#111">0.85%</text>
<text class="f" x="251.0" y="374.5" font-size="6.62" textLength="14.6" lengthAdjust="spacingAndGlyphs" fill="#111">1.1%</text>
<path d="M310.4 377.0V300.6" stroke="#000" stroke-width="1.9" fill="none"/>
<path d="M310.4 296.0l3.9 5.6h-7.8z" fill="#000"/>
<path d="M323.6 387.6H407.4" stroke="#000" stroke-width="1.9" fill="none"/>
<path d="M412.0 387.6l-5.6 -3.9v7.8z" fill="#000"/>
<text class="s sv" transform="translate(299.0 398.0) rotate(-90)" font-size="18.84" textLength="87.0" lengthAdjust="spacingAndGlyphs" fill="#000">IL-22 APC</text>
<text class="s" x="325.8" y="408.8" font-size="18.55" textLength="74.7" lengthAdjust="spacingAndGlyphs" fill="#000">IL-17 PE</text>
<text class="s" x="342.5" y="292.7" font-size="18.26" textLength="53.5" lengthAdjust="spacingAndGlyphs" fill="#000">HCPB</text>
<text class="f" x="326.0" y="302.5" font-size="7.6" textLength="16.7" lengthAdjust="spacingAndGlyphs" fill="#111">Th22</text>
<text class="f" x="326.0" y="309.9" font-size="7.0" textLength="16.9" lengthAdjust="spacingAndGlyphs" fill="#111">0.8%</text>
<text class="f" x="390.0" y="374.5" font-size="6.62" textLength="18.4" lengthAdjust="spacingAndGlyphs" fill="#111">0.91%</text>
<path d="M25.6 519.0V443.6" stroke="#000" stroke-width="1.9" fill="none"/>
<path d="M25.6 439.0l3.9 5.6h-7.8z" fill="#000"/>
<path d="M39.6 531.0H123.2" stroke="#000" stroke-width="1.9" fill="none"/>
<path d="M127.8 531.0l-5.6 -3.9v7.8z" fill="#000"/>
<text class="s sv" transform="translate(18.0 548.0) rotate(-90)" font-size="18.55" textLength="107.0" lengthAdjust="spacingAndGlyphs" fill="#000">CD4 PECy5</text>
<text class="s" x="29.0" y="552.4" font-size="18.55" textLength="44.8" lengthAdjust="spacingAndGlyphs" fill="#000">IFN-<tspan class="gm">γ</tspan></text>
<text class="s" x="85.3" y="552.4" font-size="18.55" textLength="41.7" lengthAdjust="spacingAndGlyphs" fill="#000">FITC</text>
<text class="s" x="54.9" y="436.1" font-size="18.26" textLength="56.1" lengthAdjust="spacingAndGlyphs" fill="#000">RABM</text>
<text class="f" x="105.0" y="451.7" font-size="6.62" textLength="18.4" lengthAdjust="spacingAndGlyphs" fill="#111">14.2%</text>
<text class="s" x="41.4" y="469.8" font-size="15.36" textLength="19.6" lengthAdjust="spacingAndGlyphs" fill="#000">R2</text>
<path d="M170.6 518.0V443.6" stroke="#000" stroke-width="1.9" fill="none"/>
<path d="M170.6 439.0l3.9 5.6h-7.8z" fill="#000"/>
<path d="M183.0 530.4H266.2" stroke="#000" stroke-width="1.9" fill="none"/>
<path d="M270.8 530.4l-5.6 -3.9v7.8z" fill="#000"/>
<text class="s sv" transform="translate(154.4 547.0) rotate(-90)" font-size="18.55" textLength="107.0" lengthAdjust="spacingAndGlyphs" fill="#000">CD4 PECy5</text>
<text class="s" x="170.0" y="552.4" font-size="18.55" textLength="45.7" lengthAdjust="spacingAndGlyphs" fill="#000">IFN-<tspan class="gm">γ</tspan></text>
<text class="s" x="227.4" y="552.4" font-size="18.55" textLength="42.6" lengthAdjust="spacingAndGlyphs" fill="#000">FITC</text>
<text class="s" x="191.9" y="436.1" font-size="18.26" textLength="59.1" lengthAdjust="spacingAndGlyphs" fill="#000">OABM</text>
<text class="f" x="253.6" y="449.9" font-size="6.62" textLength="14.4" lengthAdjust="spacingAndGlyphs" fill="#111">6.9%</text>
<text class="s" x="184.2" y="469.8" font-size="15.36" textLength="20.0" lengthAdjust="spacingAndGlyphs" fill="#000">R2</text>
<path d="M310.6 518.0V443.6" stroke="#000" stroke-width="1.9" fill="none"/>
<path d="M310.6 439.0l3.9 5.6h-7.8z" fill="#000"/>
<path d="M325.0 530.0H407.8" stroke="#000" stroke-width="1.9" fill="none"/>
<path d="M412.4 530.0l-5.6 -3.9v7.8z" fill="#000"/>
<text class="s sv" transform="translate(295.8 545.0) rotate(-90)" font-size="18.55" textLength="105.0" lengthAdjust="spacingAndGlyphs" fill="#000">CD4 PECy5</text>
<text class="s" x="313.0" y="552.4" font-size="18.55" textLength="44.4" lengthAdjust="spacingAndGlyphs" fill="#000">IFN-<tspan class="gm">γ</tspan></text>
<text class="s" x="368.7" y="552.4" font-size="18.55" textLength="41.3" lengthAdjust="spacingAndGlyphs" fill="#000">FITC</text>
<text class="s" x="338.5" y="436.1" font-size="18.26" textLength="55.9" lengthAdjust="spacingAndGlyphs" fill="#000">HCBM</text>
<text class="f" x="393.0" y="450.3" font-size="6.62" textLength="15.6" lengthAdjust="spacingAndGlyphs" fill="#111">8.6%</text>
<text class="s" x="324.0" y="469.6" font-size="15.36" textLength="19.6" lengthAdjust="spacingAndGlyphs" fill="#000">R2</text>
<path d="M28.0 665.0V589.2" stroke="#000" stroke-width="1.9" fill="none"/>
<path d="M28.0 584.6l3.9 5.6h-7.8z" fill="#000"/>
<path d="M41.6 678.4H124.6" stroke="#000" stroke-width="1.9" fill="none"/>
<path d="M129.2 678.4l-5.6 -3.9v7.8z" fill="#000"/>
<text class="s sv" transform="translate(18.6 675.0) rotate(-90)" font-size="18.84" textLength="87.0" lengthAdjust="spacingAndGlyphs" fill="#000">IL-22 APC</text>
<text class="s" x="41.2" y="700.2" font-size="18.55" textLength="75.3" lengthAdjust="spacingAndGlyphs" fill="#000">IL-17 PE</text>
<text class="s" x="54.9" y="576.7" font-size="18.26" textLength="56.1" lengthAdjust="spacingAndGlyphs" fill="#000">RABM</text>
<text class="f" x="44.6" y="590.8" font-size="7.6" textLength="16.7" lengthAdjust="spacingAndGlyphs" fill="#111">Th22</text>
<text class="f" x="44.6" y="598.8" font-size="7.0" textLength="20.6" lengthAdjust="spacingAndGlyphs" fill="#111">2.88%</text>
<text class="f" x="110.6" y="662.9" font-size="6.62" textLength="18.4" lengthAdjust="spacingAndGlyphs" fill="#111">3.79%</text>
<path d="M170.0 663.0V588.6" stroke="#000" stroke-width="1.9" fill="none"/>
<path d="M170.0 584.0l3.9 5.6h-7.8z" fill="#000"/>
<path d="M184.0 677.4H267.6" stroke="#000" stroke-width="1.9" fill="none"/>
<path d="M272.2 677.4l-5.6 -3.9v7.8z" fill="#000"/>
<text class="s sv" transform="translate(154.6 675.0) rotate(-90)" font-size="18.84" textLength="87.0" lengthAdjust="spacingAndGlyphs" fill="#000">IL-22 APC</text>
<text class="s" x="181.8" y="700.2" font-size="18.55" textLength="74.7" lengthAdjust="spacingAndGlyphs" fill="#000">IL-17 PE</text>
<text class="s" x="192.3" y="576.7" font-size="18.26" textLength="58.7" lengthAdjust="spacingAndGlyphs" fill="#000">OABM</text>
<text class="f" x="186.0" y="590.8" font-size="7.6" textLength="16.7" lengthAdjust="spacingAndGlyphs" fill="#111">Th22</text>
<text class="f" x="186.0" y="598.8" font-size="7.0" textLength="20.6" lengthAdjust="spacingAndGlyphs" fill="#111">0.52%</text>
<text class="f" x="252.0" y="662.5" font-size="6.62" textLength="18.4" lengthAdjust="spacingAndGlyphs" fill="#111">0.99%</text>
<path d="M308.6 665.0V589.6" stroke="#000" stroke-width="1.9" fill="none"/>
<path d="M308.6 585.0l3.9 5.6h-7.8z" fill="#000"/>
<path d="M324.0 678.6H407.6" stroke="#000" stroke-width="1.9" fill="none"/>
<path d="M412.2 678.6l-5.6 -3.9v7.8z" fill="#000"/>
<text class="s sv" transform="translate(296.6 675.0) rotate(-90)" font-size="18.84" textLength="87.0" lengthAdjust="spacingAndGlyphs" fill="#000">IL-22 APC</text>
<text class="s" x="328.8" y="700.2" font-size="18.55" textLength="75.7" lengthAdjust="spacingAndGlyphs" fill="#000">IL-17 PE</text>
<text class="s" x="338.5" y="578.1" font-size="18.26" textLength="55.9" lengthAdjust="spacingAndGlyphs" fill="#000">HCBM</text>
<text class="f" x="325.6" y="590.8" font-size="7.6" textLength="16.7" lengthAdjust="spacingAndGlyphs" fill="#111">Th22</text>
<text class="f" x="325.6" y="598.8" font-size="7.0" textLength="20.6" lengthAdjust="spacingAndGlyphs" fill="#111">0.86%</text>
<text class="f" x="391.6" y="663.7" font-size="6.62" textLength="18.0" lengthAdjust="spacingAndGlyphs" fill="#111">1.26%</text>
<path d="M514.7 31.0V23.4H640.0V31.0" stroke="#000" stroke-width="4.0" stroke-linecap="round" stroke-linejoin="round" fill="none"/>
<path d="M514.7 53.6V46.2H575.8V53.6" stroke="#000" stroke-width="4.0" stroke-linecap="round" stroke-linejoin="round" fill="none"/>
<text class="st" x="572.3" y="24.9" font-size="32">*</text>
<text class="st" x="540.3" y="50.5" font-size="32">*</text>
<path d="M485.0 73.5V209.9H670.5" stroke="#000" stroke-width="1.7" stroke-linejoin="miter" fill="none"/>
<path d="M480.6 209.9H485.0M480.6 182.8H485.0M480.6 155.6H485.0M480.6 128.5H485.0M480.6 101.3H485.0M480.6 74.2H485.0M516.4 209.9v4.6M577.4 209.9v4.6M639.4 209.9v4.6" stroke="#000" stroke-width="1.6" fill="none"/>
<text class="s" x="469.4" y="215.4" font-size="16.09" textLength="9.4" lengthAdjust="spacingAndGlyphs" fill="#000">0</text>
<text class="s" x="469.4" y="188.2" font-size="16.09" textLength="9.4" lengthAdjust="spacingAndGlyphs" fill="#000">1</text>
<text class="s" x="469.4" y="161.1" font-size="16.09" textLength="9.4" lengthAdjust="spacingAndGlyphs" fill="#000">2</text>
<text class="s" x="469.4" y="134.0" font-size="16.09" textLength="9.4" lengthAdjust="spacingAndGlyphs" fill="#000">3</text>
<text class="s" x="469.4" y="106.8" font-size="16.09" textLength="9.4" lengthAdjust="spacingAndGlyphs" fill="#000">4</text>
<text class="s" x="469.4" y="79.7" font-size="16.09" textLength="9.4" lengthAdjust="spacingAndGlyphs" fill="#000">5</text>
<text class="s" x="490.4" y="230.0" font-size="15.65" textLength="48.0" lengthAdjust="spacingAndGlyphs" fill="#000">RAPB</text>
<text class="s" x="552.0" y="230.0" font-size="15.65" textLength="48.8" lengthAdjust="spacingAndGlyphs" fill="#000">OAPB</text>
<text class="s" x="612.0" y="230.0" font-size="15.65" textLength="48.5" lengthAdjust="spacingAndGlyphs" fill="#000">HCPB</text>
<text class="s sv" transform="translate(458.4 203.6) rotate(-90)" font-size="18.70" textLength="92.1" lengthAdjust="spacingAndGlyphs" fill="#000">Th22 cells</text>
<text class="s sv" transform="translate(458.4 107.4) rotate(-90)" font-size="18.70" textLength="26.6" lengthAdjust="spacing" fill="#000">(%)</text>
<g fill="#000"><circle cx="516.4" cy="90.6" r="2.9"/><circle cx="516.4" cy="122.6" r="2.9"/><circle cx="516.4" cy="135.6" r="2.9"/><circle cx="523.6" cy="147.0" r="2.9"/><circle cx="509.0" cy="151.0" r="2.9"/><circle cx="519.0" cy="152.4" r="2.9"/><circle cx="501.6" cy="155.0" r="2.9"/><circle cx="531.4" cy="157.4" r="2.9"/><circle cx="509.0" cy="159.0" r="2.9"/><circle cx="524.0" cy="159.0" r="2.9"/><circle cx="505.6" cy="162.4" r="2.9"/><circle cx="513.0" cy="164.0" r="2.9"/><circle cx="520.0" cy="163.0" r="2.9"/><circle cx="531.4" cy="166.0" r="2.9"/><circle cx="501.6" cy="167.0" r="2.9"/><circle cx="509.0" cy="169.6" r="2.9"/><circle cx="516.4" cy="169.0" r="2.9"/><circle cx="528.0" cy="169.6" r="2.9"/><circle cx="524.0" cy="172.0" r="2.9"/><circle cx="501.6" cy="174.4" r="2.9"/><circle cx="513.0" cy="174.0" r="2.9"/><circle cx="531.4" cy="174.4" r="2.9"/><circle cx="520.0" cy="175.4" r="2.9"/><circle cx="505.6" cy="179.4" r="2.9"/><circle cx="516.4" cy="180.0" r="2.9"/><circle cx="528.0" cy="178.0" r="2.9"/><circle cx="501.6" cy="183.0" r="2.9"/><circle cx="513.0" cy="181.6" r="2.9"/><circle cx="520.0" cy="181.0" r="2.9"/><circle cx="531.4" cy="181.6" r="2.9"/><circle cx="509.0" cy="185.0" r="2.9"/><circle cx="524.0" cy="185.0" r="2.9"/><circle cx="516.4" cy="186.0" r="2.9"/><circle cx="531.4" cy="188.0" r="2.9"/><circle cx="509.0" cy="192.0" r="2.9"/><circle cx="524.0" cy="193.6" r="2.9"/><circle cx="516.4" cy="195.0" r="2.9"/></g>
<path d="M495.9 167.0H536.9M503.9 147.0H528.9M503.9 187.4H528.9M516.4 147.0V187.4" stroke="#000" stroke-width="1.6" fill="none"/>
<g fill="#000"><rect x="560.6" y="180.8" width="5.4" height="5.4"/><rect x="567.3" y="178.5" width="5.4" height="5.4"/><rect x="573.1" y="178.1" width="5.4" height="5.4"/><rect x="578.9" y="177.5" width="5.4" height="5.4"/><rect x="585.1" y="178.5" width="5.4" height="5.4"/><rect x="591.3" y="180.3" width="5.4" height="5.4"/><rect x="567.3" y="183.3" width="5.4" height="5.4"/><rect x="576.6" y="184.3" width="5.4" height="5.4"/><rect x="588.3" y="182.0" width="5.4" height="5.4"/><rect x="576.6" y="187.3" width="5.4" height="5.4"/><rect x="582.8" y="192.0" width="5.4" height="5.4"/><rect x="575.1" y="195.8" width="5.4" height="5.4"/></g>
<path d="M557.6 186.4H599.0M567.3 180.2H589.3M567.3 193.3H589.3M578.3 180.2V193.3" stroke="#000" stroke-width="1.6" fill="none"/>
<g fill="#000"><path d="M639.4 176.9l3.4 6.5h-6.8z"/><path d="M626.0 185.1l3.4 6.5h-6.8z"/><path d="M632.7 185.1l3.4 6.5h-6.8z"/><path d="M646.0 185.1l3.4 6.5h-6.8z"/><path d="M654.0 185.1l3.4 6.5h-6.8z"/><path d="M639.4 190.4l3.4 6.5h-6.8z"/><path d="M634.6 181.1l3.4 6.5h-6.8z"/><path d="M644.0 181.1l3.4 6.5h-6.8z"/></g>
<path d="M619.0 187.5H660.0M628.0 184.7H651.0M628.0 190.8H651.0M639.5 184.7V190.8" stroke="#000" stroke-width="1.6" fill="none"/>
<path d="M514.7 272.6V264.6H640.3V272.6" stroke="#000" stroke-width="4.0" stroke-linecap="round" stroke-linejoin="round" fill="none"/>
<path d="M514.7 294.8V286.7H575.8V294.8" stroke="#000" stroke-width="4.0" stroke-linecap="round" stroke-linejoin="round" fill="none"/>
<text class="st" x="572.3" y="267.8" font-size="32">*</text>
<text class="st" x="540.3" y="291.9" font-size="32">*</text>
<path d="M486.0 317.8V454.0H671.0" stroke="#000" stroke-width="1.7" stroke-linejoin="miter" fill="none"/>
<path d="M481.6 454.0H486.0M481.6 420.1H486.0M481.6 386.2H486.0M481.6 352.3H486.0M481.6 318.4H486.0M517.6 454.0v4.6M578.7 454.0v4.6M640.8 454.0v4.6" stroke="#000" stroke-width="1.6" fill="none"/>
<text class="s" x="470.4" y="459.5" font-size="16.09" textLength="9.4" lengthAdjust="spacingAndGlyphs" fill="#000">0</text>
<text class="s" x="470.4" y="425.6" font-size="16.09" textLength="9.4" lengthAdjust="spacingAndGlyphs" fill="#000">2</text>
<text class="s" x="470.4" y="391.7" font-size="16.09" textLength="9.4" lengthAdjust="spacingAndGlyphs" fill="#000">4</text>
<text class="s" x="470.4" y="357.8" font-size="16.09" textLength="9.4" lengthAdjust="spacingAndGlyphs" fill="#000">6</text>
<text class="s" x="470.4" y="323.9" font-size="16.09" textLength="9.4" lengthAdjust="spacingAndGlyphs" fill="#000">8</text>
<text class="s" x="491.0" y="474.0" font-size="15.65" textLength="50.8" lengthAdjust="spacingAndGlyphs" fill="#000">RABM</text>
<text class="s" x="552.0" y="474.0" font-size="15.65" textLength="51.0" lengthAdjust="spacingAndGlyphs" fill="#000">OABM</text>
<text class="s" x="614.2" y="474.0" font-size="15.65" textLength="50.8" lengthAdjust="spacingAndGlyphs" fill="#000">HCBM</text>
<text class="s sv" transform="translate(458.4 451.0) rotate(-90)" font-size="18.70" textLength="92.5" lengthAdjust="spacingAndGlyphs" fill="#000">Th22 cells</text>
<text class="s sv" transform="translate(458.4 352.4) rotate(-90)" font-size="18.70" textLength="28.6" lengthAdjust="spacing" fill="#000">(%)</text>
<g fill="#000"><circle cx="525.0" cy="357.4" r="2.9"/><circle cx="517.6" cy="364.0" r="2.9"/><circle cx="517.6" cy="375.0" r="2.9"/><circle cx="525.0" cy="381.0" r="2.9"/><circle cx="517.6" cy="387.0" r="2.9"/><circle cx="510.0" cy="394.4" r="2.9"/><circle cx="517.6" cy="396.0" r="2.9"/><circle cx="525.0" cy="394.4" r="2.9"/><circle cx="502.6" cy="401.0" r="2.9"/><circle cx="510.0" cy="402.4" r="2.9"/><circle cx="521.4" cy="400.0" r="2.9"/><circle cx="525.0" cy="404.0" r="2.9"/><circle cx="532.4" cy="401.6" r="2.9"/><circle cx="517.6" cy="405.6" r="2.9"/><circle cx="506.4" cy="408.4" r="2.9"/><circle cx="521.4" cy="409.4" r="2.9"/><circle cx="502.6" cy="412.4" r="2.9"/><circle cx="510.0" cy="413.0" r="2.9"/><circle cx="514.0" cy="414.0" r="2.9"/><circle cx="532.4" cy="411.0" r="2.9"/><circle cx="517.6" cy="415.0" r="2.9"/><circle cx="506.4" cy="418.0" r="2.9"/><circle cx="521.4" cy="419.0" r="2.9"/><circle cx="529.0" cy="419.0" r="2.9"/><circle cx="502.6" cy="421.0" r="2.9"/><circle cx="510.0" cy="423.6" r="2.9"/><circle cx="517.6" cy="424.0" r="2.9"/><circle cx="525.0" cy="423.6" r="2.9"/><circle cx="532.4" cy="423.6" r="2.9"/><circle cx="502.6" cy="430.0" r="2.9"/><circle cx="514.0" cy="429.0" r="2.9"/><circle cx="510.0" cy="431.0" r="2.9"/><circle cx="525.0" cy="431.0" r="2.9"/><circle cx="532.4" cy="429.6" r="2.9"/><circle cx="517.6" cy="434.0" r="2.9"/><circle cx="510.0" cy="436.0" r="2.9"/><circle cx="517.6" cy="442.4" r="2.9"/><circle cx="525.0" cy="442.0" r="2.9"/></g>
<path d="M497.1 411.4H538.1M505.1 391.4H530.1M505.1 430.0H530.1M517.6 391.4V430.0" stroke="#000" stroke-width="1.6" fill="none"/>
<g fill="#000"><rect x="561.4" y="435.4" width="5.2" height="5.2"/><rect x="566.4" y="433.9" width="5.2" height="5.2"/><rect x="571.4" y="433.4" width="5.2" height="5.2"/><rect x="576.4" y="433.0" width="5.2" height="5.2"/><rect x="581.4" y="433.4" width="5.2" height="5.2"/><rect x="586.4" y="433.9" width="5.2" height="5.2"/><rect x="591.4" y="435.4" width="5.2" height="5.2"/><rect x="568.4" y="438.4" width="5.2" height="5.2"/><rect x="574.4" y="439.4" width="5.2" height="5.2"/><rect x="580.4" y="439.4" width="5.2" height="5.2"/><rect x="587.4" y="438.4" width="5.2" height="5.2"/><rect x="576.4" y="442.4" width="5.2" height="5.2"/></g>
<path d="M558.4 439.9H600.0M570.2 437.0H588.2M570.2 443.0H588.2M579.2 437.0V443.0" stroke="#000" stroke-width="1.6" fill="none"/>
<g fill="#000"><path d="M628.0 435.5l3.1 5.9h-6.2z"/><path d="M633.0 434.5l3.1 5.9h-6.2z"/><path d="M638.0 433.3l3.1 5.9h-6.2z"/><path d="M643.0 434.5l3.1 5.9h-6.2z"/><path d="M648.0 435.0l3.1 5.9h-6.2z"/><path d="M653.0 435.5l3.1 5.9h-6.2z"/><path d="M636.0 438.0l3.1 5.9h-6.2z"/><path d="M646.0 438.0l3.1 5.9h-6.2z"/><path d="M640.8 440.0l3.1 5.9h-6.2z"/><path d="M647.0 440.5l3.1 5.9h-6.2z"/></g>
<path d="M620.1 440.3H661.5M631.8 438.0H649.8M631.8 442.6H649.8M640.8 438.0V442.6" stroke="#000" stroke-width="1.6" fill="none"/>
<path d="M531.3 510.8V501.8H625.5V510.8" stroke="#000" stroke-width="4.0" stroke-linecap="round" stroke-linejoin="round" fill="none"/>
<text class="st" x="572.3" y="508.7" font-size="32">*</text>
<path d="M486.0 539.4V676.7H671.0" stroke="#000" stroke-width="1.7" stroke-linejoin="miter" fill="none"/>
<path d="M481.6 676.7H486.0M481.6 642.5H486.0M481.6 608.3H486.0M481.6 574.2H486.0M481.6 540.0H486.0M533.0 676.7v4.6M625.7 676.7v4.6" stroke="#000" stroke-width="1.6" fill="none"/>
<text class="s" x="470.4" y="682.2" font-size="16.09" textLength="9.4" lengthAdjust="spacingAndGlyphs" fill="#000">0</text>
<text class="s" x="470.4" y="648.0" font-size="16.09" textLength="9.4" lengthAdjust="spacingAndGlyphs" fill="#000">2</text>
<text class="s" x="470.4" y="613.8" font-size="16.09" textLength="9.4" lengthAdjust="spacingAndGlyphs" fill="#000">4</text>
<text class="s" x="470.4" y="579.7" font-size="16.09" textLength="9.4" lengthAdjust="spacingAndGlyphs" fill="#000">6</text>
<text class="s" x="470.4" y="545.5" font-size="16.09" textLength="9.4" lengthAdjust="spacingAndGlyphs" fill="#000">8</text>
<text class="s" x="509.0" y="696.4" font-size="15.65" textLength="46.2" lengthAdjust="spacingAndGlyphs" fill="#000">RAPB</text>
<text class="s" x="600.6" y="696.4" font-size="15.65" textLength="48.4" lengthAdjust="spacingAndGlyphs" fill="#000">RABM</text>
<text class="s sv" transform="translate(458.4 675.0) rotate(-90)" font-size="18.70" textLength="91.6" lengthAdjust="spacingAndGlyphs" fill="#000">Th22 cells</text>
<text class="s sv" transform="translate(458.4 577.6) rotate(-90)" font-size="18.70" textLength="32.0" lengthAdjust="spacing" fill="#000">(%)</text>
<path d="M533 601.5L625.7 616.9M533 622.0L625.7 597.2M533 629.7L625.7 603.2M533 644.2L625.7 579.3M533 638.2L625.7 586.1M533 641.7L625.7 608.3M533 667.3L625.7 665.1M533 666.3L625.7 664.9M533 665.4L625.7 653.6M533 664.4L625.7 659.6M533 663.4L625.7 638.4M533 662.5L625.7 647.0M533 661.5L625.7 652.1M533 660.5L625.7 653.1M533 659.6L625.7 637.6M533 658.6L625.7 628.2M533 657.7L625.7 639.8M533 656.7L625.7 652.9M533 655.7L625.7 649.2M533 654.8L625.7 624.1M533 653.8L625.7 636.0M533 652.8L625.7 653.1M533 651.9L625.7 636.5M533 650.9L625.7 645.6M533 649.9L625.7 639.4M533 649.0L625.7 637.1M533 648.0L625.7 638.1M533 647.0L625.7 624.9M533 646.1L625.7 629.7M533 645.1L625.7 633.5M533 644.2L625.7 623.0M533 643.2L625.7 617.9M533 642.2L625.7 640.1M533 641.3L625.7 625.9M533 640.3L625.7 631.6M533 639.3L625.7 623.0M533 638.4L625.7 632.3M533 637.4L625.7 618.9" stroke="#000" stroke-width="1.05" fill="none"/>
<g fill="#000"><circle cx="533.0" cy="601.5" r="2.5"/><circle cx="625.7" cy="616.9" r="2.5"/><circle cx="533.0" cy="622.0" r="2.5"/><circle cx="625.7" cy="597.2" r="2.5"/><circle cx="533.0" cy="629.7" r="2.5"/><circle cx="625.7" cy="603.2" r="2.5"/><circle cx="533.0" cy="644.2" r="2.5"/><circle cx="625.7" cy="579.3" r="2.5"/><circle cx="533.0" cy="638.2" r="2.5"/><circle cx="625.7" cy="586.1" r="2.5"/><circle cx="533.0" cy="641.7" r="2.5"/><circle cx="625.7" cy="608.3" r="2.5"/><circle cx="533.0" cy="667.3" r="2.5"/><circle cx="625.7" cy="665.1" r="2.5"/><circle cx="533.0" cy="666.3" r="2.5"/><circle cx="625.7" cy="664.9" r="2.5"/><circle cx="533.0" cy="665.4" r="2.5"/><circle cx="625.7" cy="653.6" r="2.5"/><circle cx="533.0" cy="664.4" r="2.5"/><circle cx="625.7" cy="659.6" r="2.5"/><circle cx="533.0" cy="663.4" r="2.5"/><circle cx="625.7" cy="638.4" r="2.5"/><circle cx="533.0" cy="662.5" r="2.5"/><circle cx="625.7" cy="647.0" r="2.5"/><circle cx="533.0" cy="661.5" r="2.5"/><circle cx="625.7" cy="652.1" r="2.5"/><circle cx="533.0" cy="660.5" r="2.5"/><circle cx="625.7" cy="653.1" r="2.5"/><circle cx="533.0" cy="659.6" r="2.5"/><circle cx="625.7" cy="637.6" r="2.5"/><circle cx="533.0" cy="658.6" r="2.5"/><circle cx="625.7" cy="628.2" r="2.5"/><circle cx="533.0" cy="657.7" r="2.5"/><circle cx="625.7" cy="639.8" r="2.5"/><circle cx="533.0" cy="656.7" r="2.5"/><circle cx="625.7" cy="652.9" r="2.5"/><circle cx="533.0" cy="655.7" r="2.5"/><circle cx="625.7" cy="649.2" r="2.5"/><circle cx="533.0" cy="654.8" r="2.5"/><circle cx="625.7" cy="624.1" r="2.5"/><circle cx="533.0" cy="653.8" r="2.5"/><circle cx="625.7" cy="636.0" r="2.5"/><circle cx="533.0" cy="652.8" r="2.5"/><circle cx="625.7" cy="653.1" r="2.5"/><circle cx="533.0" cy="651.9" r="2.5"/><circle cx="625.7" cy="636.5" r="2.5"/><circle cx="533.0" cy="650.9" r="2.5"/><circle cx="625.7" cy="645.6" r="2.5"/><circle cx="533.0" cy="649.9" r="2.5"/><circle cx="625.7" cy="639.4" r="2.5"/><circle cx="533.0" cy="649.0" r="2.5"/><circle cx="625.7" cy="637.1" r="2.5"/><circle cx="533.0" cy="648.0" r="2.5"/><circle cx="625.7" cy="638.1" r="2.5"/><circle cx="533.0" cy="647.0" r="2.5"/><circle cx="625.7" cy="624.9" r="2.5"/><circle cx="533.0" cy="646.1" r="2.5"/><circle cx="625.7" cy="629.7" r="2.5"/><circle cx="533.0" cy="645.1" r="2.5"/><circle cx="625.7" cy="633.5" r="2.5"/><circle cx="533.0" cy="644.2" r="2.5"/><circle cx="625.7" cy="623.0" r="2.5"/><circle cx="533.0" cy="643.2" r="2.5"/><circle cx="625.7" cy="617.9" r="2.5"/><circle cx="533.0" cy="642.2" r="2.5"/><circle cx="625.7" cy="640.1" r="2.5"/><circle cx="533.0" cy="641.3" r="2.5"/><circle cx="625.7" cy="625.9" r="2.5"/><circle cx="533.0" cy="640.3" r="2.5"/><circle cx="625.7" cy="631.6" r="2.5"/><circle cx="533.0" cy="639.3" r="2.5"/><circle cx="625.7" cy="623.0" r="2.5"/><circle cx="533.0" cy="638.4" r="2.5"/><circle cx="625.7" cy="632.3" r="2.5"/><circle cx="533.0" cy="637.4" r="2.5"/><circle cx="625.7" cy="618.9" r="2.5"/></g>
</svg></body></html>
